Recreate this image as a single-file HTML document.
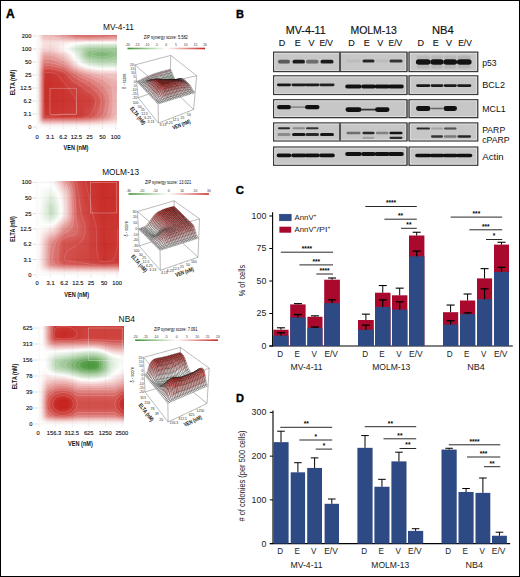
<!DOCTYPE html>
<html><head><meta charset="utf-8"><style>
html,body{margin:0;padding:0;background:#fff;}
#w{position:relative;width:520px;height:577px;overflow:hidden;background:#fff;}
.hm{position:absolute;}
.hm i{display:block;height:1px;}
svg{position:absolute;left:0;top:0;display:block;font-family:'Liberation Sans', sans-serif;}
</style></head><body><div id="w">
<div class="hm" style="left:36px;top:35px;width:81px;height:93px"><i style="background:linear-gradient(90deg,#ffffff 0px,#fffefe 1px,#fbf0ef 3px,#f0c3c1 7px,#eebcba 8px,#edb7b6 17px,#e28f8c 30px,#db716e 38px,#d76460 50px,#d86764 65px,#db7470 81px)"></i><i style="background:linear-gradient(90deg,#ffffff 0px,#fffefe 1px,#fbf0f0 3px,#f0c6c4 7px,#eebdbc 9px,#eebbba 17px,#e59896 30px,#dd7a77 39px,#d96c68 52px,#dc7572 69px,#de7f7d 81px)"></i><i style="background:linear-gradient(90deg,#ffffff 0px,#fef9f9 2px,#f1c9c8 7px,#efc1c0 9px,#efc0be 17px,#e7a2a0 30px,#e08583 40px,#dd7976 52px,#df817e 65px,#e28e8b 81px)"></i><i style="background:linear-gradient(90deg,#ffffff 0px,#fefafa 2px,#f2cdcc 7px,#f0c5c4 9px,#f0c4c2 18px,#eaaba9 31px,#e49592 40px,#e18986 53px,#e69f9c 81px)"></i><i style="background:linear-gradient(90deg,#ffffff 0px,#fefafa 2px,#f3d1d0 7px,#f2cac9 9px,#f1c8c6 20px,#ecb6b4 32px,#e8a4a2 42px,#e69c9a 54px,#ebb2b0 81px)"></i><i style="background:linear-gradient(90deg,#ffffff 0px,#fefbfb 2px,#f5d7d7 7px,#f3d2d0 9px,#f2cdcc 27px,#eebdbc 44px,#eebdbc 59px,#f2cbc9 81px)"></i><i style="background:linear-gradient(90deg,#ffffff 0px,#fefcfc 2px,#f6dad9 8px,#f6dcdb 46px,#f9e6e6 81px)"></i><i style="background:linear-gradient(90deg,#ffffff 0px,#fdf8f8 3px,#f7dfde 8px,#f7e0df 19px,#fdf8f8 46px,#fffefe 55px,#fffffe 81px)"></i><i style="background:linear-gradient(90deg,#ffffff 0px,#fdf8f8 3px,#f7dfdf 8px,#f7e0e0 19px,#fefffe 41px,#edf5ec 52px,#edf5ec 81px)"></i><i style="background:linear-gradient(90deg,#ffffff 0px,#fdf8f8 3px,#f7dfde 8px,#f7e0df 19px,#fdf8f7 32px,#ffffff 35px,#ddecdb 52px,#dcebd9 77px,#ddebda 81px)"></i><i style="background:linear-gradient(90deg,#ffffff 0px,#fdf8f8 3px,#f6dddc 8px,#f7dedd 18px,#faebea 25px,#fefffe 33px,#d4e6d0 49px,#cce2c8 57px,#cce2c9 78px,#cde2c9 81px)"></i><i style="background:linear-gradient(90deg,#ffffff 0px,#fefcfc 2px,#f6dbdb 8px,#f6dbdb 17px,#f9e9e8 24px,#fffefe 31px,#f3f8f3 35px,#cae1c6 48px,#bfdbbb 55px,#bcd9b7 71px,#bfdaba 81px)"></i><i style="background:linear-gradient(90deg,#ffffff 0px,#fefcfc 2px,#f5d9d8 8px,#f5d9d9 17px,#f9e9e9 24px,#fefefe 31px,#c1dbbc 48px,#b5d5af 54px,#aed1a8 68px,#b3d4ae 81px)"></i><i style="background:linear-gradient(90deg,#ffffff 0px,#fefcfb 2px,#f5d6d5 8px,#f5d7d6 17px,#faedec 25px,#fffefe 30px,#edf5ec 35px,#b3d4ae 50px,#a8cea2 57px,#a3cb9d 69px,#abcfa5 81px)"></i><i style="background:linear-gradient(90deg,#ffffff 0px,#fefbfb 2px,#f4d3d2 8px,#f4d2d1 16px,#f8e5e5 23px,#fffdfd 30px,#f9fcf9 32px,#bfdbbb 46px,#a7cda1 52px,#9bc693 64px,#9ec897 74px,#a6cca0 81px)"></i><i style="background:linear-gradient(90deg,#ffffff 0px,#fefbfb 2px,#f3d1d0 7px,#f1cac9 9px,#f2cecc 17px,#fdf8f8 30px,#fdfefd 32px,#c4dec0 45px,#a4cb9d 51px,#98c591 57px,#92c18a 67px,#9ac693 76px,#a2ca9b 81px)"></i><i style="background:linear-gradient(90deg,#ffffff 0px,#fefafa 2px,#f1c9c8 7px,#efc0bf 9px,#f0c5c4 17px,#faecec 29px,#fffefe 33px,#d0e4cc 43px,#9fc898 51px,#93c18b 56px,#8abc81 66px,#91c089 74px,#9fc898 80px,#9fc898 81px)"></i><i style="background:linear-gradient(90deg,#ffffff 0px,#fffefe 1px,#fbf0ef 3px,#efc0bf 7px,#edb9b7 8px,#edb7b6 12px,#eebebc 18px,#f9e7e7 30px,#fefbfb 34px,#fdfefd 35px,#d2e5cf 43px,#a0c999 50px,#93c28b 53px,#84b97b 64px,#87bb7e 71px,#9cc795 80px,#9cc795 81px)"></i><i style="background:linear-gradient(90deg,#ffffff 0px,#fffefe 1px,#fdf8f8 2px,#f7e0df 4px,#edb8b6 7px,#ebb0ae 8px,#eaaeac 11px,#ecb5b3 18px,#f6dad9 29px,#fefefe 36px,#d4e7d1 43px,#9ec897 50px,#90c088 53px,#81b778 63px,#82b879 70px,#92c18a 77px,#9bc694 80px,#9bc694 81px)"></i><i style="background:linear-gradient(90deg,#ffffff 0px,#fffefe 1px,#fdf8f7 2px,#f6dedd 4px,#ebb2b0 7px,#e9a9a7 8px,#e8a6a4 10px,#eaaeac 18px,#f3cfcd 28px,#fcf4f4 35px,#fdfefd 37px,#d6e8d3 43px,#9ec897 50px,#90c088 53px,#81b778 63px,#82b879 70px,#92c18a 77px,#9bc694 80px,#9bc694 81px)"></i><i style="background:linear-gradient(90deg,#ffffff 0px,#fffefe 1px,#fdf7f7 2px,#f6dbda 4px,#eaacab 7px,#e7a3a1 8px,#e7a09e 10px,#e9a8a6 18px,#f1c8c7 28px,#f9e9e8 34px,#fefdfd 37px,#fbfdfb 38px,#d9ead7 43px,#a7cda1 49px,#96c38f 52px,#86ba7d 61px,#84b97b 69px,#91c089 76px,#9cc795 80px,#9cc795 81px)"></i><i style="background:linear-gradient(90deg,#ffffff 0px,#fffefe 1px,#fdf7f6 2px,#f5d9d8 4px,#e9a7a5 7px,#e69d9b 8px,#e59b98 10px,#e7a2a0 18px,#efc2c0 28px,#f8e3e3 34px,#ffffff 38px,#ddecda 43px,#acd0a6 49px,#9bc694 52px,#8abd82 61px,#88bb80 69px,#94c28d 76px,#9fc898 80px,#9fc898 81px)"></i><i style="background:linear-gradient(90deg,#ffffff 0px,#fffefe 1px,#fdf6f6 2px,#f5d7d6 4px,#e7a3a1 7px,#e59896 8px,#e49593 10px,#e69d9b 18px,#eebbba 28px,#f7dede 34px,#fefbfb 38px,#fcfefc 39px,#d9e9d6 44px,#b2d3ad 49px,#9fc898 53px,#8fbf87 63px,#8fbf87 70px,#9fc898 78px,#a3cb9d 81px)"></i><i style="background:linear-gradient(90deg,#ffffff 0px,#fffefe 1px,#fdf6f5 2px,#f4d5d4 4px,#e69e9c 7px,#e39391 8px,#e3908d 9px,#e59895 18px,#ebb2b0 27px,#f2cbca 32px,#fffefe 39px,#edf5ec 42px,#b9d7b4 49px,#a7cda1 53px,#96c38f 63px,#97c490 71px,#a8cda2 81px)"></i><i style="background:linear-gradient(90deg,#ffffff 0px,#fffefe 1px,#fdf5f5 2px,#f4d3d2 4px,#eaaba9 6px,#e59a98 7px,#e28f8c 8px,#e18b88 9px,#e39290 18px,#eaacaa 27px,#f0c6c4 32px,#fefffe 40px,#bcd9b7 50px,#aed1a8 54px,#9ec897 64px,#a1c99a 73px,#add0a7 81px)"></i><i style="background:linear-gradient(90deg,#ffffff 0px,#fffefe 1px,#fcf5f5 2px,#f3d2d1 4px,#e9a7a5 6px,#e49693 7px,#e18a87 8px,#e08583 9px,#e28d8a 18px,#e8a5a3 27px,#edb9b8 31px,#fefbfb 40px,#fdfefd 41px,#c5dec0 50px,#b7d6b1 54px,#a6cda0 64px,#aacea3 74px,#b3d4ae 81px)"></i><i style="background:linear-gradient(90deg,#ffffff 0px,#fffefe 1px,#fcf4f4 2px,#f8e4e4 3px,#e8a4a2 6px,#e3918f 7px,#e08582 8px,#df807d 9px,#e08785 18px,#e69f9d 27px,#ecb3b1 31px,#fefcfb 41px,#fcfdfc 42px,#cde3c9 50px,#bddab9 55px,#afd1a9 64px,#b2d3ac 75px,#b9d7b4 81px)"></i><i style="background:linear-gradient(90deg,#ffffff 0px,#fffefe 1px,#fcf4f4 2px,#f8e3e2 3px,#e7a09d 6px,#e28c8a 7px,#de7f7c 8px,#dd7b77 9px,#df8380 19px,#e69c9a 28px,#edbab9 33px,#fcf5f5 41px,#fefcfc 42px,#fcfdfc 43px,#d5e7d2 50px,#c3ddbf 56px,#b6d6b1 65px,#bbd8b6 77px,#bedaba 81px)"></i><i style="background:linear-gradient(90deg,#ffffff 0px,#fffefe 1px,#fcf3f3 2px,#f8e2e1 3px,#e59b99 6px,#e08784 7px,#dd7976 8px,#dc7471 9px,#de7d7a 19px,#e49592 28px,#ecb3b1 33px,#fbeded 41px,#fefafa 43px,#fdfefd 44px,#daead8 51px,#c3ddbf 61px,#bfdaba 69px,#c6dec2 81px)"></i><i style="background:linear-gradient(90deg,#ffffff 0px,#fffefd 1px,#fcf3f3 2px,#f7e0e0 3px,#e49694 6px,#df817e 7px,#db736f 8px,#da6d6a 9px,#dc7572 19px,#e28d8a 28px,#e8a3a1 32px,#f8e4e4 41px,#fffdfd 45px,#f6faf6 47px,#deecdc 53px,#cbe2c8 63px,#cbe1c7 76px,#cfe3cb 81px)"></i><i style="background:linear-gradient(90deg,#ffffff 0px,#fffdfd 1px,#fcf2f2 2px,#f7dfde 3px,#e3918f 6px,#dd7b78 7px,#d96c68 8px,#d86663 9px,#da6e6a 19px,#e08481 28px,#e7a19f 33px,#f4d5d4 40px,#fffdfd 47px,#e5f0e3 55px,#d6e7d3 64px,#d6e8d3 77px,#d9e9d6 81px)"></i><i style="background:linear-gradient(90deg,#ffffff 0px,#fffdfd 1px,#fcf2f1 2px,#f6dddd 3px,#e28c89 6px,#dc7572 7px,#d86561 8px,#d65f5b 9px,#d86662 19px,#dd7b78 28px,#e59896 33px,#f1cac9 40px,#ffffff 50px,#e9f2e7 59px,#e0edde 67px,#e3efe1 81px)"></i><i style="background:linear-gradient(90deg,#ffffff 0px,#fffdfd 1px,#fbf1f1 2px,#f6dcdb 3px,#e08784 6px,#da6f6b 7px,#d65e5a 8px,#d45754 9px,#d65e5a 19px,#db7370 28px,#e28f8c 33px,#efbfbd 40px,#fcf1f1 50px,#ffffff 54px,#edf5ec 65px,#edf5ec 78px,#eff6ed 81px)"></i><i style="background:linear-gradient(90deg,#ffffff 0px,#fffdfd 1px,#fbf1f0 2px,#f6dada 3px,#df827f 6px,#d96965 7px,#d45753 8px,#d2504c 9px,#d45652 19px,#d96a67 28px,#e08582 33px,#ecb3b2 40px,#f8e4e3 50px,#fefcfc 59px,#fdfefc 62px,#f8fbf7 75px,#fafcfa 81px)"></i><i style="background:linear-gradient(90deg,#ffffff 0px,#fffdfd 1px,#fbf0f0 2px,#f5d9d8 3px,#de7d7a 6px,#d7635f 7px,#d2504c 8px,#d14a45 9px,#d24f4b 19px,#d7625e 28px,#dd7c79 33px,#eaadab 41px,#f5dad9 51px,#fcf4f3 62px,#fefafa 74px,#fdf8f8 81px)"></i><i style="background:linear-gradient(90deg,#ffffff 0px,#fffdfd 1px,#fbefef 2px,#f5d8d7 3px,#dd7976 6px,#d65d5a 7px,#d14a46 8px,#cf433f 9px,#d04844 19px,#d65e5a 29px,#e08683 36px,#eaaba9 43px,#f3d0cf 52px,#f9e7e7 63px,#faeded 77px,#faeceb 81px)"></i><i style="background:linear-gradient(90deg,#ffffff 0px,#fffdfd 1px,#fbefef 2px,#f5d7d6 3px,#dc7572 6px,#d55955 7px,#cf4541 8px,#ce3e39 9px,#cf423e 19px,#d45753 29px,#de7d7a 36px,#e8a4a2 44px,#f0c6c4 53px,#f6dcdb 64px,#f7e2e1 78px,#f7e1e0 81px)"></i><i style="background:linear-gradient(90deg,#ffffff 0px,#fefdfd 1px,#fbefee 2px,#f4d6d5 3px,#db726f 6px,#d45551 7px,#ce413d 8px,#cc3935 9px,#cd3d38 19px,#d2514d 29px,#e3918f 42px,#edb7b5 52px,#f3d0cf 64px,#f5d8d7 78px,#f5d7d6 81px)"></i><i style="background:linear-gradient(90deg,#ffffff 0px,#fefdfd 1px,#fbeeee 2px,#f4d5d4 3px,#da6f6c 6px,#d3524e 7px,#ce3e39 8px,#cc3631 9px,#cc3935 19px,#d14c48 29px,#e28c8a 43px,#ebafad 53px,#f1c7c6 65px,#f3d0cf 79px,#f3d0ce 81px)"></i><i style="background:linear-gradient(90deg,#ffffff 0px,#fefdfd 1px,#fbeeee 2px,#f4d5d4 3px,#da6e6b 6px,#d2504c 7px,#cd3c37 8px,#cb342f 9px,#cc3833 20px,#d04844 29px,#e18886 44px,#eaaba9 55px,#efc0bf 66px,#f1cac9 80px,#f1cac9 81px)"></i><i style="background:linear-gradient(90deg,#ffffff 0px,#fefdfd 1px,#fbeeee 2px,#f4d4d3 3px,#da6d6a 6px,#d2504c 7px,#cd3b36 8px,#cb332e 9px,#cc3732 20px,#d04945 30px,#df827f 44px,#e8a6a4 56px,#eebcbb 68px,#f1c7c6 81px)"></i><i style="background:linear-gradient(90deg,#ffffff 0px,#fefdfd 1px,#fbeeee 2px,#f4d4d3 3px,#da6d6a 6px,#d24f4b 7px,#cd3a36 8px,#cb322e 9px,#cc3631 20px,#d04743 30px,#df827f 46px,#e9a8a6 60px,#efc0be 75px,#f0c4c3 81px)"></i><i style="background:linear-gradient(90deg,#ffffff 0px,#fefdfd 1px,#fbeeee 2px,#f4d4d3 3px,#da6c69 6px,#d24f4b 7px,#cd3a35 8px,#cb322d 9px,#cc3632 21px,#cf4540 30px,#e18885 50px,#eaaeac 66px,#efc1c0 80px,#efc1c0 81px)"></i><i style="background:linear-gradient(90deg,#ffffff 0px,#fefdfd 1px,#fbeeee 2px,#f4d4d3 3px,#d96c69 6px,#d24e4a 7px,#cc3935 8px,#ca312d 9px,#cb3531 21px,#d04541 31px,#e28c8a 54px,#eaaead 69px,#efbfbd 81px)"></i><i style="background:linear-gradient(90deg,#ffffff 0px,#fefdfd 1px,#fbeeee 2px,#f4d4d3 3px,#d96c68 6px,#d24e4a 7px,#cc3934 8px,#ca312c 9px,#cb3530 21px,#cf433f 31px,#e59b99 62px,#eebdbb 80px,#eebdbb 81px)"></i><i style="background:linear-gradient(90deg,#ffffff 0px,#fefdfd 1px,#fbeeee 2px,#f4d4d3 3px,#d96b68 6px,#d24d49 7px,#cc3834 8px,#ca302c 9px,#cb3530 22px,#cf443f 32px,#e8a4a2 68px,#edbbb9 80px,#edbbb9 81px)"></i><i style="background:linear-gradient(90deg,#ffffff 0px,#fefdfd 1px,#fbeeee 2px,#f4d4d3 3px,#d96b68 6px,#d24d49 7px,#cc3833 8px,#ca302b 9px,#cb3430 22px,#cf443f 33px,#e28e8c 61px,#edb7b6 79px,#edb9b7 81px)"></i><i style="background:linear-gradient(90deg,#ffffff 0px,#fefdfd 1px,#fbeeee 2px,#f4d4d3 3px,#d96b68 6px,#d14d49 7px,#cc3833 8px,#ca302b 9px,#cb342f 22px,#cf423d 33px,#da6d6a 51px,#e9a8a6 73px,#edb7b5 81px)"></i><i style="background:linear-gradient(90deg,#ffffff 0px,#fefdfd 1px,#fbeeee 2px,#f4d4d3 3px,#d96b67 6px,#d14d48 7px,#cc3733 8px,#ca302b 9px,#cb342f 23px,#cf433f 35px,#d86562 50px,#e9aaa8 75px,#ecb5b4 81px)"></i><i style="background:linear-gradient(90deg,#ffffff 0px,#fefdfd 1px,#fbeeed 2px,#f4d4d3 3px,#d96b67 6px,#d14c48 7px,#cc3733 8px,#ca2f2b 9px,#cb342f 23px,#cf4440 37px,#d7615d 50px,#eaadab 77px,#ecb4b3 81px)"></i><i style="background:linear-gradient(90deg,#ffffff 0px,#fefdfd 1px,#fbeeed 2px,#f4d4d3 3px,#d96b67 6px,#d14c48 7px,#cc3733 8px,#ca2f2a 9px,#cb342f 24px,#d04743 40px,#d96a67 55px,#ebb1b0 79px,#ecb3b2 81px)"></i><i style="background:linear-gradient(90deg,#ffffff 0px,#fefdfd 1px,#fbeeed 2px,#f4d4d3 3px,#d96a67 6px,#d14c48 7px,#cc3732 8px,#ca2f2a 9px,#cb342f 24px,#d04642 41px,#d96966 56px,#ebb3b1 80px,#ebb3b1 81px)"></i><i style="background:linear-gradient(90deg,#ffffff 0px,#fefdfd 1px,#fbeeed 2px,#f4d4d3 3px,#d96a67 6px,#d14c48 7px,#cc3732 8px,#ca2f2a 9px,#cb342f 25px,#d04642 42px,#d86662 56px,#ebb2b1 80px,#ebb2b1 81px)"></i><i style="background:linear-gradient(90deg,#ffffff 0px,#fefdfd 1px,#fbeeed 2px,#f4d4d3 3px,#d96a67 6px,#d14c48 7px,#cc3732 8px,#ca2f2a 9px,#cb342f 25px,#d04642 43px,#d86562 57px,#ebb2b1 80px,#ebb2b1 81px)"></i><i style="background:linear-gradient(90deg,#ffffff 0px,#fefdfd 1px,#fbeeed 2px,#f4d4d3 3px,#d96a67 6px,#d14c48 7px,#cc3732 8px,#ca2f2a 9px,#cb3430 26px,#d04642 44px,#d7625e 57px,#ebb3b1 80px,#ebb3b1 81px)"></i><i style="background:linear-gradient(90deg,#ffffff 0px,#fefdfd 1px,#fbeeed 2px,#f4d4d3 3px,#d96a67 6px,#d14c48 7px,#cc3732 8px,#ca2f2a 9px,#cb3530 27px,#d04743 46px,#d65e5b 57px,#e7a09e 75px,#ecb3b1 80px,#ecb3b1 81px)"></i><i style="background:linear-gradient(90deg,#ffffff 0px,#fefdfd 1px,#fbeeed 2px,#f4d4d3 3px,#d96a67 6px,#d14c48 7px,#cc3732 8px,#ca2f2a 9px,#cb3530 28px,#d04743 47px,#d55b57 57px,#e49693 73px,#ecb3b2 80px,#ecb3b2 81px)"></i><i style="background:linear-gradient(90deg,#ffffff 0px,#fefdfd 1px,#fbeeed 2px,#f4d4d3 3px,#d96a67 6px,#d14c48 7px,#cc3732 8px,#ca2f2a 9px,#cb3530 28px,#d04844 49px,#d55b57 58px,#e49492 73px,#ebb1af 79px,#ecb4b2 81px)"></i><i style="background:linear-gradient(90deg,#ffffff 0px,#fefdfd 1px,#fbeeed 2px,#f4d4d3 3px,#d96a67 6px,#d14c48 7px,#cc3732 8px,#ca2f2a 9px,#cb3530 29px,#d04944 51px,#d45754 58px,#e28e8b 72px,#ebb1b0 79px,#ecb4b3 81px)"></i><i style="background:linear-gradient(90deg,#ffffff 0px,#fefdfd 1px,#fbeeed 2px,#f4d4d3 3px,#d96a67 6px,#d14c48 7px,#cc3732 8px,#ca2f2a 9px,#cb3531 30px,#d04945 53px,#d55b57 60px,#e28c89 72px,#ebb2b0 79px,#ecb5b3 81px)"></i><i style="background:linear-gradient(90deg,#ffffff 0px,#fefdfd 1px,#fbeeed 2px,#f4d4d3 3px,#d96a67 6px,#d14c48 7px,#cc3732 8px,#ca2f2a 9px,#cc3631 31px,#d04844 54px,#d55c58 61px,#e18a88 72px,#ebb2b0 79px,#ecb6b4 81px)"></i><i style="background:linear-gradient(90deg,#ffffff 0px,#fefdfd 1px,#fbeeed 2px,#f4d4d3 3px,#d96a67 6px,#d14c48 7px,#cc3732 8px,#ca2f2a 9px,#cc3631 32px,#d04642 54px,#d55955 61px,#df8481 71px,#ecb6b5 80px,#ecb6b5 81px)"></i><i style="background:linear-gradient(90deg,#ffffff 0px,#fefdfd 1px,#fbeeed 2px,#f4d4d3 3px,#d96a67 6px,#d14c48 7px,#cc3732 8px,#ca2f2a 9px,#cc3631 32px,#d04642 55px,#d55b57 62px,#df8280 71px,#edb7b5 80px,#edb7b5 81px)"></i><i style="background:linear-gradient(90deg,#ffffff 0px,#fefdfd 1px,#fbeeed 2px,#f4d4d3 3px,#d96a67 6px,#d14c48 7px,#cc3732 8px,#ca2f2a 9px,#cc3632 33px,#cf4440 55px,#d55956 62px,#df817e 71px,#edb8b6 80px,#edb8b6 81px)"></i><i style="background:linear-gradient(90deg,#ffffff 0px,#fefdfd 1px,#fbeeed 2px,#f4d4d3 3px,#d96a67 6px,#d14c48 7px,#cc3732 8px,#ca2f2a 9px,#cc3632 33px,#cf433f 55px,#d45854 62px,#df817e 71px,#edb8b7 80px,#edb8b7 81px)"></i><i style="background:linear-gradient(90deg,#ffffff 0px,#fefdfd 1px,#fbeeed 2px,#f4d4d3 3px,#d96a67 6px,#d14c48 7px,#cc3732 8px,#ca2f2a 9px,#cc3732 34px,#cf433e 55px,#d45854 62px,#df807d 71px,#edb9b7 80px,#edb9b7 81px)"></i><i style="background:linear-gradient(90deg,#ffffff 0px,#fefdfd 1px,#fbeeed 2px,#f4d4d3 3px,#d96a67 6px,#d14c48 7px,#cc3732 8px,#ca2f2a 9px,#cc3732 34px,#cf433e 55px,#d45854 62px,#df807d 71px,#edb9b8 80px,#edb9b8 81px)"></i><i style="background:linear-gradient(90deg,#ffffff 0px,#fefdfd 1px,#fbeeed 2px,#f4d4d3 3px,#d96a67 6px,#d14c48 7px,#cc3732 8px,#ca2f2a 9px,#cc3732 34px,#cf433e 55px,#d45854 62px,#df807d 71px,#edb9b8 80px,#edb9b8 81px)"></i><i style="background:linear-gradient(90deg,#ffffff 0px,#fefdfd 1px,#fbeeed 2px,#f4d4d3 3px,#d96b67 6px,#d14c48 7px,#cc3733 8px,#ca2f2a 9px,#cc3733 35px,#cf433f 55px,#d45854 62px,#df817e 71px,#edbab8 80px,#edbab8 81px)"></i><i style="background:linear-gradient(90deg,#ffffff 0px,#fefdfd 1px,#fbeeee 2px,#f4d4d3 3px,#d96b67 6px,#d14d48 7px,#cc3733 8px,#ca2f2b 9px,#cc3833 36px,#cf443f 55px,#d55955 62px,#df817e 71px,#edbab8 80px,#edbab8 81px)"></i><i style="background:linear-gradient(90deg,#ffffff 0px,#fefdfd 1px,#fbeeee 2px,#f4d4d3 3px,#d96b68 6px,#d14d49 7px,#cc3833 8px,#ca302b 9px,#cc3934 38px,#cf4440 55px,#d55a56 62px,#df827f 71px,#edbab9 80px,#edbab9 81px)"></i><i style="background:linear-gradient(90deg,#ffffff 0px,#fefdfd 1px,#fbeeee 2px,#f4d4d3 3px,#d96b68 6px,#d24d49 7px,#cc3834 8px,#ca302c 9px,#cd3a36 42px,#cf4541 55px,#d55b57 62px,#df8380 71px,#eebbb9 80px,#eebbb9 81px)"></i><i style="background:linear-gradient(90deg,#ffffff 0px,#fefdfd 1px,#fbeeee 2px,#f4d4d3 3px,#d96c68 6px,#d24e4a 7px,#cc3934 8px,#ca312c 9px,#cd3c38 45px,#d04844 56px,#d86864 65px,#e28f8c 73px,#eebbb9 80px,#eebbb9 81px)"></i><i style="background:linear-gradient(90deg,#ffffff 0px,#fefdfd 1px,#fbeeee 2px,#f4d4d3 3px,#d96c69 6px,#d24e4a 7px,#cc3935 8px,#ca312d 9px,#cd3d39 46px,#d14945 56px,#d96966 65px,#e3908d 73px,#eebbba 80px,#eebbba 81px)"></i><i style="background:linear-gradient(90deg,#ffffff 0px,#fefdfd 1px,#fbeeee 2px,#f4d4d3 3px,#da6d69 6px,#d24f4b 7px,#cd3a35 8px,#cb322d 9px,#ce3e3a 47px,#d24d49 57px,#dc7774 68px,#e8a3a1 76px,#eebbba 80px,#eebbba 81px)"></i><i style="background:linear-gradient(90deg,#ffffff 0px,#fefdfd 1px,#fbeeee 2px,#f4d4d3 3px,#da6d6a 6px,#d24f4b 7px,#cd3a36 8px,#cb332e 9px,#cd3d39 46px,#d14c48 56px,#da706d 66px,#e59896 74px,#eebcba 80px,#eebcba 81px)"></i><i style="background:linear-gradient(90deg,#ffffff 0px,#fefdfd 1px,#fbeeee 2px,#f4d5d4 3px,#da6e6a 6px,#d2504c 7px,#cd3b37 8px,#cb332f 9px,#cd3d38 45px,#d24e49 56px,#db716e 66px,#e59997 74px,#eebcbb 80px,#eebcbb 81px)"></i><i style="background:linear-gradient(90deg,#ffffff 0px,#fefdfd 1px,#fbeeee 2px,#f4d5d4 3px,#da6e6b 6px,#d2514d 7px,#cd3c38 8px,#cb3430 9px,#cd3d38 45px,#d3524e 57px,#dd7b78 68px,#eaacaa 77px,#eebdbb 80px,#eebdbb 81px)"></i><i style="background:linear-gradient(90deg,#ffffff 0px,#fefdfd 1px,#fbeeee 2px,#f4d5d4 3px,#da6f6b 6px,#d3514d 7px,#cd3d38 8px,#cb3530 9px,#cd3d38 45px,#d3534f 57px,#de7d7a 68px,#eaadab 77px,#eebdbc 80px,#eebdbc 81px)"></i><i style="background:linear-gradient(90deg,#ffffff 0px,#fefdfd 1px,#fbeeee 2px,#f4d5d4 3px,#da706c 6px,#d3524e 7px,#ce3e39 8px,#cc3632 9px,#cd3a36 40px,#cf423d 48px,#d45854 58px,#e08885 70px,#eebebc 80px,#eebebc 81px)"></i><i style="background:linear-gradient(90deg,#ffffff 0px,#fefdfd 1px,#fbefee 2px,#f4d5d5 3px,#db716e 6px,#d35450 7px,#ce403b 8px,#cc3833 9px,#cd3b37 37px,#ce3e3a 45px,#d45753 57px,#e08582 69px,#eebebd 80px,#eebebd 81px)"></i><i style="background:linear-gradient(90deg,#ffffff 0px,#fefdfd 1px,#fbefee 2px,#f5d6d5 3px,#db7370 6px,#d45652 7px,#cf423e 8px,#cd3b36 9px,#ce3e3a 35px,#ce3f3b 44px,#d55a56 57px,#e08784 69px,#efbfbe 80px,#efbfbe 81px)"></i><i style="background:linear-gradient(90deg,#ffffff 0px,#fffdfd 1px,#fbefef 2px,#f5d8d7 3px,#dd7875 6px,#d65d59 7px,#d14a46 8px,#cf423e 9px,#d04541 35px,#d04642 44px,#d7615d 57px,#e28c8a 69px,#efc2c1 80px,#efc2c1 81px)"></i><i style="background:linear-gradient(90deg,#ffffff 0px,#fffdfd 1px,#fbf1f0 2px,#f6dbda 3px,#df8380 6px,#d96a67 7px,#d45855 8px,#d3524e 9px,#d35450 36px,#d45652 45px,#db706d 58px,#e69e9c 71px,#f1c7c6 80px,#f1c7c6 81px)"></i><i style="background:linear-gradient(90deg,#ffffff 0px,#fffdfd 1px,#fcf2f2 2px,#f7dfde 3px,#e39290 6px,#dd7c79 7px,#da6c69 8px,#d86763 9px,#d86864 39px,#da6d6a 47px,#e08481 59px,#ebb2b0 73px,#f2cecc 80px,#f2cecc 81px)"></i><i style="background:linear-gradient(90deg,#ffffff 0px,#fffefe 1px,#fcf4f4 2px,#f8e4e4 3px,#e8a3a1 6px,#e3918e 7px,#df8481 8px,#de7f7c 9px,#df827f 45px,#e59795 59px,#efc1c0 74px,#f4d5d4 80px,#f4d5d4 81px)"></i><i style="background:linear-gradient(90deg,#ffffff 0px,#fffefe 1px,#fdf7f6 2px,#f5d9d8 4px,#e8a7a5 7px,#e69c9a 8px,#e59996 10px,#e69c99 46px,#eaaeac 60px,#f4d3d2 76px,#f6dedd 80px,#f6dedd 81px)"></i><i style="background:linear-gradient(90deg,#ffffff 0px,#fffefe 1px,#fbefef 3px,#eebdbb 7px,#ecb5b3 8px,#ebb2b0 11px,#ecb5b3 47px,#f1c6c5 63px,#f9e6e5 81px)"></i><i style="background:linear-gradient(90deg,#ffffff 0px,#fefbfa 2px,#f3d1d0 7px,#f1c9c8 9px,#f2cccb 49px,#f6dddc 68px,#fbeded 81px)"></i><i style="background:linear-gradient(90deg,#ffffff 0px,#fdf8f8 3px,#f7dfde 8px,#f7e0df 51px,#fcf4f4 81px)"></i><i style="background:linear-gradient(90deg,#ffffff 0px,#fdf9f8 4px,#fbeeed 9px,#fbf1f1 60px,#fef9f9 81px)"></i><i style="background:linear-gradient(90deg,#ffffff 0px,#fdf9f9 12px,#fefdfd 81px)"></i><i style="background:linear-gradient(90deg,#ffffff 0px,#ffffff 81px)"></i></div>
<div class="hm" style="left:36px;top:181px;width:83px;height:95px"><i style="background:linear-gradient(90deg,#ffffff 0px,#fdf9f9 16px,#faecec 19px,#d65e5a 38px,#d14b47 42px,#cc3632 52px,#c92d28 68px,#cb332f 83px)"></i><i style="background:linear-gradient(90deg,#ffffff 0px,#fefafa 16px,#faeded 19px,#db7471 35px,#d3534f 40px,#ce3f3a 47px,#ca312c 58px,#c92d29 72px,#cb332f 83px)"></i><i style="background:linear-gradient(90deg,#ffffff 0px,#fefcfc 16px,#faeaea 20px,#e3918e 32px,#d6605c 38px,#d14c47 42px,#cc3732 52px,#c92d28 68px,#cb332f 83px)"></i><i style="background:linear-gradient(90deg,#ffffff 0px,#ffffff 16px,#faeded 20px,#e69e9c 31px,#d7615e 38px,#d2504c 41px,#cd3a36 50px,#c92d28 66px,#cb322e 80px,#cb332f 83px)"></i><i style="background:linear-gradient(90deg,#ffffff 0px,#fdfefd 16px,#fffefe 17px,#faeaea 21px,#e7a3a1 31px,#d7635f 38px,#d2504c 41px,#cd3a36 50px,#c92d28 66px,#cb322e 80px,#cb332f 83px)"></i><i style="background:linear-gradient(90deg,#ffffff 0px,#fbfdfb 16px,#fffdfd 18px,#f7e0e0 23px,#e9a7a5 31px,#d76461 38px,#d3514d 41px,#cd3b36 50px,#c92d28 66px,#cb322d 80px,#cb332f 83px)"></i><i style="background:linear-gradient(90deg,#ffffff 0px,#f9fcf9 16px,#fefefe 18px,#fbf1f1 21px,#ecb5b3 30px,#d65e5a 39px,#d24e4a 42px,#cd3a35 51px,#c92d28 67px,#cb332f 83px)"></i><i style="background:linear-gradient(90deg,#ffffff 0px,#f7faf6 16px,#ffffff 19px,#f1c8c6 28px,#ebb0ae 31px,#d86764 38px,#d3524e 41px,#cd3d39 49px,#c92e29 64px,#ca302c 78px,#cb332f 83px)"></i><i style="background:linear-gradient(90deg,#ffffff 0px,#f7faf7 11px,#f5f9f4 16px,#fdfefd 19px,#fefdfd 20px,#eebdbc 30px,#d96965 38px,#d3534f 41px,#ce3e39 49px,#c92e29 64px,#ca302c 78px,#cb332f 83px)"></i><i style="background:linear-gradient(90deg,#ffffff 0px,#f8fbf8 9px,#f3f8f2 16px,#fffffe 20px,#f3d0cf 28px,#edb8b6 31px,#d96a67 38px,#d35450 41px,#ce3e3a 49px,#ca2e29 64px,#ca302c 78px,#cb332f 83px)"></i><i style="background:linear-gradient(90deg,#ffffff 0px,#f9fbf8 8px,#f0f7ef 16px,#fffdfd 21px,#f2cdcc 29px,#ebb1af 32px,#d96b68 38px,#d35450 41px,#ce3e3a 49px,#ca2e29 64px,#ca302c 78px,#cb332f 83px)"></i><i style="background:linear-gradient(90deg,#ffffff 0px,#f9fcf9 7px,#eef5ec 15px,#f6faf5 19px,#fefefe 21px,#fbefef 24px,#f1c8c7 30px,#e28f8d 35px,#d7635f 39px,#d2514d 42px,#cd3b37 51px,#c92d28 66px,#cb322d 80px,#cb332f 83px)"></i><i style="background:linear-gradient(90deg,#ffffff 0px,#f9fbf8 7px,#ebf4ea 15px,#f3f8f2 19px,#fffefe 22px,#f4d4d3 29px,#ecb6b5 32px,#da6e6a 38px,#d45552 41px,#ce3f3b 49px,#c92d29 65px,#ca312c 79px,#cb332f 83px)"></i><i style="background:linear-gradient(90deg,#ffffff 0px,#f8fbf8 7px,#e9f3e8 15px,#f1f7f0 19px,#fefefe 22px,#fbefef 25px,#f2cecd 30px,#e7a09d 34px,#da6f6b 38px,#d45652 41px,#ce403b 49px,#c92d29 65px,#ca312c 79px,#cb332f 83px)"></i><i style="background:linear-gradient(90deg,#ffffff 0px,#f9fcf9 6px,#e7f1e5 15px,#eff6ed 19px,#fffdfd 23px,#f5d8d8 29px,#edbab9 32px,#da706c 38px,#d45753 41px,#cf423e 48px,#ca2f2a 63px,#ca2f2a 76px,#cb332f 83px)"></i><i style="background:linear-gradient(90deg,#ffffff 0px,#f9fcf8 6px,#e4f0e2 15px,#e9f2e7 18px,#fffffe 23px,#f6dad9 29px,#eebcba 32px,#db706d 38px,#d45753 41px,#cf423e 48px,#ca2f2a 63px,#ca2f2a 76px,#cb332f 83px)"></i><i style="background:linear-gradient(90deg,#ffffff 0px,#f8fbf8 6px,#e3efe1 14px,#e4f0e2 17px,#f8fbf7 22px,#fdfefd 23px,#fefbfb 24px,#f4d3d1 30px,#e8a3a1 34px,#db716e 38px,#d45854 41px,#cf433e 48px,#ca2f2a 63px,#ca2e2a 75px,#cb332f 83px)"></i><i style="background:linear-gradient(90deg,#ffffff 0px,#fafcfa 5px,#e1eede 14px,#e1eedf 17px,#f6faf5 22px,#fefdfd 24px,#f4d3d2 30px,#e8a4a2 34px,#db726e 38px,#d45854 41px,#cf433f 48px,#ca2f2a 63px,#ca2e2a 75px,#cb332f 83px)"></i><i style="background:linear-gradient(90deg,#ffffff 0px,#fafcfa 5px,#deecdc 14px,#dfeddd 17px,#f4f9f3 22px,#fffefe 24px,#f4d4d3 30px,#e8a4a2 34px,#db726f 38px,#d45955 41px,#cf433f 48px,#ca2e2a 64px,#ca302b 77px,#cb332f 83px)"></i><i style="background:linear-gradient(90deg,#ffffff 0px,#fafcf9 5px,#dcebd9 14px,#dcebda 17px,#f3f8f2 22px,#fefffe 24px,#f4d4d3 30px,#e59795 35px,#d96965 39px,#d55955 41px,#cf4440 48px,#ca2e2a 64px,#ca302b 77px,#cb332f 83px)"></i><i style="background:linear-gradient(90deg,#ffffff 0px,#f9fcf9 5px,#d9e9d6 14px,#daead7 17px,#f1f7f0 22px,#fdfefd 24px,#fcf3f3 26px,#f4d4d3 30px,#e59896 35px,#d96966 39px,#d55956 41px,#cf4440 48px,#ca2f2a 64px,#ca302b 77px,#cb332f 83px)"></i><i style="background:linear-gradient(90deg,#ffffff 0px,#f9fbf8 5px,#d7e8d4 14px,#d7e8d5 17px,#eff6ee 22px,#fcfdfc 24px,#fefbfb 25px,#f4d5d4 30px,#e59896 35px,#d96a66 39px,#d55a56 41px,#cf4440 48px,#ca2f2a 64px,#ca302b 77px,#cb342f 83px)"></i><i style="background:linear-gradient(90deg,#ffffff 0px,#f8fbf8 5px,#d4e7d1 14px,#d5e7d2 17px,#eef5ed 22px,#fbfdfb 24px,#fefcfc 25px,#f4d5d4 30px,#dc7471 38px,#d55a57 41px,#cf4540 48px,#ca2f2a 64px,#ca302b 77px,#cb342f 83px)"></i><i style="background:linear-gradient(90deg,#ffffff 0px,#fbfdfb 4px,#e2eee0 10px,#d2e5cf 14px,#d3e6d0 17px,#edf5eb 22px,#fafcfa 24px,#fefdfd 25px,#f4d5d5 30px,#dc7572 38px,#d55b57 41px,#cf4541 48px,#ca2f2a 64px,#ca302b 77px,#cb342f 83px)"></i><i style="background:linear-gradient(90deg,#ffffff 0px,#fbfdfa 4px,#e6f1e4 9px,#d0e4cd 14px,#cfe3cb 16px,#dfeddd 20px,#fffefe 25px,#f4d6d5 30px,#dc7572 38px,#d55b57 41px,#d04541 48px,#ca2f2a 64px,#ca302b 77px,#cb342f 83px)"></i><i style="background:linear-gradient(90deg,#ffffff 0px,#fbfcfa 4px,#e5f0e3 9px,#cfe3cb 14px,#cde3c9 16px,#deecdc 20px,#fffefe 25px,#f5d6d5 30px,#dc7673 38px,#d55b58 41px,#d04641 48px,#ca2f2b 64px,#ca302c 77px,#cb3430 83px)"></i><i style="background:linear-gradient(90deg,#ffffff 0px,#fafcfa 4px,#e4f0e2 9px,#cde3ca 14px,#cce2c8 16px,#d7e8d4 19px,#ffffff 25px,#f5d6d5 30px,#dc7673 38px,#d55c58 41px,#d04642 48px,#ca302b 64px,#ca302c 77px,#cb3430 83px)"></i><i style="background:linear-gradient(90deg,#ffffff 0px,#fafcfa 4px,#e4f0e2 9px,#cde2c9 14px,#cbe1c7 16px,#d6e8d4 19px,#ffffff 25px,#f5d6d5 30px,#dc7673 38px,#d55c59 41px,#d04642 48px,#ca302b 64px,#ca312c 77px,#cb3530 83px)"></i><i style="background:linear-gradient(90deg,#ffffff 0px,#fafcfa 4px,#e4efe2 9px,#cce2c8 14px,#cae1c6 16px,#d6e8d3 19px,#fefffe 25px,#f5d7d6 30px,#dc7774 38px,#d55d59 41px,#d04743 48px,#ca302b 64px,#ca312c 77px,#cb3530 83px)"></i><i style="background:linear-gradient(90deg,#ffffff 0px,#fafcfa 4px,#e4efe2 9px,#cce2c8 14px,#cae1c6 16px,#d6e8d3 19px,#fefffe 25px,#f5d7d6 30px,#dc7774 38px,#d65d59 41px,#d04743 48px,#ca302b 64px,#ca312c 77px,#cb3530 83px)"></i><i style="background:linear-gradient(90deg,#ffffff 0px,#fafcfa 4px,#e4efe2 9px,#cce2c9 14px,#cae1c7 16px,#d6e8d3 19px,#fefffe 25px,#f5d7d6 30px,#dc7774 38px,#d65e5a 41px,#d04743 48px,#ca302c 64px,#ca312c 77px,#cb3531 83px)"></i><i style="background:linear-gradient(90deg,#ffffff 0px,#fafcfa 4px,#e4f0e2 9px,#cde2c9 14px,#cbe1c7 16px,#d7e8d4 19px,#fefffe 25px,#f5d7d6 30px,#dc7774 38px,#d65e5a 41px,#d04844 48px,#ca312c 64px,#ca312d 77px,#cb3531 83px)"></i><i style="background:linear-gradient(90deg,#ffffff 0px,#fafcfa 4px,#dfeddd 10px,#cee3ca 14px,#cce2c8 16px,#d7e8d4 19px,#ffffff 25px,#f5d7d6 30px,#dc7774 38px,#d65e5b 41px,#d04844 48px,#ca312c 64px,#ca322d 77px,#cb3631 83px)"></i><i style="background:linear-gradient(90deg,#ffffff 0px,#fafcfa 4px,#e0edde 10px,#d0e4cc 14px,#cee3ca 16px,#deecdc 20px,#fffefe 25px,#f4d6d5 30px,#dc7774 38px,#d65f5b 41px,#d04945 48px,#ca312c 64px,#cb322d 77px,#cc3631 83px)"></i><i style="background:linear-gradient(90deg,#ffffff 0px,#fbfcfa 4px,#ddecda 11px,#d0e4cd 15px,#d6e8d3 18px,#fbfdfa 24px,#fefcfc 25px,#f4d4d3 30px,#dc7774 38px,#d6605c 41px,#d04743 49px,#ca312c 65px,#cb332e 78px,#cc3631 83px)"></i><i style="background:linear-gradient(90deg,#ffffff 0px,#f8fbf8 5px,#d5e7d2 14px,#d6e8d3 17px,#eaf3e8 21px,#fefefe 24px,#f3d1d0 30px,#da6e6a 39px,#d55c58 42px,#cf4440 51px,#ca302c 66px,#cb342f 79px,#cc3632 83px)"></i><i style="background:linear-gradient(90deg,#ffffff 0px,#f9fbf8 5px,#d9e9d6 14px,#daead7 17px,#eef5ed 21px,#fbfdfb 23px,#fefcfc 24px,#f2cdcc 30px,#da6e6a 39px,#d65d59 42px,#cf4540 51px,#ca312c 66px,#cb3430 79px,#cc3732 83px)"></i><i style="background:linear-gradient(90deg,#ffffff 0px,#f9fcf9 5px,#ddecdb 14px,#dfeddc 17px,#f3f8f2 21px,#fffefe 23px,#efbfbe 31px,#da6e6a 39px,#d55a57 43px,#cf423d 53px,#ca312c 66px,#cb3530 79px,#cc3732 83px)"></i><i style="background:linear-gradient(90deg,#ffffff 0px,#fafcfa 5px,#e2efe0 14px,#e4f0e2 17px,#f8fbf7 21px,#fefffe 22px,#edbab9 31px,#da6e6a 39px,#d55b58 43px,#cf423e 53px,#ca312d 66px,#cb3530 79px,#cc3733 83px)"></i><i style="background:linear-gradient(90deg,#ffffff 0px,#f9fcf9 6px,#e6f1e5 15px,#edf5ec 18px,#fefefe 21px,#f9e9e9 24px,#eaacaa 32px,#da6e6a 39px,#d55956 44px,#ce413d 54px,#ca312d 67px,#cc3632 80px,#cc3833 83px)"></i><i style="background:linear-gradient(90deg,#ffffff 0px,#f9fbf8 7px,#ecf4ea 15px,#f3f8f2 18px,#fefefe 20px,#fcf2f2 22px,#eebebc 29px,#da6e6a 39px,#d35450 46px,#cd3d38 57px,#ca322d 68px,#cc3834 83px)"></i><i style="background:linear-gradient(90deg,#ffffff 0px,#f8fbf7 9px,#f2f7f1 15px,#f9fcf9 18px,#fefffe 19px,#faeaea 22px,#eebdbc 28px,#da6e6a 39px,#d2504c 48px,#cc3934 60px,#cb322d 69px,#cc3934 83px)"></i><i style="background:linear-gradient(90deg,#ffffff 0px,#f9fbf8 16px,#ffffff 18px,#f6dbda 23px,#ecb6b4 28px,#da6e6a 39px,#d04945 51px,#cb342f 65px,#cb3631 78px,#cc3934 83px)"></i><i style="background:linear-gradient(90deg,#ffffff 0px,#fefffe 16px,#fcf2f1 19px,#eaaead 28px,#d96a67 40px,#d04541 53px,#cb332f 66px,#cc3732 79px,#cc3935 83px)"></i><i style="background:linear-gradient(90deg,#ffffff 0px,#fdf9f9 16px,#faebea 19px,#eaadab 27px,#d96a67 40px,#d04641 53px,#cb332f 66px,#cc3732 79px,#cc3935 83px)"></i><i style="background:linear-gradient(90deg,#ffffff 0px,#fcf3f2 16px,#f8e4e3 19px,#e8a6a4 27px,#d96b67 40px,#cf4440 54px,#cb342f 66px,#cc3733 79px,#cd3a35 83px)"></i><i style="background:linear-gradient(90deg,#ffffff 0px,#fcf5f4 10px,#faecec 16px,#f6dedd 19px,#e7a09e 27px,#da6e6a 39px,#cf4440 54px,#cb342f 66px,#cc3733 79px,#cd3a35 83px)"></i><i style="background:linear-gradient(90deg,#ffffff 0px,#fdf7f7 7px,#f8e3e2 17px,#f1c9c7 21px,#e59a98 27px,#dc7774 36px,#d04642 53px,#cb342f 66px,#cc3733 79px,#cd3a35 83px)"></i><i style="background:linear-gradient(90deg,#ffffff 0px,#fdf8f7 6px,#f6dddc 17px,#f0c3c2 21px,#e49593 27px,#dd7875 35px,#cf4440 54px,#cb342f 66px,#cc3733 79px,#cd3a35 83px)"></i><i style="background:linear-gradient(90deg,#ffffff 0px,#fdf9f8 5px,#f5d7d6 17px,#eebdbb 21px,#e3908d 27px,#dc7875 34px,#d45652 47px,#ce3f3b 57px,#cb332f 67px,#cc3934 80px,#cd3a35 83px)"></i><i style="background:linear-gradient(90deg,#ffffff 0px,#fdf7f7 5px,#f5d7d6 15px,#f0c5c4 19px,#e18b88 27px,#dc7572 34px,#d7615d 43px,#cf433e 55px,#cb332f 67px,#cc3934 80px,#cd3a35 83px)"></i><i style="background:linear-gradient(90deg,#ffffff 0px,#fef9f9 4px,#f4d3d2 14px,#f0c4c3 18px,#e08582 27px,#db716e 34px,#d7635f 42px,#cf433e 55px,#cb332f 67px,#cc3834 80px,#cd3a35 83px)"></i><i style="background:linear-gradient(90deg,#ffffff 0px,#fdf8f8 4px,#f2ccca 14px,#eebdbb 18px,#de807d 27px,#da6e6b 34px,#d76360 41px,#cf433e 55px,#cb332e 67px,#cc3834 80px,#cd3a35 83px)"></i><i style="background:linear-gradient(90deg,#ffffff 0px,#fefbfb 3px,#f6dddd 9px,#f0c4c3 14px,#ebafad 19px,#de7f7c 26px,#db716e 30px,#d65f5c 42px,#ce413d 56px,#cb332e 67px,#cc3733 79px,#cd3a35 83px)"></i><i style="background:linear-gradient(90deg,#ffffff 0px,#fefafa 3px,#f7e0df 8px,#eebdbc 14px,#e9a8a6 19px,#dd7976 26px,#da6d6a 30px,#d65e5a 42px,#ce3e3a 58px,#cb322e 68px,#cc3834 80px,#cd3a35 83px)"></i><i style="background:linear-gradient(90deg,#ffffff 0px,#fefafa 3px,#f6dcdc 8px,#ecb6b5 14px,#e7a09e 19px,#db7470 26px,#d96965 30px,#d55c58 42px,#cc3632 63px,#cb332e 72px,#cd3a35 83px)"></i><i style="background:linear-gradient(90deg,#ffffff 0px,#fef9f9 3px,#f7e1e0 7px,#ecb5b3 13px,#e39391 20px,#da6e6b 26px,#d76461 30px,#d45854 43px,#cb332e 66px,#cc3631 78px,#cd3a35 83px)"></i><i style="background:linear-gradient(90deg,#ffffff 0px,#fdf9f9 3px,#f7dedd 7px,#eaafad 13px,#e28d8a 20px,#d96966 26px,#d6615d 30px,#d45652 43px,#cb332e 66px,#cc3631 78px,#cd3a35 83px)"></i><i style="background:linear-gradient(90deg,#ffffff 0px,#fdf8f8 3px,#f6dcdb 7px,#e9a9a7 13px,#df817e 21px,#d86561 26px,#d65d59 30px,#d3534f 44px,#cb322d 67px,#cc3732 79px,#cd3a35 83px)"></i><i style="background:linear-gradient(90deg,#ffffff 0px,#fdf8f8 3px,#f5dad9 7px,#e8a4a2 13px,#dc7673 22px,#d65e5a 27px,#d24e4a 47px,#cb322d 67px,#cc3732 79px,#cd3a35 83px)"></i><i style="background:linear-gradient(90deg,#ffffff 0px,#fdf8f8 3px,#f5d8d7 7px,#e7a09d 13px,#e18b88 17px,#d65e5a 26px,#d45753 31px,#d24f4a 46px,#ca322d 67px,#cc3732 79px,#cd3a35 83px)"></i><i style="background:linear-gradient(90deg,#ffffff 0px,#fefcfc 2px,#f9e9e9 5px,#e69c9a 13px,#e08784 17px,#d55b57 26px,#d35551 31px,#d14d49 47px,#ca312d 67px,#cc3732 79px,#cd3a35 83px)"></i><i style="background:linear-gradient(90deg,#ffffff 0px,#fefcfc 2px,#f9e9e8 5px,#e59a97 13px,#e08481 17px,#d55956 26px,#d35450 31px,#d14c48 47px,#ca312c 68px,#cc3732 79px,#cd3a35 83px)"></i><i style="background:linear-gradient(90deg,#ffffff 0px,#fefcfc 2px,#f9e8e8 5px,#e59896 13px,#e08683 16px,#d96b68 22px,#d45652 27px,#d14a45 49px,#ca312c 68px,#cc3732 79px,#cd3a35 83px)"></i><i style="background:linear-gradient(90deg,#ffffff 0px,#fefcfc 2px,#f9e8e8 5px,#e49795 13px,#e08582 16px,#d96a67 22px,#d45551 27px,#d14945 49px,#ca312c 68px,#cc3732 79px,#cd3a35 83px)"></i><i style="background:linear-gradient(90deg,#ffffff 0px,#fefcfc 2px,#f9e8e7 5px,#e49694 13px,#df8481 16px,#d96966 22px,#d35551 27px,#d04945 49px,#ca312d 68px,#cc3732 79px,#cd3a36 83px)"></i><i style="background:linear-gradient(90deg,#ffffff 0px,#fefcfc 2px,#f9e8e7 5px,#e49593 13px,#df8380 16px,#d76360 23px,#d35450 27px,#d04844 50px,#ca312d 68px,#cc3732 79px,#cd3a36 83px)"></i><i style="background:linear-gradient(90deg,#ffffff 0px,#fefcfc 2px,#f9e7e7 5px,#e49492 13px,#df827f 16px,#d7635f 23px,#d35450 27px,#d04844 50px,#ca312d 68px,#cc3733 79px,#cd3a36 83px)"></i><i style="background:linear-gradient(90deg,#ffffff 0px,#fefcfc 2px,#f9e7e7 5px,#e39391 13px,#df817e 16px,#d45652 26px,#d2504c 32px,#d04843 50px,#ca322d 68px,#cc3733 79px,#cd3a36 83px)"></i><i style="background:linear-gradient(90deg,#ffffff 0px,#fefcfc 2px,#f9e7e7 5px,#e39390 13px,#de807d 16px,#d45652 26px,#d2504c 32px,#d04743 50px,#cb322d 68px,#cc3833 79px,#cd3b36 83px)"></i><i style="background:linear-gradient(90deg,#ffffff 0px,#fefcfc 2px,#f9e7e6 5px,#e3928f 13px,#de7f7c 16px,#d3534f 27px,#d04541 52px,#cb322d 68px,#cc3833 79px,#cd3b36 83px)"></i><i style="background:linear-gradient(90deg,#ffffff 0px,#fefcfc 2px,#f9e7e6 5px,#e3918f 13px,#de7e7b 16px,#d3524e 27px,#cf4440 53px,#cb322e 68px,#cd3a35 80px,#cd3b37 83px)"></i><i style="background:linear-gradient(90deg,#ffffff 0px,#fefcfc 2px,#f9e7e6 5px,#e3918e 13px,#de7e7b 16px,#d3524e 27px,#cf4440 53px,#cb332e 68px,#cd3a35 80px,#cd3c37 83px)"></i><i style="background:linear-gradient(90deg,#ffffff 0px,#fefcfc 2px,#f9e7e6 5px,#e3908e 13px,#de7d7a 16px,#d3524e 27px,#cf443f 54px,#cb332f 68px,#cd3a36 80px,#cd3c37 83px)"></i><i style="background:linear-gradient(90deg,#ffffff 0px,#fefcfc 2px,#f9e6e6 5px,#e3908d 13px,#de7d7a 16px,#d3524e 27px,#cf433f 54px,#cb342f 68px,#cd3b36 80px,#cd3c38 83px)"></i><i style="background:linear-gradient(90deg,#ffffff 0px,#fefcfc 2px,#f9e6e6 5px,#e28f8d 13px,#de7c79 16px,#d3524e 27px,#cf433e 55px,#cb342f 68px,#cd3b37 80px,#cd3d38 83px)"></i><i style="background:linear-gradient(90deg,#ffffff 0px,#fefcfc 2px,#f9e6e6 5px,#e28f8d 13px,#de7c79 16px,#d3514d 27px,#cf433e 55px,#cb3430 68px,#cd3c37 80px,#cd3d39 83px)"></i><i style="background:linear-gradient(90deg,#ffffff 0px,#fefcfc 2px,#f9e6e6 5px,#e28f8d 13px,#dd7c79 16px,#d3514d 27px,#cf433e 55px,#cb3530 68px,#cd3c38 80px,#ce3e39 83px)"></i><i style="background:linear-gradient(90deg,#ffffff 0px,#fefcfc 2px,#f9e6e6 5px,#e28f8c 13px,#dd7c79 16px,#d3514d 27px,#cf423d 56px,#cb3631 68px,#cd3d38 80px,#ce3e3a 83px)"></i><i style="background:linear-gradient(90deg,#ffffff 0px,#fefcfc 2px,#f9e6e6 5px,#e28f8d 13px,#de7c79 16px,#d3524e 27px,#cf423e 56px,#cc3732 68px,#ce3e39 80px,#ce3f3b 83px)"></i><i style="background:linear-gradient(90deg,#ffffff 0px,#fefcfc 2px,#f9e7e6 5px,#e3908e 13px,#de7d7a 16px,#d35450 27px,#cf4541 55px,#cc3935 69px,#cf423d 83px)"></i><i style="background:linear-gradient(90deg,#ffffff 0px,#fefcfc 2px,#f9e7e6 5px,#e3928f 13px,#de7f7c 16px,#d45753 27px,#d04844 55px,#cd3d38 69px,#cf4541 83px)"></i><i style="background:linear-gradient(90deg,#ffffff 0px,#fefcfc 2px,#f9e7e7 5px,#e49492 13px,#df827f 16px,#d55a57 27px,#d14d49 54px,#cf423d 69px,#d14945 83px)"></i><i style="background:linear-gradient(90deg,#ffffff 0px,#fefcfc 2px,#f9e8e8 5px,#e49795 13px,#e08583 16px,#d6605c 27px,#d3534f 53px,#d04844 69px,#d2504c 83px)"></i><i style="background:linear-gradient(90deg,#ffffff 0px,#fdf8f7 3px,#f5d7d7 7px,#e69e9c 13px,#e28e8b 16px,#d96b68 27px,#d6605c 52px,#d45652 70px,#d55c58 83px)"></i><i style="background:linear-gradient(90deg,#ffffff 0px,#fdf8f8 3px,#f6dcdb 7px,#e9a8a6 13px,#e59a97 16px,#dd7c79 27px,#db726f 51px,#d86865 70px,#da6e6b 83px)"></i><i style="background:linear-gradient(90deg,#ffffff 0px,#fef9f9 3px,#f7e1e0 7px,#ecb5b3 13px,#e8a6a4 17px,#e28f8c 27px,#e08784 51px,#de7f7c 71px,#df8380 83px)"></i><i style="background:linear-gradient(90deg,#ffffff 0px,#fefafa 3px,#f7e0df 8px,#eebebc 14px,#e8a4a2 27px,#e69c9a 52px,#e49795 73px,#e59a98 83px)"></i><i style="background:linear-gradient(90deg,#ffffff 0px,#fdf8f8 4px,#f2cccb 14px,#edb8b6 28px,#ebb2b0 53px,#ebafad 76px,#ebb1af 83px)"></i><i style="background:linear-gradient(90deg,#ffffff 0px,#fdf7f7 5px,#f5dad9 14px,#f2ccca 29px,#f0c5c4 77px,#f0c6c5 83px)"></i><i style="background:linear-gradient(90deg,#ffffff 0px,#fdf8f8 6px,#f8e4e4 15px,#f6dddc 32px,#f5d9d8 83px)"></i><i style="background:linear-gradient(90deg,#ffffff 0px,#fcf5f5 10px,#faedec 21px,#f9e8e8 83px)"></i><i style="background:linear-gradient(90deg,#ffffff 0px,#fdf5f5 24px,#fcf4f3 83px)"></i><i style="background:linear-gradient(90deg,#ffffff 0px,#fefbfb 81px,#fefbfb 83px)"></i><i style="background:linear-gradient(90deg,#ffffff 0px,#ffffff 83px)"></i></div>
<div class="hm" style="left:37px;top:326px;width:87px;height:100px"><i style="background:linear-gradient(90deg,#ffffff 0px,#fffefe 4px,#fcf3f2 6px,#f9e7e6 7px,#efc2c0 9px,#e59895 11px,#d86864 14px,#d24e4a 16px,#ce3f3b 18px,#cd3a36 28px,#cf433e 55px,#cf433e 87px)"></i><i style="background:linear-gradient(90deg,#ffffff 0px,#fffefe 4px,#fcf3f2 6px,#f9e7e6 7px,#efc2c0 9px,#e59795 11px,#d55955 15px,#cf4440 17px,#cd3b37 19px,#cc3834 31px,#cf423e 51px,#cf433e 87px)"></i><i style="background:linear-gradient(90deg,#ffffff 0px,#fffefe 4px,#fcf3f2 6px,#f9e7e6 7px,#efc1c0 9px,#e49795 11px,#d45854 15px,#cf423e 17px,#cc3934 19px,#cb3530 29px,#cf423e 50px,#cf433e 87px)"></i><i style="background:linear-gradient(90deg,#ffffff 0px,#fffefe 4px,#fcf3f2 6px,#f9e6e6 7px,#efc1c0 9px,#e49794 11px,#d45753 15px,#ce413c 17px,#cc3732 19px,#ca322d 29px,#cf423d 48px,#cf433e 87px)"></i><i style="background:linear-gradient(90deg,#ffffff 0px,#fffefe 4px,#fcf3f2 6px,#f9e6e6 7px,#efc1c0 9px,#e49694 11px,#d45652 15px,#ce3f3b 17px,#cb3530 19px,#ca2e29 28px,#ce413d 48px,#cf433e 87px)"></i><i style="background:linear-gradient(90deg,#ffffff 0px,#fffefe 4px,#fcf3f2 6px,#f9e6e6 7px,#efc1c0 9px,#e49694 11px,#d35551 15px,#ce3e39 17px,#cb332e 19px,#c92b27 27px,#cc3632 37px,#cf423d 49px,#cf433e 87px)"></i><i style="background:linear-gradient(90deg,#ffffff 0px,#fffefe 4px,#fcf2f2 6px,#f9e6e6 7px,#efc1c0 9px,#e49693 11px,#d35450 15px,#cd3d38 17px,#cb322d 19px,#c82a25 27px,#cb332f 36px,#ce413c 47px,#cf433e 87px)"></i><i style="background:linear-gradient(90deg,#ffffff 0px,#fffefe 4px,#fcf2f2 6px,#f9e6e6 7px,#efc1c0 9px,#e49693 11px,#d35450 15px,#cd3c38 17px,#ca312c 19px,#c82924 27px,#cb332e 36px,#ce413c 47px,#cf433e 87px)"></i><i style="background:linear-gradient(90deg,#ffffff 0px,#fffefe 4px,#fcf2f2 6px,#f9e6e6 7px,#efc1c0 9px,#e49693 11px,#d35450 15px,#cd3c38 17px,#ca312c 19px,#c82924 27px,#cb332e 36px,#ce413c 47px,#cf433e 87px)"></i><i style="background:linear-gradient(90deg,#ffffff 0px,#fffefe 4px,#fcf2f2 6px,#f9e6e6 7px,#efc1c0 9px,#e49693 11px,#d35450 15px,#cd3d38 17px,#cb322d 19px,#c82a25 27px,#cb332f 36px,#ce413c 47px,#cf433e 87px)"></i><i style="background:linear-gradient(90deg,#ffffff 0px,#fffefe 4px,#fcf3f2 6px,#f9e6e6 7px,#efc1c0 9px,#e49694 11px,#d35551 15px,#ce3e39 17px,#cb332e 19px,#c92b27 27px,#cc3632 37px,#cf423d 49px,#cf433e 87px)"></i><i style="background:linear-gradient(90deg,#ffffff 0px,#fffefe 4px,#fcf3f2 6px,#f9e7e6 7px,#efc1c0 9px,#e49794 11px,#d45652 15px,#ce403b 17px,#cb3531 19px,#ca2f2a 28px,#cf423e 48px,#cf433f 87px)"></i><i style="background:linear-gradient(90deg,#ffffff 0px,#fffefe 4px,#fcf3f3 6px,#f9e7e6 7px,#f0c3c1 9px,#e59997 11px,#d55a57 15px,#cf4541 17px,#cd3b37 19px,#cc3631 29px,#d04642 48px,#cf4541 87px)"></i><i style="background:linear-gradient(90deg,#ffffff 0px,#fffefe 4px,#fcf3f3 6px,#f9e8e7 7px,#f0c5c4 9px,#e69d9b 11px,#d7615e 15px,#d14d49 17px,#cf4440 19px,#ce403b 29px,#d24e4a 50px,#d14b46 70px,#d04945 87px)"></i><i style="background:linear-gradient(90deg,#ffffff 0px,#fffefe 4px,#fcf4f4 6px,#f6dada 8px,#e7a3a1 11px,#d96b67 15px,#d45854 17px,#d2504c 19px,#d14d49 30px,#d55955 51px,#d45652 64px,#d24f4b 80px,#d24e4a 87px)"></i><i style="background:linear-gradient(90deg,#ffffff 0px,#fffefe 4px,#fcf5f4 6px,#f6dddc 8px,#e9a9a7 11px,#dc7673 15px,#d86561 17px,#d65e5a 19px,#d55c59 32px,#d86662 53px,#d7625f 63px,#d45652 77px,#d45652 87px)"></i><i style="background:linear-gradient(90deg,#ffffff 0px,#fffefe 4px,#fdf6f5 6px,#f7e0df 8px,#ebb1af 11px,#df8380 15px,#da6f6b 18px,#d96c68 30px,#dc7572 55px,#da706d 63px,#d65f5c 75px,#d65e5a 87px)"></i><i style="background:linear-gradient(90deg,#ffffff 0px,#fefcfc 5px,#fbefee 7px,#eaaeac 12px,#e18986 16px,#de7f7c 18px,#de7e7b 32px,#e08683 56px,#df817e 62px,#d96b67 74px,#d86764 87px)"></i><i style="background:linear-gradient(90deg,#ffffff 0px,#fefcfc 5px,#fbf1f0 7px,#edb9b7 12px,#e59896 16px,#e28f8c 19px,#e39290 38px,#e59795 58px,#e28d8b 64px,#dc7673 74px,#db726f 87px)"></i><i style="background:linear-gradient(90deg,#ffffff 0px,#fefcfc 5px,#fcf3f3 7px,#f0c3c2 12px,#e9a8a6 16px,#e7a09e 19px,#e8a5a3 39px,#e9aba9 57px,#e8a4a2 62px,#e08481 73px,#de7e7b 81px,#de7d7a 87px)"></i><i style="background:linear-gradient(90deg,#ffffff 0px,#fefdfd 5px,#fbeeee 8px,#f2cecd 12px,#edb8b6 16px,#ebb1b0 19px,#edb8b6 39px,#efbfbd 56px,#edbab8 61px,#e3928f 73px,#e18a88 79px,#e18986 87px)"></i><i style="background:linear-gradient(90deg,#ffffff 0px,#fffdfd 5px,#fcf2f1 8px,#f4d3d2 13px,#f0c4c3 17px,#f0c4c3 29px,#f4d4d3 54px,#f3d0cf 60px,#ecb6b4 67px,#e69d9b 74px,#e49694 81px,#e49593 87px)"></i><i style="background:linear-gradient(90deg,#ffffff 0px,#fefcfc 6px,#f5d8d7 15px,#f4d3d2 20px,#f6dbdb 37px,#f9e8e8 53px,#f8e4e4 60px,#f2cccb 66px,#eaaeac 73px,#e8a4a2 78px,#e7a19f 87px)"></i><i style="background:linear-gradient(90deg,#ffffff 0px,#fefdfd 6px,#f8e5e5 15px,#f8e3e2 21px,#faecec 36px,#fefdfc 52px,#fdf9f8 60px,#f7dfde 66px,#eebdbb 73px,#ebb2b0 78px,#eaaeac 87px)"></i><i style="background:linear-gradient(90deg,#ffffff 0px,#fefbfb 8px,#fbf0f0 17px,#fef9f9 33px,#fefefe 38px,#eff6ee 52px,#f3f8f2 60px,#fdfefd 63px,#fefcfc 64px,#f2cccb 73px,#efbfbd 78px,#edbab8 87px)"></i><i style="background:linear-gradient(90deg,#ffffff 0px,#fefcfc 17px,#fefefe 25px,#eff6ee 38px,#deecdc 51px,#e0edde 59px,#f1f7f0 64px,#fffdfd 67px,#f6dada 73px,#f2cdcc 77px,#f0c6c5 87px)"></i><i style="background:linear-gradient(90deg,#ffffff 0px,#fcfefc 13px,#e9f2e7 34px,#cee3cb 50px,#cee3cb 58px,#d8e9d5 62px,#f7faf7 68px,#fdfefd 69px,#fcf4f4 71px,#f6dddc 76px,#f4d2d1 85px,#f3d1d0 87px)"></i><i style="background:linear-gradient(90deg,#ffffff 0px,#fdfefc 10px,#ebf4ea 22px,#dfeddd 33px,#c0dbbc 49px,#bedaba 57px,#c8e0c4 62px,#e2efe0 67px,#fbfdfb 71px,#fefdfc 72px,#f9e9e9 76px,#f6dddc 85px,#f6dcdb 87px)"></i><i style="background:linear-gradient(90deg,#ffffff 0px,#fdfefd 9px,#e4f0e2 21px,#d8e9d5 32px,#b3d3ad 49px,#b0d2aa 56px,#b7d6b2 61px,#c8e0c4 65px,#fbfdfb 73px,#fffefe 74px,#fbf0f0 78px,#f9e6e5 87px)"></i><i style="background:linear-gradient(90deg,#ffffff 0px,#fdfefc 9px,#dcebda 21px,#d0e4cd 31px,#a6cc9f 48px,#a1c99a 55px,#a7cda0 60px,#bcd9b7 65px,#f6faf5 74px,#fefffe 76px,#fbf0ef 85px,#fbeeee 87px)"></i><i style="background:linear-gradient(90deg,#ffffff 0px,#fefefe 8px,#e6f1e5 15px,#d4e6d1 21px,#c6dec2 31px,#97c490 48px,#92c18a 55px,#98c591 60px,#b1d2ab 65px,#edf5ec 74px,#fbfdfb 78px,#ffffff 80px,#fdf6f5 87px)"></i><i style="background:linear-gradient(90deg,#ffffff 0px,#fefefe 8px,#ebf4ea 13px,#cee3ca 20px,#bbd8b6 31px,#8bbd82 47px,#83b87a 54px,#87bb7e 59px,#99c591 63px,#e6f1e4 74px,#f5f9f4 78px,#ffffff 84px,#fefbfb 87px)"></i><i style="background:linear-gradient(90deg,#ffffff 0px,#fefefe 8px,#e8f2e6 13px,#c9e0c5 19px,#c1dcbc 23px,#b1d3ac 31px,#7db574 47px,#75b06b 54px,#79b370 59px,#8dbe84 63px,#daead8 73px,#eaf3e8 76px,#fbfdfb 84px,#ffffff 87px)"></i><i style="background:linear-gradient(90deg,#ffffff 0px,#fefefd 8px,#ebf4ea 12px,#c3ddbe 19px,#b9d7b4 23px,#a9cea2 31px,#73af69 46px,#68a95d 53px,#6dac62 59px,#7bb472 62px,#a4cb9d 67px,#d7e8d4 73px,#e6f1e4 76px,#f9fcf9 84px,#fdfefd 87px)"></i><i style="background:linear-gradient(90deg,#ffffff 0px,#fefefd 8px,#eaf3e8 12px,#bddab9 19px,#b4d4af 22px,#a4cb9e 30px,#69aa5e 46px,#5ea352 53px,#63a657 59px,#72ae67 62px,#9dc796 67px,#d4e6d1 73px,#e4f0e2 76px,#f9fbf8 84px,#fdfefc 87px)"></i><i style="background:linear-gradient(90deg,#ffffff 0px,#fefefd 8px,#e8f2e7 12px,#bad7b5 19px,#b0d2aa 22px,#9fc898 30px,#61a556 46px,#579f4a 52px,#58a04c 58px,#63a658 61px,#83b97a 65px,#c9e0c5 72px,#deecdc 75px,#f5f9f4 82px,#fdfefd 87px)"></i><i style="background:linear-gradient(90deg,#ffffff 0px,#fefefe 8px,#eff6ed 11px,#b7d6b2 19px,#add0a7 22px,#9ec897 29px,#76b16c 39px,#5ba24f 46px,#519c44 52px,#539d46 58px,#5ea352 61px,#7fb675 65px,#c7dfc3 72px,#ddecdb 75px,#f5f9f4 82px,#fdfefd 87px)"></i><i style="background:linear-gradient(90deg,#ffffff 0px,#fefefe 8px,#eff6ee 11px,#b6d6b1 19px,#acd0a6 22px,#9dc796 29px,#73af69 39px,#58a04c 46px,#4e9a41 52px,#4f9b43 58px,#5aa14f 61px,#7cb472 65px,#c5dec1 72px,#dcebda 75px,#f5f9f4 82px,#fefefe 87px)"></i><i style="background:linear-gradient(90deg,#ffffff 0px,#fefffe 8px,#eff6ee 11px,#b7d6b1 19px,#acd0a6 22px,#9dc795 29px,#72ae67 39px,#569f4a 46px,#4c993f 52px,#4e9a41 58px,#59a04d 61px,#7ab370 65px,#c5dec0 72px,#dcebd9 75px,#f5f9f5 82px,#fefffe 87px)"></i><i style="background:linear-gradient(90deg,#ffffff 0px,#ffffff 8px,#f0f6ef 11px,#b8d6b2 19px,#add0a7 22px,#9dc796 29px,#72af68 39px,#569f4a 46px,#4c993f 52px,#509b43 59px,#5fa454 62px,#84b97b 66px,#cee3ca 73px,#e1eedf 76px,#f8fbf8 83px,#ffffff 87px)"></i><i style="background:linear-gradient(90deg,#ffffff 0px,#fffefe 8px,#f7fbf7 10px,#b9d7b4 19px,#afd1a9 22px,#9fc898 29px,#73af69 39px,#579f4b 46px,#4d9a41 52px,#519c44 59px,#60a555 62px,#85ba7c 66px,#cee3cb 73px,#e2efe0 76px,#fafcf9 83px,#ffffff 86px,#fffdfd 87px)"></i><i style="background:linear-gradient(90deg,#ffffff 0px,#fdfefd 9px,#deecdb 14px,#bcd9b7 19px,#b2d3ad 22px,#a3ca9c 29px,#7cb472 38px,#5aa14f 46px,#519c44 51px,#529c45 58px,#5da351 61px,#7db574 65px,#d0e4cd 73px,#e4efe2 76px,#fbfdfb 83px,#ffffff 85px,#fefbfb 87px)"></i><i style="background:linear-gradient(90deg,#ffffff 0px,#fefcfc 8px,#ffffff 9px,#e1eedf 14px,#c1dcbc 19px,#b7d6b2 22px,#a8cda2 29px,#81b778 38px,#60a454 46px,#569f4a 51px,#579f4b 58px,#62a657 61px,#82b879 65px,#d2e5cf 73px,#e6f1e4 76px,#fdfefd 83px,#fefdfd 85px,#fef9f9 87px)"></i><i style="background:linear-gradient(90deg,#ffffff 0px,#fefbfb 8px,#fcfdfc 10px,#c7dfc3 19px,#bdd9b8 23px,#acd0a6 30px,#68a95d 46px,#5ea352 51px,#5fa453 58px,#6aaa5f 61px,#88bb80 65px,#d5e7d2 73px,#e8f2e6 76px,#fdfefd 82px,#fefcfc 84px,#fdf7f7 87px)"></i><i style="background:linear-gradient(90deg,#ffffff 0px,#fefafa 8px,#ffffff 10px,#cfe4cb 19px,#c6dec2 23px,#b6d5b1 30px,#72af68 46px,#67a95c 52px,#69aa5e 58px,#74b069 61px,#91c089 65px,#d9e9d6 73px,#ebf4ea 76px,#fdfefd 81px,#fefbfb 83px,#fcf4f3 87px)"></i><i style="background:linear-gradient(90deg,#ffffff 0px,#fef9f9 9px,#fefefe 11px,#d5e7d2 20px,#c4dec0 29px,#a5cc9e 37px,#7fb675 46px,#74b06a 52px,#76b16c 58px,#80b676 61px,#9bc693 65px,#e4f0e2 74px,#fafcfa 79px,#fffdfd 81px,#fbf0f0 87px)"></i><i style="background:linear-gradient(90deg,#ffffff 0px,#fef9f9 6px,#fdf7f6 9px,#fefffe 12px,#e0edde 20px,#d1e5ce 29px,#b3d4ad 37px,#8dbe85 46px,#82b879 52px,#84b97c 58px,#8ebe85 61px,#aed1a8 66px,#e9f2e7 74px,#fefefe 79px,#faedec 87px)"></i><i style="background:linear-gradient(90deg,#ffffff 0px,#fefbfb 5px,#fcf4f3 9px,#fdfefd 14px,#eaf3e9 21px,#deecdc 29px,#c2dcbd 37px,#9cc795 46px,#92c18a 53px,#96c38f 59px,#a7cda0 63px,#f3f8f2 75px,#ffffff 78px,#faebeb 85px,#f9e8e8 87px)"></i><i style="background:linear-gradient(90deg,#ffffff 0px,#fefafa 5px,#fbf0f0 9px,#fdf6f6 13px,#fffefe 16px,#ecf4eb 29px,#d1e5ce 37px,#add0a7 46px,#a3ca9c 53px,#a7cda1 59px,#bad8b5 64px,#f8fbf8 75px,#fffefe 77px,#f9e8e8 84px,#f8e4e3 87px)"></i><i style="background:linear-gradient(90deg,#ffffff 0px,#fefcfc 4px,#faeceb 10px,#ffffff 26px,#eff6ee 33px,#bddab8 46px,#b4d4ae 53px,#b8d6b3 59px,#c9e0c5 64px,#fefefd 75px,#f8e3e2 84px,#f7dede 87px)"></i><i style="background:linear-gradient(90deg,#ffffff 0px,#fefbfb 4px,#f9e7e6 10px,#fcf2f2 27px,#fffefe 32px,#e3efe1 40px,#cde3ca 46px,#c5dec1 53px,#cae1c7 60px,#e3efe1 67px,#ffffff 74px,#f8e4e4 81px,#f5d9d8 87px)"></i><i style="background:linear-gradient(90deg,#ffffff 0px,#fefbfb 4px,#f8e2e1 10px,#f7e2e1 24px,#faeded 31px,#fffefe 36px,#dfeddd 45px,#d5e7d2 53px,#daead7 60px,#f9fcf9 70px,#fffefe 72px,#f6dbdb 82px,#f4d3d2 87px)"></i><i style="background:linear-gradient(90deg,#ffffff 0px,#fefafa 4px,#f6dddc 10px,#f4d6d5 20px,#f5d9d9 28px,#faecec 35px,#fefefe 40px,#edf5ec 45px,#e4f0e2 53px,#e9f2e7 60px,#fffefe 69px,#f4d2d1 83px,#f2cccb 87px)"></i><i style="background:linear-gradient(90deg,#ffffff 0px,#fefdfd 3px,#f9e9e9 7px,#f4d5d4 11px,#f2cac9 23px,#f3d1d0 30px,#faeaea 38px,#ffffff 43px,#f3f8f2 52px,#f7faf6 60px,#fffefe 65px,#f7e2e1 76px,#f1c9c8 84px,#f0c5c4 87px)"></i><i style="background:linear-gradient(90deg,#ffffff 0px,#fefcfc 3px,#fbeeed 6px,#f4d3d2 10px,#f0c4c2 18px,#efc1bf 26px,#f2cdcc 33px,#fcf4f4 44px,#fffdfd 53px,#fdf7f7 62px,#f6dbda 76px,#efc2c1 84px,#eebebd 87px)"></i><i style="background:linear-gradient(90deg,#ffffff 0px,#fefcfc 3px,#faeceb 6px,#f2cdcc 10px,#eebdbb 17px,#ecb6b5 25px,#efc0be 32px,#f7dfde 41px,#f9e8e8 45px,#fbefef 55px,#f8e5e4 65px,#f4d3d2 76px,#edbbb9 84px,#ecb6b5 87px)"></i><i style="background:linear-gradient(90deg,#ffffff 0px,#fefcfc 3px,#f9e9e9 6px,#f1c8c7 10px,#ecb6b5 16px,#eaadab 24px,#ecb3b1 31px,#f2cccb 39px,#f5dad9 43px,#f7e1e1 55px,#f4d5d4 68px,#f2cccb 76px,#ebb3b1 84px,#eaaeac 87px)"></i><i style="background:linear-gradient(90deg,#ffffff 0px,#fefbfb 3px,#f9e7e7 6px,#efc2c1 10px,#ebb1af 15px,#e8a4a1 23px,#e9a7a5 30px,#eebebc 38px,#f2cdcc 42px,#f4d5d4 55px,#f0c3c2 76px,#e9aaa8 84px,#e8a6a4 87px)"></i><i style="background:linear-gradient(90deg,#ffffff 0px,#fefbfb 3px,#f8e5e4 6px,#eebcba 10px,#eaacaa 14px,#e59b99 22px,#e69c9a 29px,#eaadab 36px,#efc2c1 42px,#f1c8c7 56px,#edb9b8 77px,#e7a2a0 84px,#e69d9b 87px)"></i><i style="background:linear-gradient(90deg,#ffffff 0px,#fefbfb 3px,#faecec 5px,#ecb6b4 10px,#e9a8a6 13px,#e39391 21px,#e3918f 28px,#e7a09e 35px,#edb7b5 41px,#eebcbb 57px,#ebb2b0 77px,#e59997 84px,#e49492 87px)"></i><i style="background:linear-gradient(90deg,#ffffff 0px,#fffefe 2px,#fcf4f4 4px,#f4d3d2 7px,#ebafae 10px,#e8a4a2 12px,#e28c89 20px,#e08684 26px,#e28e8b 32px,#e9aaa8 40px,#eaaeac 42px,#ebb0af 60px,#e9a9a7 77px,#e3918e 84px,#e18c89 87px)"></i><i style="background:linear-gradient(90deg,#ffffff 0px,#fffefe 2px,#fcf3f3 4px,#f3d0cf 7px,#e9a9a7 10px,#e69d9b 12px,#df8380 20px,#de7d7a 26px,#e08482 32px,#e8a4a2 41px,#e8a6a3 62px,#e69e9c 78px,#e18885 84px,#df8380 87px)"></i><i style="background:linear-gradient(90deg,#ffffff 0px,#fffefe 2px,#fcf2f2 4px,#f2cccb 7px,#e7a3a0 10px,#e49693 12px,#dd7a77 20px,#db7370 26px,#dd7b78 32px,#e49492 39px,#e59b98 41px,#e59b98 66px,#e49794 78px,#de7f7c 84px,#dd7a77 87px)"></i><i style="background:linear-gradient(90deg,#ffffff 0px,#fffefe 2px,#fbf1f1 4px,#f5d8d7 6px,#e69c9a 10px,#e28e8c 12px,#db7471 19px,#d96a67 25px,#da6f6c 31px,#e08784 38px,#e3908e 40px,#e3928f 66px,#e28f8d 78px,#dc7774 84px,#db716e 87px)"></i><i style="background:linear-gradient(90deg,#ffffff 0px,#fffefe 2px,#fbf0f0 4px,#f4d5d4 6px,#e49693 10px,#e08785 12px,#d96b68 19px,#d7615d 25px,#d86763 31px,#de7f7c 38px,#e18986 40px,#e18885 78px,#da6e6b 84px,#d86865 87px)"></i><i style="background:linear-gradient(90deg,#ffffff 0px,#fffefe 2px,#fbefef 4px,#f4d3d2 6px,#e69e9c 9px,#e28f8d 10px,#e08683 11px,#d86663 18px,#d55955 24px,#d55c58 30px,#da6e6b 36px,#df817e 40px,#df807d 78px,#d86663 84px,#d6605c 87px)"></i><i style="background:linear-gradient(90deg,#ffffff 0px,#fffefe 2px,#fbeeee 4px,#f3d0cf 6px,#e59996 9px,#e18987 10px,#de7f7c 11px,#d65e5b 18px,#d2514d 24px,#d35450 30px,#d86663 36px,#dd7976 40px,#dd7976 78px,#d65e5b 84px,#d45854 87px)"></i><i style="background:linear-gradient(90deg,#ffffff 0px,#fffefe 2px,#fdf8f8 3px,#f7dfdf 5px,#e49491 9px,#df8481 10px,#dd7976 11px,#d45753 18px,#d04945 24px,#d14a46 29px,#d55b57 35px,#db726f 40px,#db726f 78px,#d45753 84px,#d2504c 87px)"></i><i style="background:linear-gradient(90deg,#ffffff 0px,#fffdfd 2px,#fdf7f7 3px,#f7dedd 5px,#e28f8c 9px,#de7e7b 10px,#db7370 11px,#d2504c 18px,#cf413d 24px,#cf433e 29px,#d35450 35px,#d96c68 40px,#d96b68 78px,#d2504c 84px,#d14945 87px)"></i><i style="background:linear-gradient(90deg,#ffffff 0px,#fffdfd 2px,#fdf7f7 3px,#f6dddc 5px,#e18b88 9px,#dd7976 10px,#da6e6a 11px,#d14945 18px,#cd3b36 24px,#cd3c38 29px,#d24e49 35px,#d86662 40px,#d86562 78px,#d14a46 84px,#cf433f 87px)"></i><i style="background:linear-gradient(90deg,#ffffff 0px,#fffdfd 2px,#fdf7f7 3px,#faebeb 4px,#f1c8c7 6px,#e08684 9px,#dc7571 10px,#d96965 11px,#d04844 17px,#cc3631 23px,#cb3530 28px,#ce403c 33px,#d6605d 40px,#d6605d 78px,#cf4440 84px,#cd3d39 87px)"></i><i style="background:linear-gradient(90deg,#ffffff 0px,#fffdfd 2px,#fdf6f6 3px,#faebea 4px,#f0c6c5 6px,#df8380 9px,#db706d 10px,#d76461 11px,#cf433e 17px,#cb322e 22px,#ca2f2a 27px,#cc3833 32px,#d3524e 38px,#d55c58 40px,#d55c58 78px,#ce3f3b 84px,#cc3833 87px)"></i><i style="background:linear-gradient(90deg,#ffffff 0px,#fffdfd 2px,#fdf6f6 3px,#faeaea 4px,#f0c5c3 6px,#de807d 9px,#da6d69 10px,#d6605c 11px,#ce3e3a 17px,#ca2e29 22px,#c92a25 27px,#cb332e 32px,#d24d49 38px,#d45854 40px,#d45854 78px,#cd3b36 84px,#cb342f 87px)"></i><i style="background:linear-gradient(90deg,#ffffff 0px,#fffdfd 2px,#fdf6f6 3px,#faeae9 4px,#f0c3c2 6px,#de7d7a 9px,#d96a66 10px,#d65d59 11px,#cd3a36 17px,#c92a25 22px,#c82722 27px,#ca2f2b 32px,#d14a46 38px,#d45551 40px,#d45551 78px,#cc3733 84px,#ca302b 87px)"></i><i style="background:linear-gradient(90deg,#ffffff 0px,#fffdfd 2px,#fdf6f6 3px,#f9e9e9 4px,#efc2c1 6px,#dd7b78 9px,#d86764 10px,#d55a56 11px,#cc3733 17px,#c82722 22px,#c7241f 28px,#ca2f2b 33px,#d14d49 39px,#d3534f 40px,#d3534f 78px,#cb3430 84px,#c92d29 87px)"></i><i style="background:linear-gradient(90deg,#ffffff 0px,#fffdfd 2px,#fdf6f6 3px,#f9e9e8 4px,#efc2c0 6px,#dd7976 9px,#d86562 10px,#d45854 11px,#cb3531 17px,#c72520 22px,#c72520 30px,#cb3531 35px,#d3514d 40px,#d3514d 78px,#cc3631 83px,#c92b27 87px)"></i><i style="background:linear-gradient(90deg,#ffffff 0px,#fffdfd 2px,#fdf6f5 3px,#f9e9e8 4px,#efc1c0 6px,#dc7875 9px,#d76460 10px,#d45753 11px,#cb342f 17px,#c7241f 22px,#c72621 31px,#cc3834 36px,#d2504c 40px,#d2504c 78px,#cb3430 83px,#c92a25 87px)"></i><i style="background:linear-gradient(90deg,#ffffff 0px,#fffdfd 2px,#fdf6f5 3px,#f9e9e8 4px,#efc1bf 6px,#dc7774 9px,#d76360 10px,#d45652 11px,#cb332e 17px,#c72520 21px,#c72520 31px,#cc3833 36px,#d24f4b 40px,#d2504c 78px,#cb342f 83px,#c82925 87px)"></i><i style="background:linear-gradient(90deg,#ffffff 0px,#fffdfd 2px,#fdf6f5 3px,#f9e9e8 4px,#efc1bf 6px,#dc7774 9px,#d76360 10px,#d45652 11px,#cb332e 17px,#c72520 21px,#c72520 31px,#cc3833 36px,#d24f4b 40px,#d2504c 78px,#cb342f 83px,#c82925 87px)"></i><i style="background:linear-gradient(90deg,#ffffff 0px,#fffdfd 2px,#fdf6f5 3px,#f9e9e8 4px,#efc1c0 6px,#dc7875 9px,#d76460 10px,#d45753 11px,#cb342f 17px,#c7241f 22px,#c72621 31px,#cc3834 36px,#d2504c 40px,#d2504c 78px,#cb3430 83px,#c92a25 87px)"></i><i style="background:linear-gradient(90deg,#ffffff 0px,#fffdfd 2px,#fdf6f6 3px,#f9e9e8 4px,#efc2c0 6px,#dd7976 9px,#d86562 10px,#d45854 11px,#cb3531 17px,#c72520 22px,#c72520 30px,#cb3531 35px,#d3514d 40px,#d3514d 78px,#cc3631 83px,#c92b27 87px)"></i><i style="background:linear-gradient(90deg,#ffffff 0px,#fffdfd 2px,#fdf6f6 3px,#f9e9e9 4px,#efc2c1 6px,#dd7b78 9px,#d86764 10px,#d55a56 11px,#cc3733 17px,#c82722 22px,#c7241f 28px,#ca2f2b 33px,#d14d49 39px,#d3534f 40px,#d3534f 78px,#cb3430 84px,#c92d29 87px)"></i><i style="background:linear-gradient(90deg,#ffffff 0px,#fffdfd 2px,#fdf6f6 3px,#faeae9 4px,#f0c3c2 6px,#de7d7a 9px,#d96a66 10px,#d65d59 11px,#cd3a36 17px,#c92a25 22px,#c82722 27px,#ca2f2a 32px,#d14a46 38px,#d45551 40px,#d45551 78px,#cc3733 84px,#ca302b 87px)"></i><i style="background:linear-gradient(90deg,#ffffff 0px,#fffdfd 2px,#fdf6f6 3px,#faeaea 4px,#f0c5c3 6px,#de807d 9px,#da6d69 10px,#d6605c 11px,#ce3e3a 17px,#ca2e29 22px,#c92a25 27px,#cb332e 32px,#d24d49 38px,#d45854 40px,#d45854 78px,#cd3b36 84px,#cb342f 87px)"></i><i style="background:linear-gradient(90deg,#ffffff 0px,#fffdfd 2px,#fdf6f6 3px,#faebea 4px,#f0c6c5 6px,#df8380 9px,#db706d 10px,#d76461 11px,#cf433e 17px,#cb322e 22px,#ca2f2a 27px,#cc3733 32px,#d3524e 38px,#d55c58 40px,#d55c58 78px,#ce3f3b 84px,#cc3833 87px)"></i><i style="background:linear-gradient(90deg,#ffffff 0px,#fffdfd 2px,#fdf7f7 3px,#faebeb 4px,#f1c8c7 6px,#e08684 9px,#dc7571 10px,#d96965 11px,#d04844 17px,#cc3631 23px,#cb3530 28px,#ce403c 33px,#d6605d 40px,#d6605d 78px,#cf4440 84px,#cd3d39 87px)"></i><i style="background:linear-gradient(90deg,#ffffff 0px,#fffdfd 2px,#fdf7f7 3px,#f6dddc 5px,#e18b88 9px,#dd7976 10px,#da6e6a 11px,#d14945 18px,#cd3b36 24px,#cd3c38 29px,#d24d49 35px,#d86562 40px,#d86562 78px,#d14a46 84px,#cf433f 87px)"></i><i style="background:linear-gradient(90deg,#ffffff 0px,#fffdfd 2px,#fdf7f7 3px,#f7dedd 5px,#e28f8c 9px,#de7e7b 10px,#db7370 11px,#d2504c 18px,#cf413d 24px,#cf433e 29px,#d35450 35px,#d96b68 40px,#d96b68 78px,#d2504c 84px,#d14945 87px)"></i><i style="background:linear-gradient(90deg,#ffffff 0px,#fffefe 2px,#fdf8f8 3px,#f7dfdf 5px,#e49491 9px,#df8481 10px,#dd7976 11px,#d45753 18px,#d04945 24px,#d14a46 29px,#d55b57 35px,#db726e 40px,#db726e 78px,#d45753 84px,#d2504c 87px)"></i><i style="background:linear-gradient(90deg,#ffffff 0px,#fffefe 2px,#fbeeee 4px,#f3d0cf 6px,#e59996 9px,#e18987 10px,#de7f7c 11px,#d65e5b 18px,#d2514d 24px,#d3534f 30px,#d86663 36px,#dd7975 40px,#dd7975 78px,#d65e5b 84px,#d45854 87px)"></i><i style="background:linear-gradient(90deg,#ffffff 0px,#fffefe 2px,#fbf0ef 4px,#f4d4d3 6px,#e7a19f 9px,#e39390 10px,#e18986 11px,#d96a67 18px,#d65e5a 24px,#d6605d 30px,#db726e 36px,#df8381 40px,#df8381 78px,#d96a67 84px,#d76461 87px)"></i><i style="background:linear-gradient(90deg,#ffffff 0px,#fffefe 2px,#fcf2f1 4px,#f2cbca 7px,#e7a19e 10px,#e49491 12px,#dc7875 20px,#db716e 26px,#dc7875 32px,#e49491 40px,#e49491 78px,#de7d7a 84px,#dc7875 87px)"></i><i style="background:linear-gradient(90deg,#ffffff 0px,#fefafa 3px,#faebeb 5px,#ebb1b0 10px,#e8a7a5 12px,#e3908d 20px,#e18a87 27px,#e49492 34px,#e9a7a5 41px,#e8a7a5 78px,#e39290 85px,#e28f8d 87px)"></i><i style="background:linear-gradient(90deg,#ffffff 0px,#fefbfb 3px,#f9e7e7 6px,#f0c3c2 10px,#ecb3b1 15px,#e8a5a3 23px,#e9a7a5 31px,#eebcba 41px,#eebbb9 78px,#e9a9a7 86px,#e9a8a6 87px)"></i><i style="background:linear-gradient(90deg,#ffffff 0px,#fefcfc 3px,#fbeeee 6px,#f4d4d3 10px,#efc2c1 19px,#eebebc 28px,#f1cac9 38px,#f3cfce 43px,#f2cecd 78px,#efc1bf 87px)"></i><i style="background:linear-gradient(90deg,#ffffff 0px,#fefbfb 4px,#f7e0e0 11px,#f4d4d4 24px,#f6dad9 36px,#f7e0e0 43px,#f7dfde 78px,#f5d6d5 87px)"></i><i style="background:linear-gradient(90deg,#ffffff 0px,#fefbfb 5px,#faeded 12px,#f9e7e6 28px,#fbeeed 47px,#faecec 79px,#f9e8e7 87px)"></i><i style="background:linear-gradient(90deg,#ffffff 0px,#fcf5f5 20px,#fdf6f6 80px,#fcf5f5 87px)"></i><i style="background:linear-gradient(90deg,#ffffff 0px,#fefcfc 87px)"></i><i style="background:linear-gradient(90deg,#ffffff 0px,#ffffff 87px)"></i></div>
<svg width="520" height="577" viewBox="0 0 520 577">
<text x="5.9" y="17.7" font-size="12.0" font-weight="bold" stroke="#000" stroke-width="0.35">A</text>
<text x="236.1" y="17.9" font-size="11.0" font-weight="bold" stroke="#000" stroke-width="0.35">B</text>
<text x="235.7" y="193.5" font-size="11.4" font-weight="bold" stroke="#000" stroke-width="0.35">C</text>
<text x="236.1" y="401.5" font-size="11.0" font-weight="bold" stroke="#000" stroke-width="0.35">D</text>
<defs><filter id="bb" x="-20%" y="-100%" width="140%" height="300%"><feGaussianBlur stdDeviation="0.65"/></filter></defs>
<rect x="407.00" y="52.00" width="1.6" height="19.70" fill="#9a9a9a"/>
<rect x="273.65" y="52.15" width="133.20" height="19.40" fill="#c7c7c7" stroke="#3a3a3a" stroke-width="1.3"/>
<rect x="274.75" y="53.25" width="131.00" height="17.20" fill="none" stroke="#e4e4e4" stroke-width="0.8"/>
<rect x="409.15" y="52.15" width="68.60" height="19.40" fill="#c7c7c7" stroke="#3a3a3a" stroke-width="1.3"/>
<rect x="410.25" y="53.25" width="66.40" height="17.20" fill="none" stroke="#e4e4e4" stroke-width="0.8"/>
<line x1="340.00" y1="52.50" x2="340.00" y2="71.20" stroke="#111" stroke-width="1.3"/>
<g filter="url(#bb)">
<rect x="278.0" y="59.85" width="12.0" height="3.70" rx="1.85" fill="#111" fill-opacity="0.60"/>
<rect x="292.5" y="59.85" width="12.5" height="3.70" rx="1.85" fill="#111" fill-opacity="0.92"/>
<rect x="306.0" y="59.85" width="12.5" height="3.70" rx="1.85" fill="#111" fill-opacity="0.50"/>
<rect x="320.5" y="59.85" width="13.0" height="3.70" rx="1.85" fill="#111" fill-opacity="0.92"/>
<rect x="346.5" y="59.40" width="14.0" height="3.00" rx="1.50" fill="#111" fill-opacity="0.06"/>
<rect x="362.5" y="59.40" width="12.0" height="3.00" rx="1.50" fill="#111" fill-opacity="0.88"/>
<rect x="376.0" y="59.40" width="12.5" height="3.00" rx="1.50" fill="#111" fill-opacity="0.06"/>
<rect x="389.5" y="59.40" width="13.0" height="3.00" rx="1.50" fill="#111" fill-opacity="0.80"/>
<rect x="415.9" y="59.20" width="14.7" height="5.60" rx="2.80" fill="#111" fill-opacity="0.97"/>
<rect x="430.4" y="59.20" width="13.2" height="5.60" rx="2.80" fill="#111" fill-opacity="0.97"/>
<rect x="443.4" y="59.20" width="13.7" height="5.60" rx="2.80" fill="#111" fill-opacity="0.97"/>
<rect x="456.9" y="59.20" width="14.7" height="5.60" rx="2.80" fill="#111" fill-opacity="0.97"/>
<rect x="416.5" y="55.50" width="13.5" height="4.00" rx="2.00" fill="#111" fill-opacity="0.07"/>
<rect x="431.0" y="55.50" width="12.0" height="4.00" rx="2.00" fill="#111" fill-opacity="0.07"/>
<rect x="444.0" y="55.50" width="12.5" height="4.00" rx="2.00" fill="#111" fill-opacity="0.07"/>
<rect x="457.5" y="55.50" width="13.5" height="4.00" rx="2.00" fill="#111" fill-opacity="0.10"/>
<rect x="416.5" y="65.05" width="13.5" height="3.50" rx="1.75" fill="#111" fill-opacity="0.08"/>
<rect x="431.0" y="65.05" width="12.0" height="3.50" rx="1.75" fill="#111" fill-opacity="0.08"/>
<rect x="444.0" y="65.05" width="12.5" height="3.50" rx="1.75" fill="#111" fill-opacity="0.08"/>
<rect x="457.5" y="65.05" width="13.5" height="3.50" rx="1.75" fill="#111" fill-opacity="0.08"/>
</g>
<rect x="407.00" y="75.70" width="1.6" height="18.90" fill="#9a9a9a"/>
<rect x="273.65" y="75.85" width="133.20" height="18.60" fill="#c7c7c7" stroke="#3a3a3a" stroke-width="1.3"/>
<rect x="274.75" y="76.95" width="131.00" height="16.40" fill="none" stroke="#e4e4e4" stroke-width="0.8"/>
<rect x="409.15" y="75.85" width="68.60" height="18.60" fill="#c7c7c7" stroke="#3a3a3a" stroke-width="1.3"/>
<rect x="410.25" y="76.95" width="66.40" height="16.40" fill="none" stroke="#e4e4e4" stroke-width="0.8"/>
<g filter="url(#bb)">
<rect x="277.0" y="83.45" width="14.0" height="2.70" rx="1.35" fill="#111" fill-opacity="0.95"/>
<rect x="291.5" y="83.45" width="14.5" height="2.70" rx="1.35" fill="#111" fill-opacity="0.93"/>
<rect x="305.0" y="83.45" width="14.5" height="2.70" rx="1.35" fill="#111" fill-opacity="0.93"/>
<rect x="319.5" y="83.45" width="15.0" height="2.70" rx="1.35" fill="#111" fill-opacity="0.90"/>
<rect x="345.3" y="84.60" width="16.4" height="3.80" rx="1.90" fill="#111" fill-opacity="0.97"/>
<rect x="361.3" y="84.60" width="14.4" height="3.80" rx="1.90" fill="#111" fill-opacity="0.98"/>
<rect x="374.8" y="84.60" width="14.9" height="3.80" rx="1.90" fill="#111" fill-opacity="0.98"/>
<rect x="388.3" y="84.60" width="15.4" height="3.80" rx="1.90" fill="#111" fill-opacity="0.98"/>
<rect x="416.2" y="84.30" width="14.1" height="2.60" rx="1.30" fill="#111" fill-opacity="0.95"/>
<rect x="430.7" y="84.30" width="12.6" height="2.60" rx="1.30" fill="#111" fill-opacity="0.93"/>
<rect x="443.7" y="84.30" width="13.1" height="2.60" rx="1.30" fill="#111" fill-opacity="0.93"/>
<rect x="457.2" y="84.30" width="14.1" height="2.60" rx="1.30" fill="#111" fill-opacity="0.93"/>
</g>
<rect x="407.00" y="99.60" width="1.6" height="18.20" fill="#9a9a9a"/>
<rect x="273.65" y="99.75" width="133.20" height="17.90" fill="#c7c7c7" stroke="#3a3a3a" stroke-width="1.3"/>
<rect x="274.75" y="100.85" width="131.00" height="15.70" fill="none" stroke="#e4e4e4" stroke-width="0.8"/>
<rect x="409.15" y="99.75" width="68.60" height="17.90" fill="#c7c7c7" stroke="#3a3a3a" stroke-width="1.3"/>
<rect x="410.25" y="100.85" width="66.40" height="15.70" fill="none" stroke="#e4e4e4" stroke-width="0.8"/>
<g filter="url(#bb)">
<rect x="277.0" y="104.90" width="14.0" height="4.40" rx="2.20" fill="#111" fill-opacity="0.98"/>
<rect x="305.0" y="104.90" width="14.5" height="4.40" rx="2.20" fill="#111" fill-opacity="0.98"/>
<rect x="291.0" y="106.50" width="15.5" height="1.20" rx="0.60" fill="#111" fill-opacity="0.45"/>
<rect x="345.5" y="107.20" width="16.0" height="4.80" rx="2.40" fill="#111" fill-opacity="0.98"/>
<rect x="375.0" y="107.20" width="14.5" height="4.80" rx="2.40" fill="#111" fill-opacity="0.98"/>
<rect x="361.0" y="108.70" width="15.0" height="1.80" rx="0.90" fill="#111" fill-opacity="0.80"/>
<rect x="416.0" y="106.10" width="14.5" height="4.80" rx="2.40" fill="#111" fill-opacity="0.98"/>
<rect x="443.5" y="106.10" width="13.5" height="4.80" rx="2.40" fill="#111" fill-opacity="0.98"/>
<rect x="431.0" y="107.70" width="12.0" height="1.60" rx="0.80" fill="#111" fill-opacity="0.55"/>
</g>
<rect x="407.00" y="122.80" width="1.6" height="18.30" fill="#9a9a9a"/>
<rect x="273.65" y="122.95" width="133.20" height="18.00" fill="#c7c7c7" stroke="#3a3a3a" stroke-width="1.3"/>
<rect x="274.75" y="124.05" width="131.00" height="15.80" fill="none" stroke="#e4e4e4" stroke-width="0.8"/>
<rect x="409.15" y="122.95" width="68.60" height="18.00" fill="#c7c7c7" stroke="#3a3a3a" stroke-width="1.3"/>
<rect x="410.25" y="124.05" width="66.40" height="15.80" fill="none" stroke="#e4e4e4" stroke-width="0.8"/>
<line x1="340.00" y1="123.30" x2="340.00" y2="140.60" stroke="#111" stroke-width="1.3"/>
<g filter="url(#bb)">
<rect x="278.0" y="127.20" width="12.0" height="2.00" rx="1.00" fill="#111" fill-opacity="0.85"/>
<rect x="292.5" y="127.20" width="12.5" height="2.00" rx="1.00" fill="#111" fill-opacity="0.30"/>
<rect x="306.0" y="127.20" width="12.5" height="2.00" rx="1.00" fill="#111" fill-opacity="0.80"/>
<rect x="277.5" y="133.10" width="13.0" height="3.00" rx="1.50" fill="#111" fill-opacity="0.30"/>
<rect x="292.0" y="133.10" width="13.5" height="3.00" rx="1.50" fill="#111" fill-opacity="0.95"/>
<rect x="305.5" y="133.10" width="13.5" height="3.00" rx="1.50" fill="#111" fill-opacity="0.85"/>
<rect x="320.0" y="133.10" width="14.0" height="3.00" rx="1.50" fill="#111" fill-opacity="0.95"/>
<rect x="346.5" y="131.65" width="14.0" height="2.50" rx="1.25" fill="#111" fill-opacity="0.50"/>
<rect x="362.5" y="131.65" width="12.0" height="2.50" rx="1.25" fill="#111" fill-opacity="0.85"/>
<rect x="376.0" y="131.65" width="12.5" height="2.50" rx="1.25" fill="#111" fill-opacity="0.40"/>
<rect x="389.5" y="131.65" width="13.0" height="2.50" rx="1.25" fill="#111" fill-opacity="0.97"/>
<rect x="362.5" y="136.65" width="12.0" height="2.30" rx="1.15" fill="#111" fill-opacity="0.18"/>
<rect x="389.5" y="136.65" width="13.0" height="2.30" rx="1.15" fill="#111" fill-opacity="0.85"/>
<rect x="416.5" y="127.60" width="13.5" height="2.00" rx="1.00" fill="#111" fill-opacity="0.85"/>
<rect x="431.0" y="127.60" width="12.0" height="2.00" rx="1.00" fill="#111" fill-opacity="0.18"/>
<rect x="444.0" y="127.60" width="12.5" height="2.00" rx="1.00" fill="#111" fill-opacity="0.65"/>
<rect x="431.0" y="135.35" width="12.0" height="2.30" rx="1.15" fill="#111" fill-opacity="0.80"/>
<rect x="444.0" y="135.35" width="12.5" height="2.30" rx="1.15" fill="#111" fill-opacity="0.45"/>
<rect x="457.5" y="135.35" width="13.5" height="2.30" rx="1.15" fill="#111" fill-opacity="0.88"/>
</g>
<rect x="407.00" y="146.90" width="1.6" height="18.50" fill="#9a9a9a"/>
<rect x="273.65" y="147.05" width="133.20" height="18.20" fill="#c7c7c7" stroke="#3a3a3a" stroke-width="1.3"/>
<rect x="274.75" y="148.15" width="131.00" height="16.00" fill="none" stroke="#e4e4e4" stroke-width="0.8"/>
<rect x="409.15" y="147.05" width="68.60" height="18.20" fill="#c7c7c7" stroke="#3a3a3a" stroke-width="1.3"/>
<rect x="410.25" y="148.15" width="66.40" height="16.00" fill="none" stroke="#e4e4e4" stroke-width="0.8"/>
<g filter="url(#bb)">
<rect x="276.7" y="153.60" width="14.6" height="3.60" rx="1.80" fill="#111" fill-opacity="0.98"/>
<rect x="291.2" y="153.60" width="15.1" height="3.60" rx="1.80" fill="#111" fill-opacity="0.98"/>
<rect x="304.7" y="153.60" width="15.1" height="3.60" rx="1.80" fill="#111" fill-opacity="0.98"/>
<rect x="319.2" y="153.60" width="15.6" height="3.60" rx="1.80" fill="#111" fill-opacity="0.98"/>
<rect x="345.2" y="152.10" width="16.6" height="3.80" rx="1.90" fill="#111" fill-opacity="0.98"/>
<rect x="361.2" y="152.10" width="14.6" height="3.80" rx="1.90" fill="#111" fill-opacity="0.98"/>
<rect x="374.7" y="152.10" width="15.1" height="3.80" rx="1.90" fill="#111" fill-opacity="0.98"/>
<rect x="388.2" y="152.10" width="15.6" height="3.80" rx="1.90" fill="#111" fill-opacity="0.98"/>
<rect x="415.2" y="153.70" width="16.1" height="3.60" rx="1.80" fill="#111" fill-opacity="0.98"/>
<rect x="429.7" y="153.70" width="14.6" height="3.60" rx="1.80" fill="#111" fill-opacity="0.98"/>
<rect x="442.7" y="153.70" width="15.1" height="3.60" rx="1.80" fill="#111" fill-opacity="0.98"/>
<rect x="456.2" y="153.70" width="16.1" height="3.60" rx="1.80" fill="#111" fill-opacity="0.98"/>
</g>
<text x="305.7" y="34.0" font-size="10.6" text-anchor="middle" fill="#111" textLength="40.0" lengthAdjust="spacingAndGlyphs" stroke="#111" stroke-width="0.15">MV-4-11</text>
<text x="373.7" y="33.8" font-size="10.6" text-anchor="middle" fill="#111" textLength="46.5" lengthAdjust="spacingAndGlyphs" stroke="#111" stroke-width="0.15">MOLM-13</text>
<text x="442.9" y="34.0" font-size="10.6" text-anchor="middle" fill="#111" textLength="21.8" lengthAdjust="spacingAndGlyphs" stroke="#111" stroke-width="0.15">NB4</text>
<text x="282.0" y="46.2" font-size="9.0" text-anchor="middle" fill="#111" stroke="#111" stroke-width="0.12">D</text>
<text x="297.8" y="46.2" font-size="9.0" text-anchor="middle" fill="#111" stroke="#111" stroke-width="0.12">E</text>
<text x="311.6" y="46.2" font-size="9.0" text-anchor="middle" fill="#111" stroke="#111" stroke-width="0.12">V</text>
<text x="326.2" y="46.2" font-size="9.0" text-anchor="middle" fill="#111" textLength="13.6" lengthAdjust="spacingAndGlyphs" stroke="#111" stroke-width="0.12">E/V</text>
<text x="351.6" y="46.2" font-size="9.0" text-anchor="middle" fill="#111" stroke="#111" stroke-width="0.12">D</text>
<text x="366.7" y="46.2" font-size="9.0" text-anchor="middle" fill="#111" stroke="#111" stroke-width="0.12">E</text>
<text x="380.2" y="46.2" font-size="9.0" text-anchor="middle" fill="#111" stroke="#111" stroke-width="0.12">V</text>
<text x="395.4" y="46.2" font-size="9.0" text-anchor="middle" fill="#111" textLength="13.6" lengthAdjust="spacingAndGlyphs" stroke="#111" stroke-width="0.12">E/V</text>
<text x="420.8" y="46.2" font-size="9.0" text-anchor="middle" fill="#111" stroke="#111" stroke-width="0.12">D</text>
<text x="435.8" y="46.2" font-size="9.0" text-anchor="middle" fill="#111" stroke="#111" stroke-width="0.12">E</text>
<text x="449.0" y="46.2" font-size="9.0" text-anchor="middle" fill="#111" stroke="#111" stroke-width="0.12">V</text>
<text x="465.0" y="46.2" font-size="9.0" text-anchor="middle" fill="#111" textLength="13.6" lengthAdjust="spacingAndGlyphs" stroke="#111" stroke-width="0.12">E/V</text>
<text x="482.2" y="66.2" font-size="9.2" fill="#111" textLength="14.5" lengthAdjust="spacingAndGlyphs">p53</text>
<text x="482.2" y="87.6" font-size="9.2" fill="#111" textLength="22.8" lengthAdjust="spacingAndGlyphs">BCL2</text>
<text x="482.2" y="111.9" font-size="9.2" fill="#111" textLength="23.5" lengthAdjust="spacingAndGlyphs">MCL1</text>
<text x="482.2" y="133.0" font-size="9.2" fill="#111" textLength="23.0" lengthAdjust="spacingAndGlyphs">PARP</text>
<text x="482.2" y="143.0" font-size="9.2" fill="#111" textLength="27.5" lengthAdjust="spacingAndGlyphs">cPARP</text>
<text x="482.2" y="159.6" font-size="9.2" fill="#111" textLength="21.5" lengthAdjust="spacingAndGlyphs">Actin</text>
<line x1="272.60" y1="212.30" x2="272.60" y2="346.50" stroke="#000" stroke-width="1.1"/>
<line x1="269.30" y1="346.00" x2="512.80" y2="346.00" stroke="#000" stroke-width="1.1"/>
<line x1="269.30" y1="216.00" x2="272.60" y2="216.00" stroke="#000" stroke-width="1.0"/>
<text x="266.3" y="218.9" font-size="8.2" text-anchor="end" fill="#222" textLength="14.7" lengthAdjust="spacingAndGlyphs">100</text>
<line x1="269.30" y1="248.50" x2="272.60" y2="248.50" stroke="#000" stroke-width="1.0"/>
<text x="266.3" y="251.4" font-size="8.2" text-anchor="end" fill="#222" textLength="9.8" lengthAdjust="spacingAndGlyphs">75</text>
<line x1="269.30" y1="281.00" x2="272.60" y2="281.00" stroke="#000" stroke-width="1.0"/>
<text x="266.3" y="283.9" font-size="8.2" text-anchor="end" fill="#222" textLength="9.8" lengthAdjust="spacingAndGlyphs">50</text>
<line x1="269.30" y1="313.50" x2="272.60" y2="313.50" stroke="#000" stroke-width="1.0"/>
<text x="266.3" y="316.4" font-size="8.2" text-anchor="end" fill="#222" textLength="9.8" lengthAdjust="spacingAndGlyphs">25</text>
<line x1="269.30" y1="346.00" x2="272.60" y2="346.00" stroke="#000" stroke-width="1.0"/>
<text x="266.3" y="348.9" font-size="8.2" text-anchor="end" fill="#222" textLength="4.9" lengthAdjust="spacingAndGlyphs">0</text>
<text x="245.2" y="280.6" font-size="8.2" text-anchor="middle" fill="#222" textLength="31.5" lengthAdjust="spacingAndGlyphs" transform="rotate(-90 245.2 280.6)">% of cells</text>
<rect x="279.40" y="214.20" width="11.80" height="6.60" fill="#2d4a84" stroke="#1d3a78" stroke-width="0.5"/>
<rect x="279.40" y="226.70" width="11.80" height="6.00" fill="#a8092d"/>
<text x="294.6" y="220.2" font-size="8.0" fill="#222" textLength="19.0" lengthAdjust="spacingAndGlyphs">AnnV</text>
<text x="313.4" y="217.2" font-size="5.0" fill="#222">+</text>
<text x="294.6" y="231.8" font-size="8.0" fill="#222" textLength="19.0" lengthAdjust="spacingAndGlyphs">AnnV</text>
<text x="313.4" y="228.8" font-size="5.0" fill="#222">+</text>
<text x="316.4" y="231.8" font-size="8.0" fill="#222" textLength="11.0" lengthAdjust="spacingAndGlyphs">/PI</text>
<text x="327.4" y="228.8" font-size="5.0" fill="#222">+</text>
<rect x="273.30" y="329.75" width="15.30" height="16.25" fill="#a8092d"/>
<rect x="273.30" y="335.60" width="15.30" height="10.40" fill="#2d4a84"/>
<line x1="280.95" y1="327.80" x2="280.95" y2="329.75" stroke="#000" stroke-width="1.0"/>
<line x1="276.95" y1="327.80" x2="284.95" y2="327.80" stroke="#000" stroke-width="1.1"/>
<line x1="280.95" y1="332.74" x2="280.95" y2="335.60" stroke="#000" stroke-width="1.2"/>
<line x1="276.95" y1="332.74" x2="284.95" y2="332.74" stroke="#000" stroke-width="1.3"/>
<text x="280.2" y="357.4" font-size="8.2" text-anchor="middle" fill="#222" textLength="5.9" lengthAdjust="spacingAndGlyphs">D</text>
<rect x="290.20" y="304.40" width="15.40" height="41.60" fill="#a8092d"/>
<rect x="290.20" y="317.40" width="15.40" height="28.60" fill="#2d4a84"/>
<line x1="297.90" y1="303.62" x2="297.90" y2="304.40" stroke="#000" stroke-width="1.0"/>
<line x1="293.90" y1="303.62" x2="301.90" y2="303.62" stroke="#000" stroke-width="1.1"/>
<line x1="297.90" y1="314.54" x2="297.90" y2="317.40" stroke="#000" stroke-width="1.2"/>
<line x1="293.90" y1="314.54" x2="301.90" y2="314.54" stroke="#000" stroke-width="1.3"/>
<text x="297.1" y="357.4" font-size="8.2" text-anchor="middle" fill="#222" textLength="5.4" lengthAdjust="spacingAndGlyphs">E</text>
<rect x="307.40" y="316.75" width="15.10" height="29.25" fill="#a8092d"/>
<rect x="307.40" y="327.80" width="15.10" height="18.20" fill="#2d4a84"/>
<line x1="314.95" y1="315.84" x2="314.95" y2="316.75" stroke="#000" stroke-width="1.0"/>
<line x1="310.95" y1="315.84" x2="318.95" y2="315.84" stroke="#000" stroke-width="1.1"/>
<line x1="314.95" y1="327.02" x2="314.95" y2="327.80" stroke="#000" stroke-width="1.2"/>
<line x1="310.95" y1="327.02" x2="318.95" y2="327.02" stroke="#000" stroke-width="1.3"/>
<text x="314.1" y="357.4" font-size="8.2" text-anchor="middle" fill="#222" textLength="5.4" lengthAdjust="spacingAndGlyphs">V</text>
<rect x="324.20" y="279.70" width="15.70" height="66.30" fill="#a8092d"/>
<rect x="324.20" y="303.10" width="15.70" height="42.90" fill="#2d4a84"/>
<line x1="332.05" y1="278.01" x2="332.05" y2="279.70" stroke="#000" stroke-width="1.0"/>
<line x1="328.05" y1="278.01" x2="336.05" y2="278.01" stroke="#000" stroke-width="1.1"/>
<line x1="332.05" y1="299.85" x2="332.05" y2="303.10" stroke="#000" stroke-width="1.2"/>
<line x1="328.05" y1="299.85" x2="336.05" y2="299.85" stroke="#000" stroke-width="1.3"/>
<text x="331.2" y="357.4" font-size="8.2" text-anchor="middle" fill="#222" textLength="13.6" lengthAdjust="spacingAndGlyphs">E/V</text>
<text x="306.5" y="370.0" font-size="8.4" text-anchor="middle" fill="#222" textLength="32.0" lengthAdjust="spacingAndGlyphs">MV-4-11</text>
<line x1="280.80" y1="252.20" x2="333.00" y2="252.20" stroke="#111" stroke-width="0.9"/>
<text x="306.9" y="251.0" font-size="6.5" text-anchor="middle" font-weight="bold">****</text>
<line x1="299.40" y1="264.90" x2="333.00" y2="264.90" stroke="#111" stroke-width="0.9"/>
<text x="316.2" y="263.7" font-size="6.5" text-anchor="middle" font-weight="bold">***</text>
<line x1="316.30" y1="274.00" x2="333.00" y2="274.00" stroke="#111" stroke-width="0.9"/>
<text x="324.6" y="272.8" font-size="6.5" text-anchor="middle" font-weight="bold">****</text>
<rect x="358.00" y="320.00" width="15.80" height="26.00" fill="#a8092d"/>
<rect x="358.00" y="329.75" width="15.80" height="16.25" fill="#2d4a84"/>
<line x1="365.90" y1="314.15" x2="365.90" y2="320.00" stroke="#000" stroke-width="1.0"/>
<line x1="361.90" y1="314.15" x2="369.90" y2="314.15" stroke="#000" stroke-width="1.1"/>
<line x1="365.90" y1="325.20" x2="365.90" y2="329.75" stroke="#000" stroke-width="1.2"/>
<line x1="361.90" y1="325.20" x2="369.90" y2="325.20" stroke="#000" stroke-width="1.3"/>
<text x="365.1" y="357.4" font-size="8.2" text-anchor="middle" fill="#222" textLength="5.9" lengthAdjust="spacingAndGlyphs">D</text>
<rect x="375.00" y="292.70" width="15.50" height="53.30" fill="#a8092d"/>
<rect x="375.00" y="307.00" width="15.50" height="39.00" fill="#2d4a84"/>
<line x1="382.75" y1="285.55" x2="382.75" y2="292.70" stroke="#000" stroke-width="1.0"/>
<line x1="378.75" y1="285.55" x2="386.75" y2="285.55" stroke="#000" stroke-width="1.1"/>
<line x1="382.75" y1="299.85" x2="382.75" y2="307.00" stroke="#000" stroke-width="1.2"/>
<line x1="378.75" y1="299.85" x2="386.75" y2="299.85" stroke="#000" stroke-width="1.3"/>
<text x="381.9" y="357.4" font-size="8.2" text-anchor="middle" fill="#222" textLength="5.4" lengthAdjust="spacingAndGlyphs">E</text>
<rect x="392.00" y="295.30" width="15.40" height="50.70" fill="#a8092d"/>
<rect x="392.00" y="309.60" width="15.40" height="36.40" fill="#2d4a84"/>
<line x1="399.70" y1="288.15" x2="399.70" y2="295.30" stroke="#000" stroke-width="1.0"/>
<line x1="395.70" y1="288.15" x2="403.70" y2="288.15" stroke="#000" stroke-width="1.1"/>
<line x1="399.70" y1="301.80" x2="399.70" y2="309.60" stroke="#000" stroke-width="1.2"/>
<line x1="395.70" y1="301.80" x2="403.70" y2="301.80" stroke="#000" stroke-width="1.3"/>
<text x="398.9" y="357.4" font-size="8.2" text-anchor="middle" fill="#222" textLength="5.4" lengthAdjust="spacingAndGlyphs">V</text>
<rect x="409.00" y="235.50" width="15.40" height="110.50" fill="#a8092d"/>
<rect x="409.00" y="256.30" width="15.40" height="89.70" fill="#2d4a84"/>
<line x1="416.70" y1="232.25" x2="416.70" y2="235.50" stroke="#000" stroke-width="1.0"/>
<line x1="412.70" y1="232.25" x2="420.70" y2="232.25" stroke="#000" stroke-width="1.1"/>
<line x1="416.70" y1="251.10" x2="416.70" y2="256.30" stroke="#000" stroke-width="1.2"/>
<line x1="412.70" y1="251.10" x2="420.70" y2="251.10" stroke="#000" stroke-width="1.3"/>
<text x="415.9" y="357.4" font-size="8.2" text-anchor="middle" fill="#222" textLength="13.6" lengthAdjust="spacingAndGlyphs">E/V</text>
<text x="391.2" y="370.0" font-size="8.4" text-anchor="middle" fill="#222" textLength="38.0" lengthAdjust="spacingAndGlyphs">MOLM-13</text>
<line x1="365.30" y1="206.50" x2="416.80" y2="206.50" stroke="#111" stroke-width="0.9"/>
<text x="391.1" y="205.3" font-size="6.5" text-anchor="middle" font-weight="bold">****</text>
<line x1="384.40" y1="219.20" x2="416.80" y2="219.20" stroke="#111" stroke-width="0.9"/>
<text x="400.6" y="218.0" font-size="6.5" text-anchor="middle" font-weight="bold">**</text>
<line x1="401.00" y1="228.30" x2="416.80" y2="228.30" stroke="#111" stroke-width="0.9"/>
<text x="408.9" y="227.1" font-size="6.5" text-anchor="middle" font-weight="bold">**</text>
<rect x="443.00" y="312.20" width="15.20" height="33.80" fill="#a8092d"/>
<rect x="443.00" y="324.55" width="15.20" height="21.45" fill="#2d4a84"/>
<line x1="450.60" y1="305.05" x2="450.60" y2="312.20" stroke="#000" stroke-width="1.0"/>
<line x1="446.60" y1="305.05" x2="454.60" y2="305.05" stroke="#000" stroke-width="1.1"/>
<line x1="450.60" y1="320.65" x2="450.60" y2="324.55" stroke="#000" stroke-width="1.2"/>
<line x1="446.60" y1="320.65" x2="454.60" y2="320.65" stroke="#000" stroke-width="1.3"/>
<text x="449.8" y="357.4" font-size="8.2" text-anchor="middle" fill="#222" textLength="5.9" lengthAdjust="spacingAndGlyphs">D</text>
<rect x="460.00" y="300.50" width="15.20" height="45.50" fill="#a8092d"/>
<rect x="460.00" y="314.15" width="15.20" height="31.85" fill="#2d4a84"/>
<line x1="467.60" y1="294.00" x2="467.60" y2="300.50" stroke="#000" stroke-width="1.0"/>
<line x1="463.60" y1="294.00" x2="471.60" y2="294.00" stroke="#000" stroke-width="1.1"/>
<line x1="467.60" y1="312.85" x2="467.60" y2="314.15" stroke="#000" stroke-width="1.2"/>
<line x1="463.60" y1="312.85" x2="471.60" y2="312.85" stroke="#000" stroke-width="1.3"/>
<text x="466.8" y="357.4" font-size="8.2" text-anchor="middle" fill="#222" textLength="5.4" lengthAdjust="spacingAndGlyphs">E</text>
<rect x="477.00" y="278.40" width="15.10" height="67.60" fill="#a8092d"/>
<rect x="477.00" y="299.20" width="15.10" height="46.80" fill="#2d4a84"/>
<line x1="484.55" y1="268.65" x2="484.55" y2="278.40" stroke="#000" stroke-width="1.0"/>
<line x1="480.55" y1="268.65" x2="488.55" y2="268.65" stroke="#000" stroke-width="1.1"/>
<line x1="484.55" y1="288.80" x2="484.55" y2="299.20" stroke="#000" stroke-width="1.2"/>
<line x1="480.55" y1="288.80" x2="488.55" y2="288.80" stroke="#000" stroke-width="1.3"/>
<text x="483.8" y="357.4" font-size="8.2" text-anchor="middle" fill="#222" textLength="5.4" lengthAdjust="spacingAndGlyphs">V</text>
<rect x="494.00" y="244.60" width="15.00" height="101.40" fill="#a8092d"/>
<rect x="494.00" y="271.90" width="15.00" height="74.10" fill="#2d4a84"/>
<line x1="501.50" y1="242.26" x2="501.50" y2="244.60" stroke="#000" stroke-width="1.0"/>
<line x1="497.50" y1="242.26" x2="505.50" y2="242.26" stroke="#000" stroke-width="1.1"/>
<line x1="501.50" y1="267.35" x2="501.50" y2="271.90" stroke="#000" stroke-width="1.2"/>
<line x1="497.50" y1="267.35" x2="505.50" y2="267.35" stroke="#000" stroke-width="1.3"/>
<text x="500.7" y="357.4" font-size="8.2" text-anchor="middle" fill="#222" textLength="13.6" lengthAdjust="spacingAndGlyphs">E/V</text>
<text x="476.0" y="370.0" font-size="8.4" text-anchor="middle" fill="#222" textLength="17.5" lengthAdjust="spacingAndGlyphs">NB4</text>
<line x1="450.60" y1="217.10" x2="502.20" y2="217.10" stroke="#111" stroke-width="0.9"/>
<text x="476.4" y="215.9" font-size="6.5" text-anchor="middle" font-weight="bold">***</text>
<line x1="469.40" y1="229.80" x2="502.20" y2="229.80" stroke="#111" stroke-width="0.9"/>
<text x="485.8" y="228.6" font-size="6.5" text-anchor="middle" font-weight="bold">***</text>
<line x1="486.00" y1="239.50" x2="502.20" y2="239.50" stroke="#111" stroke-width="0.9"/>
<text x="494.1" y="238.3" font-size="6.5" text-anchor="middle" font-weight="bold">*</text>
<line x1="273.00" y1="410.50" x2="273.00" y2="544.10" stroke="#000" stroke-width="1.1"/>
<line x1="269.80" y1="543.60" x2="510.10" y2="543.60" stroke="#000" stroke-width="1.1"/>
<line x1="269.80" y1="412.41" x2="273.00" y2="412.41" stroke="#000" stroke-width="1.0"/>
<text x="266.3" y="415.3" font-size="8.2" text-anchor="end" fill="#222" textLength="14.7" lengthAdjust="spacingAndGlyphs">300</text>
<line x1="269.80" y1="456.14" x2="273.00" y2="456.14" stroke="#000" stroke-width="1.0"/>
<text x="266.3" y="459.0" font-size="8.2" text-anchor="end" fill="#222" textLength="14.7" lengthAdjust="spacingAndGlyphs">200</text>
<line x1="269.80" y1="499.87" x2="273.00" y2="499.87" stroke="#000" stroke-width="1.0"/>
<text x="266.3" y="502.8" font-size="8.2" text-anchor="end" fill="#222" textLength="14.7" lengthAdjust="spacingAndGlyphs">100</text>
<line x1="269.80" y1="543.60" x2="273.00" y2="543.60" stroke="#000" stroke-width="1.0"/>
<text x="266.3" y="546.5" font-size="8.2" text-anchor="end" fill="#222" textLength="4.9" lengthAdjust="spacingAndGlyphs">0</text>
<text x="244.6" y="476.0" font-size="8.2" text-anchor="middle" fill="#222" textLength="91.0" lengthAdjust="spacingAndGlyphs" transform="rotate(-90 244.6 476.0)"># of colonies (per 500 cells)</text>
<rect x="273.40" y="442.15" width="15.20" height="101.45" fill="#2d4a84"/>
<line x1="281.00" y1="431.21" x2="281.00" y2="442.15" stroke="#000" stroke-width="1.0"/>
<line x1="277.20" y1="431.21" x2="284.80" y2="431.21" stroke="#000" stroke-width="1.0"/>
<text x="280.2" y="554.3" font-size="8.2" text-anchor="middle" fill="#222" textLength="5.9" lengthAdjust="spacingAndGlyphs">D</text>
<rect x="290.70" y="472.32" width="14.40" height="71.28" fill="#2d4a84"/>
<line x1="297.90" y1="462.70" x2="297.90" y2="472.32" stroke="#000" stroke-width="1.0"/>
<line x1="294.10" y1="462.70" x2="301.70" y2="462.70" stroke="#000" stroke-width="1.0"/>
<text x="297.1" y="554.3" font-size="8.2" text-anchor="middle" fill="#222" textLength="5.4" lengthAdjust="spacingAndGlyphs">E</text>
<rect x="307.20" y="467.95" width="14.80" height="75.65" fill="#2d4a84"/>
<line x1="314.60" y1="457.89" x2="314.60" y2="467.95" stroke="#000" stroke-width="1.0"/>
<line x1="310.80" y1="457.89" x2="318.40" y2="457.89" stroke="#000" stroke-width="1.0"/>
<text x="313.8" y="554.3" font-size="8.2" text-anchor="middle" fill="#222" textLength="5.4" lengthAdjust="spacingAndGlyphs">V</text>
<rect x="324.60" y="503.81" width="14.40" height="39.79" fill="#2d4a84"/>
<line x1="331.80" y1="499.00" x2="331.80" y2="503.81" stroke="#000" stroke-width="1.0"/>
<line x1="328.00" y1="499.00" x2="335.60" y2="499.00" stroke="#000" stroke-width="1.0"/>
<text x="331.0" y="554.3" font-size="8.2" text-anchor="middle" fill="#222" textLength="13.6" lengthAdjust="spacingAndGlyphs">E/V</text>
<text x="306.5" y="567.5" font-size="8.4" text-anchor="middle" fill="#222" textLength="32.0" lengthAdjust="spacingAndGlyphs">MV-4-11</text>
<line x1="280.30" y1="427.30" x2="332.20" y2="427.30" stroke="#111" stroke-width="0.9"/>
<text x="306.2" y="426.1" font-size="6.5" text-anchor="middle" font-weight="bold">**</text>
<line x1="299.40" y1="440.00" x2="332.20" y2="440.00" stroke="#111" stroke-width="0.9"/>
<text x="315.8" y="438.8" font-size="6.5" text-anchor="middle" font-weight="bold">*</text>
<line x1="315.70" y1="449.10" x2="332.20" y2="449.10" stroke="#111" stroke-width="0.9"/>
<text x="323.9" y="447.9" font-size="6.5" text-anchor="middle" font-weight="bold">*</text>
<rect x="357.40" y="447.83" width="15.20" height="95.77" fill="#2d4a84"/>
<line x1="365.00" y1="435.59" x2="365.00" y2="447.83" stroke="#000" stroke-width="1.0"/>
<line x1="361.20" y1="435.59" x2="368.80" y2="435.59" stroke="#000" stroke-width="1.0"/>
<text x="364.2" y="554.3" font-size="8.2" text-anchor="middle" fill="#222" textLength="5.9" lengthAdjust="spacingAndGlyphs">D</text>
<rect x="374.40" y="486.75" width="15.10" height="56.85" fill="#2d4a84"/>
<line x1="381.95" y1="479.32" x2="381.95" y2="486.75" stroke="#000" stroke-width="1.0"/>
<line x1="378.15" y1="479.32" x2="385.75" y2="479.32" stroke="#000" stroke-width="1.0"/>
<text x="381.1" y="554.3" font-size="8.2" text-anchor="middle" fill="#222" textLength="5.4" lengthAdjust="spacingAndGlyphs">E</text>
<rect x="391.40" y="461.39" width="15.10" height="82.21" fill="#2d4a84"/>
<line x1="398.95" y1="452.20" x2="398.95" y2="461.39" stroke="#000" stroke-width="1.0"/>
<line x1="395.15" y1="452.20" x2="402.75" y2="452.20" stroke="#000" stroke-width="1.0"/>
<text x="398.1" y="554.3" font-size="8.2" text-anchor="middle" fill="#222" textLength="5.4" lengthAdjust="spacingAndGlyphs">V</text>
<rect x="408.00" y="530.92" width="15.20" height="12.68" fill="#2d4a84"/>
<line x1="415.60" y1="528.73" x2="415.60" y2="530.92" stroke="#000" stroke-width="1.0"/>
<line x1="411.80" y1="528.73" x2="419.40" y2="528.73" stroke="#000" stroke-width="1.0"/>
<text x="414.8" y="554.3" font-size="8.2" text-anchor="middle" fill="#222" textLength="13.6" lengthAdjust="spacingAndGlyphs">E/V</text>
<text x="390.3" y="567.5" font-size="8.4" text-anchor="middle" fill="#222" textLength="38.0" lengthAdjust="spacingAndGlyphs">MOLM-13</text>
<line x1="364.70" y1="426.70" x2="416.20" y2="426.70" stroke="#111" stroke-width="0.9"/>
<text x="390.4" y="425.5" font-size="6.5" text-anchor="middle" font-weight="bold">**</text>
<line x1="383.50" y1="438.80" x2="416.20" y2="438.80" stroke="#111" stroke-width="0.9"/>
<text x="399.9" y="437.6" font-size="6.5" text-anchor="middle" font-weight="bold">**</text>
<line x1="399.50" y1="448.50" x2="416.20" y2="448.50" stroke="#111" stroke-width="0.9"/>
<text x="407.9" y="447.3" font-size="6.5" text-anchor="middle" font-weight="bold">**</text>
<rect x="441.50" y="449.58" width="15.20" height="94.02" fill="#2d4a84"/>
<line x1="449.10" y1="448.27" x2="449.10" y2="449.58" stroke="#000" stroke-width="1.0"/>
<line x1="445.30" y1="448.27" x2="452.90" y2="448.27" stroke="#000" stroke-width="1.0"/>
<text x="448.3" y="554.3" font-size="8.2" text-anchor="middle" fill="#222" textLength="5.9" lengthAdjust="spacingAndGlyphs">D</text>
<rect x="458.50" y="492.00" width="15.10" height="51.60" fill="#2d4a84"/>
<line x1="466.05" y1="488.50" x2="466.05" y2="492.00" stroke="#000" stroke-width="1.0"/>
<line x1="462.25" y1="488.50" x2="469.85" y2="488.50" stroke="#000" stroke-width="1.0"/>
<text x="465.2" y="554.3" font-size="8.2" text-anchor="middle" fill="#222" textLength="5.4" lengthAdjust="spacingAndGlyphs">E</text>
<rect x="475.50" y="492.87" width="14.80" height="50.73" fill="#2d4a84"/>
<line x1="482.90" y1="478.00" x2="482.90" y2="492.87" stroke="#000" stroke-width="1.0"/>
<line x1="479.10" y1="478.00" x2="486.70" y2="478.00" stroke="#000" stroke-width="1.0"/>
<text x="482.1" y="554.3" font-size="8.2" text-anchor="middle" fill="#222" textLength="5.4" lengthAdjust="spacingAndGlyphs">V</text>
<rect x="492.00" y="535.73" width="14.90" height="7.87" fill="#2d4a84"/>
<line x1="499.45" y1="532.23" x2="499.45" y2="535.73" stroke="#000" stroke-width="1.0"/>
<line x1="495.65" y1="532.23" x2="503.25" y2="532.23" stroke="#000" stroke-width="1.0"/>
<text x="498.6" y="554.3" font-size="8.2" text-anchor="middle" fill="#222" textLength="13.6" lengthAdjust="spacingAndGlyphs">E/V</text>
<text x="474.2" y="567.5" font-size="8.4" text-anchor="middle" fill="#222" textLength="17.5" lengthAdjust="spacingAndGlyphs">NB4</text>
<line x1="448.80" y1="444.80" x2="500.30" y2="444.80" stroke="#111" stroke-width="0.9"/>
<text x="474.6" y="443.6" font-size="6.5" text-anchor="middle" font-weight="bold">****</text>
<line x1="467.00" y1="457.00" x2="500.30" y2="457.00" stroke="#111" stroke-width="0.9"/>
<text x="483.6" y="455.8" font-size="6.5" text-anchor="middle" font-weight="bold">***</text>
<line x1="484.00" y1="466.70" x2="500.30" y2="466.70" stroke="#111" stroke-width="0.9"/>
<text x="492.1" y="465.5" font-size="6.5" text-anchor="middle" font-weight="bold">**</text>
<path d="M158.4,123.1L193.6,109.5M158.4,123.1L138.2,97.7M193.6,109.5L169.8,87.0M138.2,97.7L169.8,87.0M157.9,84.8L196.7,75.7M157.9,84.8L135.0,64.9M196.7,75.7L170.8,55.4M135.0,64.9L170.8,55.4M158.4,123.1L157.9,84.8M193.6,109.5L196.7,75.7M138.2,97.7L135.0,64.9M169.8,87.0L170.8,55.4" stroke="#666" stroke-width="0.45" fill="none"/>
<g stroke="#111" stroke-width="0.25" stroke-linejoin="round"><path d="M137.4 82.2l1.3-.4-.8-.9-1.3.4zM138.7 81.8l1.3-.5-.8-.9-1.3.5zM140 81.3l1.3-.6-.8-.9-1.3.6z" fill="#ffffff"/><path d="M141.3 80.7l1.3-.7-.9-.9-1.2.7zM142.6 80l1.3-.6-.9-.9-1.3.6zM143.9 79.4l1.3-.6-.9-1-1.3.7z" fill="#fbefef"/><path d="M145.2 78.8l1.3-.5-.9-1.1-1.3.6zM146.5 78.3l1.3-.5-.9-1.1-1.3.5zM147.8 77.8l1.3-.5-.9-1.1-1.3.5zM149.1 77.3l1.3-.5-.9-1.2-1.3.6z" fill="#f7e0df"/><path d="M150.4 76.8l1.3-.5-.9-1.2-1.3.5zM151.7 76.3l1.3-.4-.9-1.4-1.3.6zM153 75.9l1.3-.5-.9-1.3-1.3.4zM154.3 75.4l1.3-.4-.9-1.4-1.3.5zM155.6 75l1.3-.4-.9-1.4-1.3.4zM156.9 74.6l1.3-.4-.9-1.4-1.3.4zM158.2 74.2l1.3-.4-.9-1.4-1.3.4zM159.5 73.8l1.3-.4-.9-1.4-1.3.4zM160.8 73.4l1.3-.3-.9-1.5-1.3.4zM162.1 73.1l1.4-.4-1-1.4-1.3.3zM163.5 72.7l1.3-.3-1-1.5-1.3.4zM164.8 72.4l1.3-.4-1-1.4-1.3.3zM166.1 72l1.3-.3-1-1.5-1.3.4zM167.4 71.7l1.3-.4-.9-1.4-1.4.3zM168.7 71.3l1.3-.4-.9-1.4-1.3.4zM170 70.9l1.3-.3-.9-1.4-1.3.3z" fill="#f3d0cf"/><path d="M138.3 83l1.3-.4-.9-.8-1.3.4zM139.6 82.6l1.3-.5-.9-.8-1.3.5zM140.9 82.1l1.2-.6-.8-.8-1.3.6z" fill="#ffffff"/><path d="M142.1 81.5l1.3-.6-.8-.9-1.3.7zM143.4 80.9l1.3-.6-.8-.9-1.3.6zM144.7 80.3l1.3-.6-.8-.9-1.3.6zM164.4 74.8l1.3-.3-.9-2.1-1.3.3zM165.7 74.5l1.3-.4-.9-2.1-1.3.4zM167 74.1l1.3-.4-.9-2-1.3.3zM168.3 73.7l1.3-.3-.9-2.1-1.3.4zM169.6 73.4l1.3-.4-.9-2.1-1.3.4zM170.9 73l1.3-.4-.9-2-1.3.3z" fill="#fbefef"/><path d="M146 79.7l1.3-.4-.8-1-1.3.5zM147.3 79.3l1.4-.4-.9-1.1-1.3.5zM148.7 78.9l1.3-.3-.9-1.3-1.3.5zM150 78.6l1.3-.4-.9-1.4-1.3.5zM151.3 78.2l1.3-.3-.9-1.6-1.3.5zM152.6 77.9l1.3-.4-.9-1.6-1.3.4zM153.9 77.5l1.3-.3-.9-1.8-1.3.5zM155.2 77.2l1.3-.3-.9-1.9-1.3.4zM156.5 76.9l1.3-.3-.9-2-1.3.4zM157.8 76.6l1.3-.3-.9-2.1-1.3.4zM159.1 76.3l1.4-.4-1-2.1-1.3.4zM160.5 75.9l1.3-.3-1-2.2-1.3.4zM161.8 75.6l1.3-.4-1-2.1-1.3.3zM163.1 75.2l1.3-.4-.9-2.1-1.4.4z" fill="#f7e0df"/><path d="M139.1 83.9l1.3-.4-.8-.9-1.3.4zM140.4 83.5l1.3-.5-.8-.9-1.3.5zM141.7 83l1.3-.7-.9-.8-1.2.6zM154.8 79.3l1.3-.2-.9-1.9-1.3.3zM156.1 79.1l1.4-.1-1-2.1-1.3.3zM157.5 79l1.3-.1-1-2.3-1.3.3zM158.8 78.9l1.3-.2-1-2.4-1.3.3z" fill="#ffffff"/><path d="M143 82.3l1.3-.7-.9-.7-1.3.6zM144.3 81.6l1.3-.6-.9-.7-1.3.6zM145.6 81l1.3-.5-.9-.8-1.3.6zM146.9 80.5l1.3-.4-.9-.8-1.3.4zM148.2 80.1l1.3-.2-.8-1-1.4.4zM149.5 79.9l1.4-.2-.9-1.1-1.3.3zM150.9 79.7l1.3-.1-.9-1.4-1.3.4zM152.2 79.6l1.3-.2-.9-1.5-1.3.3zM153.5 79.4l1.3-.1-.9-1.8-1.3.4z" fill="#fbefef"/><path d="M160.1 78.7l1.3-.2-.9-2.6-1.4.4zM161.4 78.5l1.3-.3-.9-2.6-1.3.3zM162.7 78.2l1.3-.4-.9-2.6-1.3.4zM164 77.8l1.3-.3-.9-2.7-1.3.4zM165.3 77.5l1.3-.4-.9-2.6-1.3.3zM166.6 77.1l1.3-.4-.9-2.6-1.3.4zM167.9 76.7l1.3-.4-.9-2.6-1.3.4zM169.2 76.3l1.3-.5-.9-2.4-1.3.3zM170.5 75.8l1.3-.4-.9-2.4-1.3.4zM171.8 75.4l1.3-.4-.9-2.4-1.3.4z" fill="#f1f7f0"/><path d="M139.9 84.8l1.3-.4-.8-.9-1.3.4zM141.2 84.4l1.3-.7-.8-.7-1.3.5zM153.1 80.5l1.3.1-.9-1.2-1.3.2zM154.4 80.6l1.3 0-.9-1.3-1.3.1z" fill="#ffffff"/><path d="M142.5 83.7l1.3-.8-.8-.6-1.3.7zM143.8 82.9l1.3-.8-.8-.5-1.3.7zM150.4 80.5l1.3 0-.8-.8-1.4.2zM151.7 80.5l1.4 0-.9-.9-1.3.1z" fill="#fbefef"/><path d="M145.1 82.1l1.3-.8-.8-.3-1.3.6zM146.4 81.3l1.3-.5-.8-.3-1.3.5zM147.7 80.8l1.3-.3-.8-.4-1.3.4zM149 80.5l1.4 0-.9-.6-1.3.2z" fill="#f7e0df"/><path d="M155.7 80.6l1.3.1-.9-1.6-1.3.2zM157 80.7l1.4.1-.9-1.8-1.4.1z" fill="#f1f7f0"/><path d="M158.4 80.8l1.3.1-.9-2-1.3.1zM159.7 80.9l1.3.1-.9-2.3-1.3.2z" fill="#e3efe1"/><path d="M161 81l1.3-.1-.9-2.4-1.3.2zM162.3 80.9l1.3-.2-.9-2.5-1.3.3zM163.6 80.7l1.3-.3-.9-2.6-1.3.4zM164.9 80.4l1.3-.3-.9-2.6-1.3.3zM168.8 79.3l1.3-.4-.9-2.6-1.3.4zM170.1 78.9l1.3-.5-.9-2.6-1.3.5zM171.4 78.4l1.3-.6-.9-2.4-1.3.4zM172.7 77.8l1.3-.5-.9-2.3-1.3.4z" fill="#d6e7d3"/><path d="M166.2 80.1l1.3-.4-.9-2.6-1.3.4zM167.5 79.7l1.3-.4-.9-2.6-1.3.4z" fill="#c8e0c4"/><path d="M140.7 85.7l1.4-.5-.9-.8-1.3.4zM142.1 85.2l1.3-.7-.9-.8-1.3.7zM155.3 81l1.3.3-.9-.7-1.3 0z" fill="#ffffff"/><path d="M143.4 84.5l1.2-1.1-.8-.5-1.3.8zM152.6 80.5l1.3.2-.8-.2-1.4 0zM153.9 80.7l1.4.3-.9-.4-1.3-.1z" fill="#fbefef"/><path d="M144.6 83.4l1.3-1.1-.8-.2-1.3.8zM145.9 82.3l1.3-1-.8 0-1.3.8zM151.2 80.4l1.4.1-.9 0-1.3 0z" fill="#f7e0df"/><path d="M147.2 81.3l1.3-.6-.8.1-1.3.5zM148.5 80.7l1.4-.3-.9.1-1.3.3zM149.9 80.4l1.3 0-.8.1-1.4 0z" fill="#f3d0cf"/><path d="M156.6 81.3l1.3.3-.9-.9-1.3-.1z" fill="#f1f7f0"/><path d="M157.9 81.6l1.4.3-.9-1.1-1.4-.1z" fill="#e3efe1"/><path d="M159.3 81.9l1.3.4-.9-1.4-1.3-.1z" fill="#d6e7d3"/><path d="M160.6 82.3l1.3.3-.9-1.6-1.3-.1z" fill="#c8e0c4"/><path d="M161.9 82.6l1.3.2-.9-1.9-1.3.1zM163.2 82.8l1.3-.1-.9-2-1.3.2zM164.5 82.7l1.3-.3-.9-2-1.3.3zM172.3 80.3l1.3-.6-.9-1.9-1.3.6zM173.6 79.7l1.3-.6-.9-1.8-1.3.5z" fill="#bad8b5"/><path d="M165.8 82.4l1.3-.2-.9-2.1-1.3.3zM167.1 82.2l1.3-.4-.9-2.1-1.3.4zM168.4 81.8l1.3-.4-.9-2.1-1.3.4zM169.7 81.4l1.3-.5-.9-2-1.3.4zM171 80.9l1.3-.6-.9-1.9-1.3.5z" fill="#acd0a6"/><path d="M141.6 86.5l1.3-.4-.8-.9-1.4.5zM142.9 86.1l1.3-.9-.8-.7-1.3.7zM156.1 81l1.4.5-.9-.2-1.3-.3z" fill="#ffffff"/><path d="M144.2 85.2l1.3-1.3-.9-.5-1.2 1.1z" fill="#fbefef"/><path d="M145.5 83.9l1.2-1.4-.8-.2-1.3 1.1zM154.8 80.6l1.3.4-.8 0-1.4-.3z" fill="#f7e0df"/><path d="M146.7 82.5l1.3-1.2-.8 0-1.3 1zM148 81.3l1.3-.8-.8.2-1.3.6zM149.3 80.5l1.4-.3-.8.2-1.4.3zM150.7 80.2l1.4 0-.9.2-1.3 0z" fill="#efc0bf"/><path d="M152.1 80.2l1.3.1-.8.2-1.4-.1zM153.4 80.3l1.4.3-.9.1-1.3-.2z" fill="#f3d0cf"/><path d="M157.5 81.5l1.3.5-.9-.4-1.3-.3z" fill="#f1f7f0"/><path d="M158.8 82l1.3.4-.8-.5-1.4-.3z" fill="#e3efe1"/><path d="M160.1 82.4l1.4.5-.9-.6-1.3-.4z" fill="#d6e7d3"/><path d="M161.5 82.9l1.3.4-.9-.7-1.3-.3z" fill="#c8e0c4"/><path d="M162.8 83.3l1.3.2-.9-.7-1.3-.2z" fill="#bad8b5"/><path d="M164.1 83.5l1.3 0-.9-.8-1.3.1zM165.4 83.5l1.3-.2-.9-.9-1.3.3zM171.9 81.7l1.3-.6-.9-.8-1.3.6zM173.2 81.1l1.3-.6-.9-.8-1.3.6zM174.5 80.5l1.4-.6-1-.8-1.3.6z" fill="#acd0a6"/><path d="M166.7 83.3l1.3-.3-.9-.8-1.3.2zM168 83l1.3-.3-.9-.9-1.3.4zM169.3 82.7l1.3-.4-.9-.9-1.3.4zM170.6 82.3l1.3-.6-.9-.8-1.3.5z" fill="#9ec898"/><path d="M142.4 87.4l1.3-.5-.8-.8-1.3.4zM143.7 86.9l1.3-1-.8-.7-1.3.9zM158.3 81.5l1.4.6-.9-.1-1.3-.5z" fill="#ffffff"/><path d="M145 85.9l1.3-1.5-.8-.5-1.3 1.3zM157 80.9l1.3.6-.8 0-1.4-.5z" fill="#f7e0df"/><path d="M146.3 84.4l1.3-1.6-.9-.3-1.2 1.4zM155.6 80.4l1.4.5-.9.1-1.3-.4z" fill="#f3d0cf"/><path d="M147.6 82.8l1.3-1.4-.9-.1-1.3 1.2zM148.9 81.4l1.3-1-.9.1-1.3.8zM152.9 80l1.4.1-.9.2-1.3-.1z" fill="#ebb1af"/><path d="M150.2 80.4l1.3-.4-.8.2-1.4.3zM151.5 80l1.4 0-.8.2-1.4 0z" fill="#e7a19f"/><path d="M154.3 80.1l1.3.3-.8.2-1.4-.3z" fill="#efc0bf"/><path d="M159.7 82.1l1.3.4-.9-.1-1.3-.4z" fill="#f1f7f0"/><path d="M161 82.5l1.4.5-.9-.1-1.4-.5z" fill="#e3efe1"/><path d="M162.4 83l1.3.3-.9 0-1.3-.4z" fill="#d6e7d3"/><path d="M163.7 83.3l1.3.1-.9.1-1.3-.2z" fill="#c8e0c4"/><path d="M165 83.4l1.3 0-.9.1-1.3 0zM175.5 80.7l1.3-.6-.9-.2-1.4.6z" fill="#bad8b5"/><path d="M166.3 83.4l1.3-.2-.9.1-1.3.2zM167.6 83.2l1.3-.2-.9 0-1.3.3zM168.9 83l1.3-.3-.9 0-1.3.3zM170.2 82.7l1.4-.4-1 0-1.3.4zM171.6 82.3l1.3-.5-1-.1-1.3.6zM172.9 81.8l1.3-.6-1-.1-1.3.6zM174.2 81.2l1.3-.5-1-.2-1.3.6z" fill="#acd0a6"/><path d="M143.2 88.3l1.4-.5-.9-.9-1.3.5zM160.6 81.8l1.3.4-.9.3-1.3-.4z" fill="#ffffff"/><path d="M144.6 87.8l1.3-1.1-.9-.8-1.3 1z" fill="#fbefef"/><path d="M145.9 86.7l1.2-1.8-.8-.5-1.3 1.5zM159.2 81.2l1.4.6-.9.3-1.4-.6z" fill="#f7e0df"/><path d="M147.1 84.9l1.3-1.8-.8-.3-1.3 1.6zM156.5 80.2l1.4.5-.9.2-1.4-.5z" fill="#efc0bf"/><path d="M148.4 83.1l1.3-1.6-.8-.1-1.3 1.4z" fill="#ebb1af"/><path d="M149.7 81.5l1.3-1.2-.8.1-1.3 1zM151 80.3l1.4-.5-.9.2-1.3.4zM152.4 79.8l1.3-.1-.8.3-1.4 0z" fill="#e3928f"/><path d="M153.7 79.7l1.4.1-.8.3-1.4-.1zM155.1 79.8l1.4.4-.9.2-1.3-.3z" fill="#e7a19f"/><path d="M157.9 80.7l1.3.5-.9.3-1.3-.6z" fill="#f3d0cf"/><path d="M161.9 82.2l1.4.4-.9.4-1.4-.5z" fill="#f1f7f0"/><path d="M163.3 82.6l1.3.2-.9.5-1.3-.3z" fill="#e3efe1"/><path d="M164.6 82.8l1.3.1-.9.5-1.3-.1zM165.9 82.9l1.3 0-.9.5-1.3 0z" fill="#d6e7d3"/><path d="M167.2 82.9l1.4-.2-1 .5-1.3.2zM168.6 82.7l1.3-.2-1 .5-1.3.2zM169.9 82.5l1.3-.3-1 .5-1.3.3zM173.9 81.4l1.3-.5-1 .3-1.3.6zM175.2 80.9l1.3-.5-1 .3-1.3.5zM176.5 80.4l1.3-.5-1 .2-1.3.6z" fill="#c8e0c4"/><path d="M171.2 82.2l1.3-.4-.9.5-1.4.4zM172.5 81.8l1.4-.4-1 .4-1.3.5z" fill="#bad8b5"/><path d="M144.1 89.1l1.3-.5-.8-.8-1.4.5zM164.2 81.8l1.3.2-.9.8-1.3-.2z" fill="#ffffff"/><path d="M145.4 88.6l1.3-1.2-.8-.7-1.3 1.1zM162.8 81.5l1.4.3-.9.8-1.4-.4z" fill="#fbefef"/><path d="M146.7 87.4l1.3-1.9-.9-.6-1.2 1.8zM161.5 81.1l1.3.4-.9.7-1.3-.4z" fill="#f7e0df"/><path d="M148 85.5l1.2-2.2-.8-.2-1.3 1.8zM160.1 80.7l1.4.4-.9.7-1.4-.6z" fill="#efc0bf"/><path d="M149.2 83.3l1.3-1.8-.8 0-1.3 1.6zM157.3 79.7l1.4.5-.8.5-1.4-.5z" fill="#e7a19f"/><path d="M150.5 81.5l1.3-1.3-.8.1-1.3 1.2zM154.6 79.4l1.4.1-.9.3-1.4-.1z" fill="#df827f"/><path d="M151.8 80.2l1.4-.7-.8.3-1.4.5zM153.2 79.5l1.4-.1-.9.3-1.3.1z" fill="#db726f"/><path d="M156 79.5l1.3.2-.8.5-1.4-.4z" fill="#e3928f"/><path d="M158.7 80.2l1.4.5-.9.5-1.3-.5z" fill="#ebb1af"/><path d="M165.5 82l1.3.1-.9.8-1.3-.1zM166.8 82.1l1.4 0-1 .8-1.3 0z" fill="#f1f7f0"/><path d="M168.2 82.1l1.3-.2-.9.8-1.4.2zM169.5 81.9l1.3-.2-.9.8-1.3.2zM170.8 81.7l1.4-.2-1 .7-1.3.3zM172.2 81.5l1.3-.4-1 .7-1.3.4zM173.5 81.1l1.3-.4-.9.7-1.4.4zM174.8 80.7l1.4-.4-1 .6-1.3.5zM176.2 80.3l1.3-.5-1 .6-1.3.5zM177.5 79.8l1.4-.4-1.1.5-1.3.5z" fill="#e3efe1"/><path d="M144.9 90l1.3-.5-.8-.9-1.3.5zM170.5 80.9l1.3-.1-1 .9-1.3.2zM171.8 80.8l1.4-.3-1 1-1.4.2zM173.2 80.5l1.3-.2-1 .8-1.3.4zM174.5 80.3l1.4-.4-1.1.8-1.3.4zM175.9 79.9l1.3-.3-1 .7-1.4.4zM177.2 79.6l1.3-.4-1 .6-1.3.5zM178.5 79.2l1.4-.5-1 .7-1.4.4z" fill="#ffffff"/><path d="M146.2 89.5l1.3-1.3-.8-.8-1.3 1.2zM167.8 81.1l1.3-.1-.9 1.1-1.4 0zM169.1 81l1.4-.1-1 1-1.3.2z" fill="#fbefef"/><path d="M147.5 88.2l1.3-2.2-.8-.5-1.3 1.9zM165.1 80.9l1.3.1-.9 1-1.3-.2z" fill="#f3d0cf"/><path d="M148.8 86l1.3-2.4-.9-.3-1.2 2.2zM162.4 80.4l1.3.3-.9.8-1.3-.4z" fill="#ebb1af"/><path d="M150.1 83.6l1.3-2-.9-.1-1.3 1.8zM159.6 79.7l1.4.4-.9.6-1.4-.5z" fill="#e3928f"/><path d="M151.4 81.6l1.3-1.5-.9.1-1.3 1.3zM156.8 79.1l1.4.2-.9.4-1.3-.2z" fill="#db726f"/><path d="M152.7 80.1l1.4-.8-.9.2-1.4.7zM154.1 79.3l1.3-.2-.8.3-1.4.1zM155.4 79.1l1.4 0-.8.4-1.4-.1z" fill="#d7635f"/><path d="M158.2 79.3l1.4.4-.9.5-1.4-.5z" fill="#df827f"/><path d="M161 80.1l1.4.3-.9.7-1.4-.4z" fill="#e7a19f"/><path d="M163.7 80.7l1.4.2-.9.9-1.4-.3z" fill="#efc0bf"/><path d="M166.4 81l1.4.1-1 1-1.3-.1z" fill="#f7e0df"/><path d="M145.7 90.9l1.4-.6-.9-.8-1.3.5z" fill="#ffffff"/><path d="M147.1 90.3l1.3-1.3-.9-.8-1.3 1.3z" fill="#fbefef"/><path d="M148.4 89l1.2-2.4-.8-.6-1.3 2.2zM170.1 80.2l1.3-.1-.9.8-1.4.1zM171.4 80.1l1.4-.1-1 .8-1.3.1zM172.8 80l1.3-.2-.9.7-1.4.3z" fill="#f3d0cf"/><path d="M149.6 86.6l1.3-2.5-.8-.5-1.3 2.4zM166 80.2l1.4 0-1 .8-1.3-.1z" fill="#ebb1af"/><path d="M150.9 84.1l1.3-2.2-.8-.3-1.3 2zM161.9 79.7l1.4.2-.9.5-1.4-.3z" fill="#df827f"/><path d="M152.2 81.9l1.3-1.6-.8-.2-1.3 1.5zM157.7 79.1l1.4.1-.9.1-1.4-.2zM159.1 79.2l1.4.2-.9.3-1.4-.4z" fill="#d7635f"/><path d="M153.5 80.3l1.4-.9-.8-.1-1.4.8zM154.9 79.4l1.4-.2-.9-.1-1.3.2zM156.3 79.2l1.4-.1-.9 0-1.4 0z" fill="#d3534f"/><path d="M160.5 79.4l1.4.3-.9.4-1.4-.4z" fill="#db726f"/><path d="M163.3 79.9l1.3.1-.9.7-1.3-.3z" fill="#e3928f"/><path d="M164.6 80l1.4.2-.9.7-1.4-.2z" fill="#e7a19f"/><path d="M167.4 80.2l1.3 0-.9.9-1.4-.1zM168.7 80.2l1.4 0-1 .8-1.3.1z" fill="#efc0bf"/><path d="M174.1 79.8l1.4-.2-1 .7-1.3.2zM175.5 79.6l1.4-.3-1 .6-1.4.4zM176.9 79.3l1.3-.3-1 .6-1.3.3zM178.2 79l1.4-.3-1.1.5-1.3.4zM179.6 78.7l1.3-.4-1 .4-1.4.5z" fill="#f7e0df"/><path d="M146.5 91.8l1.4-.6-.8-.9-1.4.6z" fill="#ffffff"/><path d="M147.9 91.2l1.3-1.4-.8-.8-1.3 1.3z" fill="#fbefef"/><path d="M149.2 89.8l1.3-2.4-.9-.8-1.2 2.4zM180.6 78.7l1.3-.3-1-.1-1.3.4z" fill="#f3d0cf"/><path d="M150.5 87.4l1.3-2.6-.9-.7-1.3 2.5zM169.7 79.8l1.3 0-.9.4-1.4 0z" fill="#e7a19f"/><path d="M151.8 84.8l1.3-2.3-.9-.6-1.3 2.2zM162.8 79.6l1.4.1-.9.2-1.4-.2zM164.2 79.7l1.3 0-.9.3-1.3-.1z" fill="#db726f"/><path d="M153.1 82.5l1.3-1.7-.9-.5-1.3 1.6zM158.6 79.5l1.4-.1-.9-.2-1.4-.1zM160 79.4l1.4.1-.9-.1-1.4-.2z" fill="#d3534f"/><path d="M154.4 80.8l1.4-1-.9-.4-1.4.9zM155.8 79.8l1.4-.2-.9-.4-1.4.2zM157.2 79.6l1.4-.1-.9-.4-1.4.1z" fill="#cf433f"/><path d="M161.4 79.5l1.4.1-.9.1-1.4-.3z" fill="#d7635f"/><path d="M165.5 79.7l1.4.1-.9.4-1.4-.2z" fill="#df827f"/><path d="M166.9 79.8l1.4 0-.9.4-1.4 0zM168.3 79.8l1.4 0-1 .4-1.3 0z" fill="#e3928f"/><path d="M171 79.8l1.4-.1-1 .4-1.3.1zM172.4 79.7l1.4-.1-1 .4-1.4.1zM173.8 79.6l1.3-.1-1 .3-1.3.2z" fill="#ebb1af"/><path d="M175.1 79.5l1.4-.1-1 .2-1.4.2zM176.5 79.4l1.3-.2-.9.1-1.4.3zM177.8 79.2l1.4-.2-1 0-1.3.3zM179.2 79l1.4-.3-1 0-1.4.3z" fill="#efc0bf"/><path d="M147.4 92.6l1.3-.6-.8-.8-1.4.6z" fill="#ffffff"/><path d="M148.7 92l1.3-1.4-.8-.8-1.3 1.4z" fill="#fbefef"/><path d="M150 90.6l1.3-2.4-.8-.8-1.3 2.4z" fill="#f3d0cf"/><path d="M151.3 88.2l1.3-2.6-.8-.8-1.3 2.6zM174.7 79.6l1.4 0-1-.1-1.3.1zM176.1 79.6l1.4-.1-1-.1-1.4.1z" fill="#e7a19f"/><path d="M152.6 85.6l1.3-2.3-.8-.8-1.3 2.3zM166.5 79.7l1.3 0-.9.1-1.4-.1zM167.8 79.7l1.4 0-.9.1-1.4 0z" fill="#db726f"/><path d="M153.9 83.3l1.4-1.8-.9-.7-1.3 1.7zM162.3 79.8l1.4 0-.9-.2-1.4-.1z" fill="#d3534f"/><path d="M155.3 81.5l1.4-1-.9-.7-1.4 1zM158.1 80.2l1.4-.2-.9-.5-1.4.1zM159.5 80l1.4-.1-.9-.5-1.4.1zM160.9 79.9l1.4-.1-.9-.3-1.4-.1z" fill="#cf433f"/><path d="M156.7 80.5l1.4-.3-.9-.6-1.4.2z" fill="#cb342f"/><path d="M163.7 79.8l1.4-.1-.9 0-1.4-.1zM165.1 79.7l1.4 0-1 0-1.3 0z" fill="#d7635f"/><path d="M169.2 79.7l1.4 0-.9.1-1.4 0zM170.6 79.7l1.4-.1-1 .2-1.3 0z" fill="#df827f"/><path d="M172 79.6l1.4 0-1 .1-1.4.1zM173.4 79.6l1.3 0-.9 0-1.4.1z" fill="#e3928f"/><path d="M177.5 79.5l1.3-.1-1-.2-1.3.2zM178.8 79.4l1.4-.1-1-.3-1.4.2zM180.2 79.3l1.4-.2-1-.4-1.4.3z" fill="#ebb1af"/><path d="M181.6 79.1l1.3-.3-1-.4-1.3.3z" fill="#efc0bf"/><path d="M148.2 93.5l1.4-.6-.9-.9-1.3.6z" fill="#ffffff"/><path d="M149.6 92.9l1.3-1.4-.9-.9-1.3 1.4z" fill="#fbefef"/><path d="M150.9 91.5l1.3-2.5-.9-.8-1.3 2.4z" fill="#f3d0cf"/><path d="M152.2 89l1.3-2.6-.9-.8-1.3 2.6zM178.4 79.8l1.4-.1-1-.3-1.3.1zM179.8 79.7l1.4 0-1-.4-1.4.1z" fill="#e7a19f"/><path d="M153.5 86.4l1.3-2.4-.9-.7-1.3 2.3zM170.2 79.7l1.4 0-1 0-1.4 0zM171.6 79.7l1.3 0-.9-.1-1.4.1z" fill="#db726f"/><path d="M154.8 84l1.4-1.8-.9-.7-1.4 1.8zM164.6 80.1l1.4-.1-.9-.3-1.4.1zM166 80l1.4-.1-.9-.2-1.4 0z" fill="#d3534f"/><path d="M156.2 82.2l1.4-1-.9-.7-1.4 1zM160.4 80.6l1.4-.2-.9-.5-1.4.1zM161.8 80.4l1.4-.1-.9-.5-1.4.1zM163.2 80.3l1.4-.2-.9-.3-1.4 0z" fill="#cf433f"/><path d="M157.6 81.2l1.4-.3-.9-.7-1.4.3zM159 80.9l1.4-.3-.9-.6-1.4.2z" fill="#cb342f"/><path d="M167.4 79.9l1.4-.1-1-.1-1.3 0zM168.8 79.8l1.4-.1-1 0-1.4 0z" fill="#d7635f"/><path d="M172.9 79.7l1.4 0-.9-.1-1.4 0zM174.3 79.7l1.4 0-1-.1-1.3 0z" fill="#df827f"/><path d="M175.7 79.7l1.4 0-1-.1-1.4 0zM177.1 79.7l1.3.1-.9-.3-1.4.1z" fill="#e3928f"/><path d="M181.2 79.7l1.3-.1-.9-.5-1.4.2zM182.5 79.6l1.4-.2-1-.6-1.3.3z" fill="#ebb1af"/><path d="M149 94.4l1.4-.6-.8-.9-1.4.6z" fill="#ffffff"/><path d="M150.4 93.8l1.3-1.5-.8-.8-1.3 1.4z" fill="#fbefef"/><path d="M151.7 92.3l1.3-2.4-.8-.9-1.3 2.5z" fill="#f3d0cf"/><path d="M153 89.9l1.3-2.7-.8-.8-1.3 2.6zM180.8 80.2l1.3.1-.9-.6-1.4 0zM182.1 80.3l1.4 0-1-.7-1.3.1z" fill="#e7a19f"/><path d="M154.3 87.2l1.4-2.4-.9-.8-1.3 2.4zM173.9 79.9l1.4 0-1-.2-1.4 0zM175.3 79.9l1.4.1-1-.3-1.4 0z" fill="#db726f"/><path d="M155.7 84.8l1.4-1.8-.9-.8-1.4 1.8zM168.3 80.3l1.4-.2-.9-.3-1.4.1zM169.7 80.1l1.4-.1-.9-.3-1.4.1z" fill="#d3534f"/><path d="M157.1 83l1.4-1-.9-.8-1.4 1zM158.5 82l1.4-.4-.9-.7-1.4.3zM159.9 81.6l1.4-.2-.9-.8-1.4.3zM161.3 81.4l1.4-.3-.9-.7-1.4.2z" fill="#cb342f"/><path d="M162.7 81.1l1.4-.3-.9-.5-1.4.1zM164.1 80.8l1.4-.2-.9-.5-1.4.2zM165.5 80.6l1.4-.2-.9-.4-1.4.1zM166.9 80.4l1.4-.1-.9-.4-1.4.1z" fill="#cf433f"/><path d="M171.1 80l1.4-.1-.9-.2-1.4 0zM172.5 79.9l1.4 0-1-.2-1.3 0z" fill="#d7635f"/><path d="M176.7 80l1.3 0-.9-.3-1.4 0z" fill="#df827f"/><path d="M178 80l1.4.1-1-.3-1.3-.1zM179.4 80.1l1.4.1-1-.5-1.4.1z" fill="#e3928f"/><path d="M183.5 80.3l1.4-.2-1-.7-1.4.2z" fill="#ebb1af"/><path d="M149.9 95.2l1.3-.5-.8-.9-1.4.6z" fill="#ffffff"/><path d="M151.2 94.7l1.4-1.5-.9-.9-1.3 1.5z" fill="#fbefef"/><path d="M152.6 93.2l1.3-2.5-.9-.8-1.3 2.4z" fill="#f3d0cf"/><path d="M153.9 90.7l1.3-2.7-.9-.8-1.3 2.7zM183.1 80.9l1.4.1-1-.7-1.4 0z" fill="#e7a19f"/><path d="M155.2 88l1.4-2.3-.9-.9-1.4 2.4zM176.2 80.2l1.4.1-.9-.3-1.4-.1zM177.6 80.3l1.4.1-1-.4-1.3 0z" fill="#db726f"/><path d="M156.6 85.7l1.3-1.9-.8-.8-1.4 1.8zM170.6 80.6l1.4-.2-.9-.4-1.4.1zM172 80.4l1.4-.1-.9-.4-1.4.1zM173.4 80.3l1.4-.1-.9-.3-1.4 0z" fill="#d3534f"/><path d="M157.9 83.8l1.4-1.1-.8-.7-1.4 1zM159.3 82.7l1.5-.3-.9-.8-1.4.4zM160.8 82.4l1.4-.3-.9-.7-1.4.2zM162.2 82.1l1.4-.3-.9-.7-1.4.3zM163.6 81.8l1.4-.3-.9-.7-1.4.3z" fill="#cb342f"/><path d="M165 81.5l1.4-.2-.9-.7-1.4.2zM166.4 81.3l1.4-.3-.9-.6-1.4.2zM167.8 81l1.4-.2-.9-.5-1.4.1zM169.2 80.8l1.4-.2-.9-.5-1.4.2z" fill="#cf433f"/><path d="M174.8 80.2l1.4 0-.9-.3-1.4 0z" fill="#d7635f"/><path d="M179 80.4l1.4.1-1-.4-1.4-.1z" fill="#df827f"/><path d="M180.4 80.5l1.3.2-.9-.5-1.4-.1zM181.7 80.7l1.4.2-1-.6-1.3-.1z" fill="#e3928f"/><path d="M184.5 81l1.3-.1-.9-.8-1.4.2z" fill="#ebb1af"/><path d="M150.7 96.1l1.4-.6-.9-.8-1.3.5z" fill="#ffffff"/><path d="M152.1 95.5l1.3-1.4-.8-.9-1.4 1.5z" fill="#fbefef"/><path d="M153.4 94.1l1.3-2.5-.8-.9-1.3 2.5z" fill="#f3d0cf"/><path d="M154.7 91.6l1.4-2.7-.9-.9-1.3 2.7zM184.1 81.5l1.3.3-.9-.8-1.4-.1z" fill="#e7a19f"/><path d="M156.1 88.9l1.3-2.4-.8-.8-1.4 2.3zM178.6 80.7l1.4.1-1-.4-1.4-.1zM180 80.8l1.3.2-.9-.5-1.4-.1z" fill="#db726f"/><path d="M157.4 86.5l1.4-1.9-.9-.8-1.3 1.9zM174.4 80.7l1.4-.1-1-.4-1.4.1zM175.8 80.6l1.4 0-1-.4-1.4 0z" fill="#d3534f"/><path d="M158.8 84.6l1.4-1.1-.9-.8-1.4 1.1zM160.2 83.5l1.5-.3-.9-.8-1.5.3zM161.7 83.2l1.4-.3-.9-.8-1.4.3zM163.1 82.9l1.4-.3-.9-.8-1.4.3zM164.5 82.6l1.4-.3-.9-.8-1.4.3zM165.9 82.3l1.4-.3-.9-.7-1.4.2z" fill="#cb342f"/><path d="M167.3 82l1.4-.3-.9-.7-1.4.3zM168.7 81.7l1.5-.3-1-.6-1.4.2zM170.2 81.4l1.4-.2-1-.6-1.4.2zM171.6 81.2l1.4-.3-1-.5-1.4.2zM173 80.9l1.4-.2-1-.4-1.4.1z" fill="#cf433f"/><path d="M177.2 80.6l1.4.1-1-.4-1.4-.1z" fill="#d7635f"/><path d="M181.3 81l1.4.3-1-.6-1.3-.2z" fill="#df827f"/><path d="M182.7 81.3l1.4.2-1-.6-1.4-.2z" fill="#e3928f"/><path d="M185.4 81.8l1.4 0-1-.9-1.3.1z" fill="#ebb1af"/><path d="M151.5 97l1.4-.6-.8-.9-1.4.6z" fill="#ffffff"/><path d="M152.9 96.4l1.4-1.5-.9-.8-1.3 1.4z" fill="#fbefef"/><path d="M154.3 94.9l1.3-2.5-.9-.8-1.3 2.5z" fill="#f3d0cf"/><path d="M155.6 92.4l1.3-2.7-.8-.8-1.4 2.7zM185 82.3l1.4.3-1-.8-1.3-.3z" fill="#e7a19f"/><path d="M156.9 89.7l1.4-2.4-.9-.8-1.3 2.4zM180.9 81.4l1.4.2-1-.6-1.3-.2z" fill="#db726f"/><path d="M158.3 87.3l1.4-1.9-.9-.8-1.4 1.9zM176.7 81.2l1.4-.1-.9-.5-1.4 0zM178.1 81.1l1.4.1-.9-.5-1.4-.1z" fill="#d3534f"/><path d="M159.7 85.4l1.4-1-.9-.9-1.4 1.1zM161.1 84.4l1.4-.4-.8-.8-1.5.3zM162.5 84l1.5-.3-.9-.8-1.4.3zM164 83.7l1.4-.3-.9-.8-1.4.3zM165.4 83.4l1.4-.4-.9-.7-1.4.3zM166.8 83l1.4-.3-.9-.7-1.4.3zM168.2 82.7l1.5-.3-1-.7-1.4.3z" fill="#cb342f"/><path d="M169.7 82.4l1.4-.3-.9-.7-1.5.3zM171.1 82.1l1.4-.3-.9-.6-1.4.2zM172.5 81.8l1.4-.3-.9-.6-1.4.3zM173.9 81.5l1.4-.2-.9-.6-1.4.2zM175.3 81.3l1.4-.1-.9-.6-1.4.1z" fill="#cf433f"/><path d="M179.5 81.2l1.4.2-.9-.6-1.4-.1z" fill="#d7635f"/><path d="M182.3 81.6l1.4.3-1-.6-1.4-.3z" fill="#df827f"/><path d="M183.7 81.9l1.3.4-.9-.8-1.4-.2z" fill="#e3928f"/><path d="M186.4 82.6l1.4.1-1-.9-1.4 0z" fill="#ebb1af"/><path d="M152.3 97.9l1.4-.6-.8-.9-1.4.6z" fill="#ffffff"/><path d="M153.7 97.3l1.4-1.5-.8-.9-1.4 1.5z" fill="#fbefef"/><path d="M155.1 95.8l1.3-2.5-.8-.9-1.3 2.5z" fill="#f3d0cf"/><path d="M156.4 93.3l1.4-2.7-.9-.9-1.3 2.7zM186 83.1l1.3.4-.9-.9-1.4-.3z" fill="#e7a19f"/><path d="M157.8 90.6l1.4-2.4-.9-.9-1.4 2.4zM181.9 82.2l1.4.2-1-.8-1.4-.2z" fill="#db726f"/><path d="M159.2 88.2l1.4-1.9-.9-.9-1.4 1.9zM177.7 81.9l1.4 0-1-.8-1.4.1zM179.1 81.9l1.4.1-1-.8-1.4-.1z" fill="#d3534f"/><path d="M160.6 86.3l1.4-1.1-.9-.8-1.4 1zM162 85.2l1.4-.3-.9-.9-1.4.4zM163.4 84.9l1.5-.4-.9-.8-1.5.3zM164.9 84.5l1.4-.3-.9-.8-1.4.3zM166.3 84.2l1.4-.3-.9-.9-1.4.4zM167.7 83.9l1.4-.3-.9-.9-1.4.3zM169.1 83.6l1.5-.3-.9-.9-1.5.3z" fill="#cb342f"/><path d="M170.6 83.3l1.4-.4-.9-.8-1.4.3zM172 82.9l1.4-.3-.9-.8-1.4.3zM173.4 82.6l1.4-.3-.9-.8-1.4.3zM174.8 82.3l1.5-.2-1-.8-1.4.2zM176.3 82.1l1.4-.2-1-.7-1.4.1z" fill="#cf433f"/><path d="M180.5 82l1.4.2-1-.8-1.4-.2z" fill="#d7635f"/><path d="M183.3 82.4l1.3.3-.9-.8-1.4-.3z" fill="#df827f"/><path d="M184.6 82.7l1.4.4-1-.8-1.3-.4z" fill="#e3928f"/><path d="M187.3 83.5l1.4.1-.9-.9-1.4-.1z" fill="#ebb1af"/><path d="M153.2 98.7l1.4-.6-.9-.8-1.4.6z" fill="#ffffff"/><path d="M154.6 98.1l1.3-1.3-.8-1-1.4 1.5z" fill="#fbefef"/><path d="M155.9 96.8l1.4-2.4-.9-1.1-1.3 2.5z" fill="#f3d0cf"/><path d="M157.3 94.4l1.4-2.5-.9-1.3-1.4 2.7zM186.9 84.3l1.4.3-1-1.1-1.3-.4z" fill="#e7a19f"/><path d="M158.7 91.9l1.4-2.3-.9-1.4-1.4 2.4zM184.2 83.8l1.4.2-1-1.3-1.3-.3z" fill="#df827f"/><path d="M160.1 89.6l1.4-1.7-.9-1.6-1.4 1.9zM177.2 83.6l1.4-.1-.9-1.6-1.4.2zM178.6 83.5l1.4-.1-.9-1.5-1.4 0z" fill="#d3534f"/><path d="M161.5 87.9l1.4-1.1-.9-1.6-1.4 1.1zM162.9 86.8l1.4-.3-.9-1.6-1.4.3zM164.3 86.5l1.5-.4-.9-1.6-1.5.4zM165.8 86.1l1.4-.3-.9-1.6-1.4.3zM167.2 85.8l1.4-.4-.9-1.5-1.4.3zM168.6 85.4l1.4-.3-.9-1.5-1.4.3zM170 85.1l1.5-.3-.9-1.5-1.5.3zM171.5 84.8l1.4-.4-.9-1.5-1.4.4zM172.9 84.4l1.4-.3-.9-1.5-1.4.3zM174.3 84.1l1.5-.2-1-1.6-1.4.3zM175.8 83.9l1.4-.3-.9-1.5-1.5.2z" fill="#cf433f"/><path d="M180 83.4l1.4.1-.9-1.5-1.4-.1zM181.4 83.5l1.4.1-.9-1.4-1.4-.2z" fill="#d7635f"/><path d="M182.8 83.6l1.4.2-.9-1.4-1.4-.2z" fill="#db726f"/><path d="M185.6 84l1.3.3-.9-1.2-1.4-.4z" fill="#e3928f"/><path d="M188.3 84.6l1.4.1-1-1.1-1.4-.1z" fill="#ebb1af"/><path d="M154 99.6l1.4-.6-.8-.9-1.4.6z" fill="#ffffff"/><path d="M155.4 99l1.4-1.2-.9-1-1.3 1.3z" fill="#fbefef"/><path d="M156.8 97.8l1.4-2-.9-1.4-1.4 2.4z" fill="#f7e0df"/><path d="M158.2 95.8l1.3-2.2-.8-1.7-1.4 2.5zM187.8 85.9l1.4.2-.9-1.5-1.4-.3z" fill="#ebb1af"/><path d="M159.5 93.6l1.5-1.9-.9-2.1-1.4 2.3zM185.1 85.6l1.3.2-.8-1.8-1.4-.2z" fill="#e3928f"/><path d="M161 91.7l1.4-1.5-.9-2.3-1.4 1.7zM179.5 85.7l1.4-.1-.9-2.2-1.4.1zM180.9 85.6l1.4 0-.9-2.1-1.4-.1z" fill="#db726f"/><path d="M162.4 90.2l1.4-1-.9-2.4-1.4 1.1zM173.8 86.7l1.4-.3-.9-2.3-1.4.3zM175.2 86.4l1.4-.3-.8-2.2-1.5.2zM176.6 86.1l1.4-.2-.8-2.3-1.4.3zM178 85.9l1.5-.2-.9-2.2-1.4.1z" fill="#d7635f"/><path d="M163.8 89.2l1.4-.4-.9-2.3-1.4.3zM165.2 88.8l1.4-.3-.8-2.4-1.5.4zM166.6 88.5l1.5-.4-.9-2.3-1.4.3zM168.1 88.1l1.4-.4-.9-2.3-1.4.4zM169.5 87.7l1.4-.3-.9-2.3-1.4.3zM170.9 87.4l1.5-.4-.9-2.2-1.5.3zM172.4 87l1.4-.3-.9-2.3-1.4.4z" fill="#d3534f"/><path d="M182.3 85.6l1.4 0-.9-2-1.4-.1zM183.7 85.6l1.4 0-.9-1.8-1.4-.2z" fill="#df827f"/><path d="M186.4 85.8l1.4.1-.9-1.6-1.3-.3z" fill="#e7a19f"/><path d="M189.2 86.1l1.4-.1-.9-1.3-1.4-.1z" fill="#efc0bf"/><path d="M154.8 100.5l1.4-.6-.8-.9-1.4.6z" fill="#ffffff"/><path d="M156.2 99.9l1.4-1-.8-1.1-1.4 1.2z" fill="#fbefef"/><path d="M157.6 98.9l1.4-1.5-.8-1.6-1.4 2z" fill="#f7e0df"/><path d="M159 97.4l1.4-1.7-.9-2.1-1.3 2.2zM188.7 87.8l1.4-.1-.9-1.6-1.4-.2z" fill="#efc0bf"/><path d="M160.4 95.7l1.4-1.5-.8-2.5-1.5 1.9zM183.1 88l1.4-.1-.8-2.3-1.4 0zM184.5 87.9l1.4-.1-.8-2.2-1.4 0z" fill="#e7a19f"/><path d="M161.8 94.2l1.4-1.3-.8-2.7-1.4 1.5zM180.3 88.3l1.4-.2-.8-2.5-1.4.1zM181.7 88.1l1.4-.1-.8-2.4-1.4 0z" fill="#e3928f"/><path d="M163.2 92.9l1.5-.8-.9-2.9-1.4 1zM164.7 92.1l1.4-.4-.9-2.9-1.4.4zM166.1 91.7l1.4-.3-.9-2.9-1.4.3zM167.5 91.4l1.4-.4-.8-2.9-1.5.4zM168.9 91l1.5-.4-.9-2.9-1.4.4zM170.4 90.6l1.4-.4-.9-2.8-1.4.3zM171.8 90.2l1.4-.4-.8-2.8-1.5.4zM173.2 89.8l1.4-.4-.8-2.7-1.4.3zM174.6 89.4l1.5-.3-.9-2.7-1.4.3zM176.1 89.1l1.4-.3-.9-2.7-1.4.3zM177.5 88.8l1.4-.3-.9-2.6-1.4.2zM178.9 88.5l1.4-.2-.8-2.6-1.5.2z" fill="#df827f"/><path d="M185.9 87.8l1.4 0-.9-2-1.3-.2zM187.3 87.8l1.4 0-.9-1.9-1.4-.1z" fill="#ebb1af"/><path d="M190.1 87.7l1.4-.1-.9-1.6-1.4.1z" fill="#f3d0cf"/><path d="M155.7 101.3l1.4-.4-.9-1-1.4.6zM157.1 100.9l1.4-.8-.9-1.2-1.4 1z" fill="#ffffff"/><path d="M158.5 100.1l1.4-1.1-.9-1.6-1.4 1.5z" fill="#fbefef"/><path d="M159.9 99l1.4-1.1-.9-2.2-1.4 1.7zM189.6 89.7l1.4-.3-.9-1.7-1.4.1zM191 89.4l1.4-.2-.9-1.6-1.4.1z" fill="#f7e0df"/><path d="M161.3 97.9l1.4-1.1-.9-2.6-1.4 1.5zM182.5 90.8l1.5-.2-.9-2.6-1.4.1zM184 90.6l1.4-.3-.9-2.4-1.4.1zM185.4 90.3l1.4-.2-.9-2.3-1.4.1z" fill="#efc0bf"/><path d="M162.7 96.8l1.4-.8-.9-3.1-1.4 1.3zM164.1 96l1.4-.7-.8-3.2-1.5.8zM165.5 95.3l1.5-.4-.9-3.2-1.4.4zM167 94.9l1.4-.4-.9-3.1-1.4.3zM168.4 94.5l1.4-.4-.9-3.1-1.4.4zM169.8 94.1l1.4-.4-.8-3.1-1.5.4zM171.2 93.7l1.4-.5-.8-3-1.4.4zM172.6 93.2l1.5-.4-.9-3-1.4.4zM174.1 92.8l1.4-.4-.9-3-1.4.4zM175.5 92.4l1.4-.3-.8-3-1.5.3zM176.9 92.1l1.4-.4-.8-2.9-1.4.3zM178.3 91.7l1.4-.3-.8-2.9-1.4.3zM179.7 91.4l1.4-.3-.8-2.8-1.4.2zM181.1 91.1l1.4-.3-.8-2.7-1.4.2z" fill="#ebb1af"/><path d="M186.8 90.1l1.4-.2-.9-2.1-1.4 0zM188.2 89.9l1.4-.2-.9-1.9-1.4 0z" fill="#f3d0cf"/><path d="M156.5 102.2l1.4-.4-.8-.9-1.4.4zM157.9 101.8l1.4-.6-.8-1.1-1.4.8z" fill="#ffffff"/><path d="M159.3 101.2l1.4-.6-.8-1.6-1.4 1.1zM160.7 100.6l1.4-.7-.8-2-1.4 1.1zM189 91.7l1.4-.3-.8-1.7-1.4.2zM190.4 91.4l1.5-.4-.9-1.6-1.4.3zM191.9 91l1.4-.4-.9-1.4-1.4.2z" fill="#fbefef"/><path d="M162.1 99.9l1.5-.7-.9-2.4-1.4 1.1zM163.6 99.2l1.4-.6-.9-2.6-1.4.8zM179.1 94.3l1.5-.3-.9-2.6-1.4.3zM180.6 94l1.4-.4-.9-2.5-1.4.3zM182 93.6l1.4-.4-.9-2.4-1.4.3zM183.4 93.2l1.4-.4-.8-2.2-1.5.2zM184.8 92.8l1.4-.4-.8-2.1-1.4.3zM186.2 92.4l1.4-.3-.8-2-1.4.2zM187.6 92.1l1.4-.4-.8-1.8-1.4.2z" fill="#f7e0df"/><path d="M165 98.6l1.4-.5-.9-2.8-1.4.7zM166.4 98.1l1.4-.4-.8-2.8-1.5.4zM167.8 97.7l1.4-.4-.8-2.8-1.4.4zM169.2 97.3l1.4-.4-.8-2.8-1.4.4zM170.6 96.9l1.5-.5-.9-2.7-1.4.4zM172.1 96.4l1.4-.4-.9-2.8-1.4.5zM173.5 96l1.4-.4-.8-2.8-1.5.4zM174.9 95.6l1.4-.4-.8-2.8-1.4.4zM176.3 95.2l1.4-.5-.8-2.6-1.4.3zM177.7 94.7l1.4-.4-.8-2.6-1.4.4z" fill="#f3d0cf"/><path d="M157.3 103.1l1.4-.5-.8-.8-1.4.4zM158.7 102.6l1.5-.4-.9-1-1.4.6zM160.2 102.2l1.4-.5-.9-1.1-1.4.6zM161.6 101.7l1.4-.4-.9-1.4-1.4.7zM188.5 93.4l1.4-.4-.9-1.3-1.4.4zM189.9 93l1.5-.4-1-1.2-1.4.3zM191.4 92.6l1.4-.4-.9-1.2-1.5.4zM192.8 92.2l1.4-.5-.9-1.1-1.4.4z" fill="#ffffff"/><path d="M163 101.3l1.4-.5-.8-1.6-1.5.7zM164.4 100.8l1.4-.5-.8-1.7-1.4.6zM165.8 100.3l1.4-.4-.8-1.8-1.4.5zM167.2 99.9l1.5-.4-.9-1.8-1.4.4zM168.7 99.5l1.4-.5-.9-1.7-1.4.4zM170.1 99l1.4-.4-.9-1.7-1.4.4zM171.5 98.6l1.4-.4-.8-1.8-1.5.5zM172.9 98.2l1.4-.5-.8-1.7-1.4.4zM174.3 97.7l1.5-.4-.9-1.7-1.4.4zM175.8 97.3l1.4-.4-.9-1.7-1.4.4zM177.2 96.9l1.4-.5-.9-1.7-1.4.5zM178.6 96.4l1.4-.4-.9-1.7-1.4.4zM180 96l1.4-.4-.8-1.6-1.5.3zM181.4 95.6l1.5-.5-.9-1.5-1.4.4zM182.9 95.1l1.4-.4-.9-1.5-1.4.4zM184.3 94.7l1.4-.4-.9-1.5-1.4.4zM185.7 94.3l1.4-.4-.9-1.5-1.4.4zM187.1 93.9l1.4-.5-.9-1.3-1.4.3z" fill="#fbefef"/><path d="M158.2 104l1.4-.5-.9-.9-1.4.5zM159.6 103.5l1.4-.4-.8-.9-1.5.4zM161 103.1l1.4-.5-.8-.9-1.4.5zM162.4 102.6l1.4-.4-.8-.9-1.4.4zM163.8 102.2l1.5-.4-.9-1-1.4.5zM165.3 101.8l1.4-.5-.9-1-1.4.5zM166.7 101.3l1.4-.4-.9-1-1.4.4zM168.1 100.9l1.4-.4-.8-1-1.5.4zM169.5 100.5l1.5-.5-.9-1-1.4.5zM171 100l1.4-.4-.9-1-1.4.4zM172.4 99.6l1.4-.5-.9-.9-1.4.4zM173.8 99.1l1.4-.4-.9-1-1.4.5zM175.2 98.7l1.4-.4-.8-1-1.5.4zM176.6 98.3l1.5-.5-.9-.9-1.4.4zM178.1 97.8l1.4-.4-.9-1-1.4.5zM179.5 97.4l1.4-.4-.9-1-1.4.4zM180.9 97l1.4-.5-.9-.9-1.4.4zM182.3 96.5l1.5-.4-.9-1-1.5.5zM183.8 96.1l1.4-.4-.9-1-1.4.4zM185.2 95.7l1.4-.5-.9-.9-1.4.4zM186.6 95.2l1.4-.4-.9-.9-1.4.4zM188 94.8l1.5-.5-1-.9-1.4.5zM189.5 94.3l1.4-.4-1-.9-1.4.4zM190.9 93.9l1.4-.4-.9-.9-1.5.4zM192.3 93.5l1.4-.5-.9-.8-1.4.4zM193.7 93l1.4-.4-.9-.9-1.4.5z" fill="#ffffff"/></g>
<text x="165.8" y="39.2" font-size="6.2" text-anchor="middle" textLength="44.0" lengthAdjust="spacingAndGlyphs">ZIP synergy score: 5.582</text>
<defs><linearGradient id="cbg0" x1="0" x2="1" y1="0" y2="0"><stop offset="0" stop-color="#3e9130"/><stop offset="0.5" stop-color="#fff"/><stop offset="1" stop-color="#c7241f"/></linearGradient></defs>
<rect x="127.5" y="47.7" width="77.6" height="1.6" fill="url(#cbg0)"/>
<text x="127.5" y="46.3" font-size="3.4" text-anchor="middle" fill="#333">-20</text>
<text x="137.2" y="46.3" font-size="3.4" text-anchor="middle" fill="#333">-15</text>
<text x="146.9" y="46.3" font-size="3.4" text-anchor="middle" fill="#333">-10</text>
<text x="156.6" y="46.3" font-size="3.4" text-anchor="middle" fill="#333">-5</text>
<text x="166.3" y="46.3" font-size="3.4" text-anchor="middle" fill="#333">0</text>
<text x="176.0" y="46.3" font-size="3.4" text-anchor="middle" fill="#333">5</text>
<text x="185.7" y="46.3" font-size="3.4" text-anchor="middle" fill="#333">10</text>
<text x="195.4" y="46.3" font-size="3.4" text-anchor="middle" fill="#333">15</text>
<text x="205.1" y="46.3" font-size="3.4" text-anchor="middle" fill="#333">20</text>
<text x="134.0" y="66.1" font-size="3.5" text-anchor="end" fill="#333">20</text>
<line x1="134.10" y1="64.90" x2="135.00" y2="64.90" stroke="#555" stroke-width="0.3"/>
<text x="134.4" y="70.2" font-size="3.5" text-anchor="end" fill="#333">15</text>
<line x1="134.50" y1="69.00" x2="135.40" y2="69.00" stroke="#555" stroke-width="0.3"/>
<text x="134.8" y="74.3" font-size="3.5" text-anchor="end" fill="#333">10</text>
<line x1="134.90" y1="73.10" x2="135.80" y2="73.10" stroke="#555" stroke-width="0.3"/>
<text x="135.2" y="78.4" font-size="3.5" text-anchor="end" fill="#333">5</text>
<line x1="135.30" y1="77.20" x2="136.20" y2="77.20" stroke="#555" stroke-width="0.3"/>
<text x="135.6" y="82.5" font-size="3.5" text-anchor="end" fill="#333">0</text>
<line x1="135.70" y1="81.30" x2="136.60" y2="81.30" stroke="#555" stroke-width="0.3"/>
<text x="136.0" y="86.6" font-size="3.5" text-anchor="end" fill="#333">-5</text>
<line x1="136.10" y1="85.40" x2="137.00" y2="85.40" stroke="#555" stroke-width="0.3"/>
<text x="136.4" y="90.7" font-size="3.5" text-anchor="end" fill="#333">-10</text>
<line x1="136.50" y1="89.50" x2="137.40" y2="89.50" stroke="#555" stroke-width="0.3"/>
<text x="136.8" y="94.8" font-size="3.5" text-anchor="end" fill="#333">-15</text>
<line x1="136.90" y1="93.60" x2="137.80" y2="93.60" stroke="#555" stroke-width="0.3"/>
<text x="137.2" y="98.9" font-size="3.5" text-anchor="end" fill="#333">-20</text>
<line x1="137.30" y1="97.70" x2="138.20" y2="97.70" stroke="#555" stroke-width="0.3"/>
<text x="126.0" y="81.3" font-size="4.6" text-anchor="middle" fill="#222" textLength="15.5" lengthAdjust="spacingAndGlyphs" transform="rotate(-90 126.0 81.3)">δ - score</text>
<text x="138.5" y="103.5" font-size="3.5" text-anchor="end" fill="#333">100</text>
<text x="141.7" y="107.5" font-size="3.5" text-anchor="end" fill="#333">50</text>
<text x="144.8" y="111.4" font-size="3.5" text-anchor="end" fill="#333">25</text>
<text x="148.0" y="115.4" font-size="3.5" text-anchor="end" fill="#333">12.5</text>
<text x="151.1" y="119.4" font-size="3.5" text-anchor="end" fill="#333">6.25</text>
<text x="154.3" y="123.3" font-size="3.5" text-anchor="end" fill="#333">3.13</text>
<text x="136.3" y="116.9" font-size="5.8" text-anchor="middle" font-weight="bold" fill="#111" textLength="21.0" lengthAdjust="spacingAndGlyphs" transform="rotate(51.5 136.3 116.9)">ELTA (nM)</text>
<text x="162.8" y="126.2" font-size="3.5" text-anchor="middle" fill="#333">3.13</text>
<line x1="162.31" y1="121.59" x2="162.51" y2="122.49" stroke="#555" stroke-width="0.3"/>
<text x="169.3" y="123.7" font-size="3.5" text-anchor="middle" fill="#333">6.25</text>
<line x1="168.83" y1="119.07" x2="169.03" y2="119.97" stroke="#555" stroke-width="0.3"/>
<text x="175.8" y="121.2" font-size="3.5" text-anchor="middle" fill="#333">12.5</text>
<line x1="175.35" y1="116.55" x2="175.55" y2="117.45" stroke="#555" stroke-width="0.3"/>
<text x="182.4" y="118.6" font-size="3.5" text-anchor="middle" fill="#333">25</text>
<line x1="181.87" y1="114.03" x2="182.07" y2="114.93" stroke="#555" stroke-width="0.3"/>
<text x="188.9" y="116.1" font-size="3.5" text-anchor="middle" fill="#333">50</text>
<line x1="188.39" y1="111.51" x2="188.59" y2="112.41" stroke="#555" stroke-width="0.3"/>
<text x="182.0" y="126.3" font-size="5.8" text-anchor="middle" font-weight="bold" fill="#111" textLength="19.0" lengthAdjust="spacingAndGlyphs" transform="rotate(-21.1 182.0 126.3)">VEN (nM)</text>
<path d="M160.3,270.3L198.0,257.2M160.3,270.3L139.1,246.0M198.0,257.2L173.5,234.5M139.1,246.0L173.5,234.5M159.8,230.5L199.5,218.8M159.8,230.5L137.5,211.5M199.5,218.8L174.2,200.8M137.5,211.5L174.2,200.8M160.3,270.3L159.8,230.5M198.0,257.2L199.5,218.8M139.1,246.0L137.5,211.5M173.5,234.5L174.2,200.8" stroke="#666" stroke-width="0.45" fill="none"/>
<g stroke="#111" stroke-width="0.25" stroke-linejoin="round"><path d="M139.1 229.6l1.4-.4-.8-.9-1.4.5zM140.5 229.2l1.4-.5-.9-.8-1.3.4zM141.9 228.7l1.4-.4-.9-.9-1.4.5zM143.3 228.3l1.3-.4-.8-1-1.4.5zM144.6 227.9l1.4-.6-.9-1.1-1.3.7z" fill="#ffffff"/><path d="M146 227.3l1.3-1.1-.8-1.1-1.4 1.1z" fill="#fbefef"/><path d="M147.3 226.2l1.4-1.4-.9-1.2-1.3 1.5z" fill="#f7e0df"/><path d="M148.7 224.8l1.3-1.6-.9-1.3-1.3 1.7z" fill="#f3d0cf"/><path d="M150 223.2l1.4-1.7-.9-1.4-1.4 1.8z" fill="#efc0bf"/><path d="M151.4 221.5l1.3-1.9-.9-1.3-1.3 1.8z" fill="#e7a19f"/><path d="M152.7 219.6l1.4-1.9-.9-1.2-1.4 1.8z" fill="#df827f"/><path d="M154.1 217.7l1.4-1.8-.9-1.1-1.4 1.7z" fill="#db726f"/><path d="M155.5 215.9l1.4-1.4-1-1-1.3 1.3z" fill="#d7635f"/><path d="M156.9 214.5l1.3-1.1-.9-1-1.4 1.1z" fill="#d3534f"/><path d="M158.2 213.4l1.4-.8-.9-1-1.4.8zM159.6 212.6l1.4-.8-.9-.9-1.4.7z" fill="#cf433f"/><path d="M161 211.8l1.4-.6-.9-1-1.4.7zM162.4 211.2l1.4-.6-.9-1-1.4.6zM163.8 210.6l1.4-.6-.9-.9-1.4.5zM165.2 210l1.4-.5-.9-.9-1.4.5zM166.6 209.5l1.4-.5-.9-.9-1.4.5zM168 209l1.4-.4-.9-.9-1.4.4zM169.4 208.6l1.4-.4-.9-.9-1.4.4zM170.8 208.2l1.5-.3-1-.9-1.4.3zM172.3 207.9l1.3-.3-.9-.9-1.4.3zM173.6 207.6l1.4-.4-.9-.9-1.4.4z" fill="#cb342f"/><path d="M140 230.4l1.3-.4-.8-.8-1.4.4zM141.3 230l1.4-.4-.8-.9-1.4.5zM142.7 229.6l1.4-.4-.8-.9-1.4.4zM144.1 229.2l1.4-.4-.9-.9-1.3.4zM145.5 228.8l1.4-.4-.9-1.1-1.4.6zM146.9 228.4l1.3-.8-.9-1.4-1.3 1.1z" fill="#ffffff"/><path d="M148.2 227.6l1.4-1.3-.9-1.5-1.4 1.4z" fill="#fbefef"/><path d="M149.6 226.3l1.3-1.6-.9-1.5-1.3 1.6z" fill="#f7e0df"/><path d="M150.9 224.7l1.4-1.6-.9-1.6-1.4 1.7z" fill="#efc0bf"/><path d="M152.3 223.1l1.3-2-.9-1.5-1.3 1.9z" fill="#ebb1af"/><path d="M153.6 221.1l1.4-2-.9-1.4-1.4 1.9z" fill="#e3928f"/><path d="M155 219.1l1.4-2-.9-1.2-1.4 1.8z" fill="#db726f"/><path d="M156.4 217.1l1.4-1.6-.9-1-1.4 1.4z" fill="#d7635f"/><path d="M157.8 215.5l1.4-1.1-1-1-1.3 1.1z" fill="#d3534f"/><path d="M159.2 214.4l1.4-.9-1-.9-1.4.8zM160.6 213.5l1.4-.7-1-1-1.4.8zM162 212.8l1.4-.7-1-.9-1.4.6z" fill="#cf433f"/><path d="M163.4 212.1l1.4-.6-1-.9-1.4.6zM164.8 211.5l1.4-.5-1-1-1.4.6zM166.2 211l1.4-.6-1-.9-1.4.5zM167.6 210.4l1.4-.5-1-.9-1.4.5zM169 209.9l1.4-.4-1-.9-1.4.4zM170.4 209.5l1.4-.4-1-.9-1.4.4zM171.8 209.1l1.4-.3-.9-.9-1.5.3zM173.2 208.8l1.4-.3-1-.9-1.3.3zM174.6 208.5l1.4-.4-1-.9-1.4.4z" fill="#cb342f"/><path d="M140.8 231.2l1.4-.4-.9-.8-1.3.4zM142.2 230.8l1.4-.4-.9-.8-1.4.4zM143.6 230.4l1.4-.3-.9-.9-1.4.4zM145 230.1l1.3-.3-.8-1-1.4.4zM146.3 229.8l1.4-.3-.8-1.1-1.4.4zM147.7 229.5l1.4-.7-.9-1.2-1.3.8zM149.1 228.8l1.4-1.1-.9-1.4-1.4 1.3z" fill="#ffffff"/><path d="M150.5 227.7l1.3-1.5-.9-1.5-1.3 1.6z" fill="#f7e0df"/><path d="M151.8 226.2l1.4-1.6-.9-1.5-1.4 1.6z" fill="#f3d0cf"/><path d="M153.2 224.6l1.3-2-.9-1.5-1.3 2z" fill="#efc0bf"/><path d="M154.5 222.6l1.4-2.2-.9-1.3-1.4 2z" fill="#e7a19f"/><path d="M155.9 220.4l1.4-2.1-.9-1.2-1.4 2z" fill="#df827f"/><path d="M157.3 218.3l1.4-1.7-.9-1.1-1.4 1.6z" fill="#d7635f"/><path d="M158.7 216.6l1.4-1.2-.9-1-1.4 1.1zM160.1 215.4l1.4-.9-.9-1-1.4.9z" fill="#d3534f"/><path d="M161.5 214.5l1.4-.7-.9-1-1.4.7zM162.9 213.8l1.4-.7-.9-1-1.4.7zM164.3 213.1l1.4-.6-.9-1-1.4.6z" fill="#cf433f"/><path d="M165.7 212.5l1.4-.6-.9-.9-1.4.5zM167.1 211.9l1.4-.5-.9-1-1.4.6zM168.5 211.4l1.4-.5-.9-1-1.4.5zM169.9 210.9l1.4-.5-.9-.9-1.4.4zM171.3 210.4l1.5-.4-1-.9-1.4.4zM172.8 210l1.4-.3-1-.9-1.4.3zM174.2 209.7l1.4-.3-1-.9-1.4.3zM175.6 209.4l1.4-.4-1-.9-1.4.4z" fill="#cb342f"/><path d="M141.6 232.1l1.4-.4-.8-.9-1.4.4zM143 231.7l1.4-.4-.8-.9-1.4.4zM144.4 231.3l1.4-.3-.8-.9-1.4.3zM145.8 231l1.4-.2-.9-1-1.3.3zM147.2 230.8l1.4-.3-.9-1-1.4.3zM148.6 230.5l1.4-.6-.9-1.1-1.4.7zM150 229.9l1.3-.9-.8-1.3-1.4 1.1z" fill="#ffffff"/><path d="M151.3 229l1.4-1.4-.9-1.4-1.3 1.5z" fill="#fbefef"/><path d="M152.7 227.6l1.4-1.7-.9-1.3-1.4 1.6z" fill="#f7e0df"/><path d="M154.1 225.9l1.3-2-.9-1.3-1.3 2z" fill="#efc0bf"/><path d="M155.4 223.9l1.4-2.3-.9-1.2-1.4 2.2z" fill="#e7a19f"/><path d="M156.8 221.6l1.4-2.2-.9-1.1-1.4 2.1z" fill="#df827f"/><path d="M158.2 219.4l1.4-1.7-.9-1.1-1.4 1.7z" fill="#db726f"/><path d="M159.6 217.7l1.4-1.3-.9-1-1.4 1.2z" fill="#d7635f"/><path d="M161 216.4l1.4-.9-.9-1-1.4.9z" fill="#d3534f"/><path d="M162.4 215.5l1.4-.7-.9-1-1.4.7zM163.8 214.8l1.4-.7-.9-1-1.4.7zM165.2 214.1l1.4-.7-.9-.9-1.4.6zM166.6 213.4l1.4-.6-.9-.9-1.4.6zM176.5 210.3l1.4-.4-.9-.9-1.4.4z" fill="#cf433f"/><path d="M168 212.8l1.5-.5-1-.9-1.4.5zM169.5 212.3l1.4-.5-1-.9-1.4.5zM170.9 211.8l1.4-.5-1-.9-1.4.5zM172.3 211.3l1.4-.4-.9-.9-1.5.4zM173.7 210.9l1.4-.3-.9-.9-1.4.3zM175.1 210.6l1.4-.3-.9-.9-1.4.3z" fill="#cb342f"/><path d="M142.5 232.9l1.4-.4-.9-.8-1.4.4zM143.9 232.5l1.4-.4-.9-.8-1.4.4zM145.3 232.1l1.4-.2-.9-.9-1.4.3zM146.7 231.9l1.4-.1-.9-1-1.4.2zM150.8 231l1.4-.9-.9-1.1-1.3.9zM152.2 230.1l1.4-1.3-.9-1.2-1.4 1.4z" fill="#ffffff"/><path d="M148.1 231.8l1.4-.2-.9-1.1-1.4.3zM149.5 231.6l1.3-.6-.8-1.1-1.4.6z" fill="#f1f7f0"/><path d="M153.6 228.8l1.4-1.8-.9-1.1-1.4 1.7z" fill="#f7e0df"/><path d="M155 227l1.3-2-.9-1.1-1.3 2z" fill="#f3d0cf"/><path d="M156.3 225l1.4-2.3-.9-1.1-1.4 2.3z" fill="#ebb1af"/><path d="M157.7 222.7l1.4-2.3-.9-1-1.4 2.2z" fill="#e3928f"/><path d="M159.1 220.4l1.4-1.7-.9-1-1.4 1.7z" fill="#db726f"/><path d="M160.5 218.7l1.4-1.3-.9-1-1.4 1.3z" fill="#d7635f"/><path d="M161.9 217.4l1.4-.9-.9-1-1.4.9zM163.3 216.5l1.4-.8-.9-.9-1.4.7z" fill="#d3534f"/><path d="M164.7 215.7l1.4-.7-.9-.9-1.4.7zM166.1 215l1.5-.6-1-1-1.4.7zM167.6 214.4l1.4-.6-1-1-1.4.6zM169 213.8l1.4-.6-.9-.9-1.5.5zM170.4 213.2l1.4-.5-.9-.9-1.4.5zM171.8 212.7l1.4-.4-.9-1-1.4.5zM173.2 212.3l1.5-.4-1-1-1.4.4zM174.7 211.9l1.4-.4-1-.9-1.4.3zM176.1 211.5l1.4-.3-1-.9-1.4.3zM177.5 211.2l1.4-.4-1-.9-1.4.4z" fill="#cf433f"/><path d="M143.3 233.7l1.4-.4-.8-.8-1.4.4zM144.7 233.3l1.4-.3-.8-.9-1.4.4zM146.1 233l1.4-.2-.8-.9-1.4.2zM153.1 231.1l1.4-1.3-.9-1-1.4 1.3z" fill="#ffffff"/><path d="M147.5 232.8l1.4 0-.8-1-1.4.1zM148.9 232.8l1.4-.2-.8-1-1.4.2zM150.3 232.6l1.4-.6-.9-1-1.3.6zM151.7 232l1.4-.9-.9-1-1.4.9z" fill="#f1f7f0"/><path d="M154.5 229.8l1.3-1.8-.8-1-1.4 1.8z" fill="#fbefef"/><path d="M155.8 228l1.4-2-.9-1-1.3 2z" fill="#f3d0cf"/><path d="M157.2 226l1.4-2.4-.9-.9-1.4 2.3z" fill="#ebb1af"/><path d="M158.6 223.6l1.4-2.2-.9-1-1.4 2.3z" fill="#e3928f"/><path d="M160 221.4l1.4-1.7-.9-1-1.4 1.7z" fill="#db726f"/><path d="M161.4 219.7l1.4-1.3-.9-1-1.4 1.3z" fill="#d7635f"/><path d="M162.8 218.4l1.4-.9-.9-1-1.4.9zM164.2 217.5l1.5-.8-1-1-1.4.8zM165.7 216.7l1.4-.7-1-1-1.4.7z" fill="#d3534f"/><path d="M167.1 216l1.4-.6-.9-1-1.5.6zM168.5 215.4l1.4-.7-.9-.9-1.4.6zM169.9 214.7l1.4-.5-.9-1-1.4.6zM171.3 214.2l1.5-.6-1-.9-1.4.5zM172.8 213.6l1.4-.4-1-.9-1.4.4zM174.2 213.2l1.4-.4-.9-.9-1.5.4zM175.6 212.8l1.4-.4-.9-.9-1.4.4zM177 212.4l1.4-.3-.9-.9-1.4.3zM178.4 212.1l1.5-.3-1-1-1.4.4z" fill="#cf433f"/><path d="M144.2 234.6l1.4-.4-.9-.9-1.4.4zM145.6 234.2l1.4-.4-.9-.8-1.4.3zM147 233.8l1.4-.1-.9-.9-1.4.2zM154 232l1.4-1.2-.9-1-1.4 1.3z" fill="#ffffff"/><path d="M148.4 233.7l1.4 0-.9-.9-1.4 0zM149.8 233.7l1.4-.1-.9-1-1.4.2zM151.2 233.6l1.4-.6-.9-1-1.4.6zM152.6 233l1.4-1-.9-.9-1.4.9z" fill="#f1f7f0"/><path d="M155.4 230.8l1.3-1.8-.9-1-1.3 1.8z" fill="#fbefef"/><path d="M156.7 229l1.4-2.1-.9-.9-1.4 2z" fill="#f3d0cf"/><path d="M158.1 226.9l1.4-2.3-.9-1-1.4 2.4z" fill="#ebb1af"/><path d="M159.5 224.6l1.4-2.2-.9-1-1.4 2.2z" fill="#e3928f"/><path d="M160.9 222.4l1.4-1.8-.9-.9-1.4 1.7z" fill="#df827f"/><path d="M162.3 220.6l1.4-1.2-.9-1-1.4 1.3zM163.7 219.4l1.4-.9-.9-1-1.4.9z" fill="#d7635f"/><path d="M165.1 218.5l1.5-.8-.9-1-1.5.8zM166.6 217.7l1.4-.7-.9-1-1.4.7zM168 217l1.4-.7-.9-.9-1.4.6z" fill="#d3534f"/><path d="M169.4 216.3l1.4-.6-.9-1-1.4.7zM170.8 215.7l1.5-.6-1-.9-1.4.5zM172.3 215.1l1.4-.5-.9-1-1.5.6zM173.7 214.6l1.4-.5-.9-.9-1.4.4zM175.1 214.1l1.5-.4-1-.9-1.4.4zM176.6 213.7l1.4-.3-1-1-1.4.4zM178 213.4l1.4-.4-1-.9-1.4.3zM179.4 213l1.4-.3-.9-.9-1.5.3z" fill="#cf433f"/><path d="M145 235.4l1.4-.4-.8-.8-1.4.4zM146.4 235l1.4-.4-.8-.8-1.4.4zM147.8 234.6l1.4-.1-.8-.8-1.4.1zM154.8 232.9l1.4-1.2-.8-.9-1.4 1.2z" fill="#ffffff"/><path d="M149.2 234.5l1.4.1-.8-.9-1.4 0zM150.6 234.6l1.4-.1-.8-.9-1.4.1zM152 234.5l1.4-.6-.8-.9-1.4.6zM153.4 233.9l1.4-1-.8-.9-1.4 1z" fill="#f1f7f0"/><path d="M156.2 231.7l1.4-1.9-.9-.8-1.3 1.8z" fill="#fbefef"/><path d="M157.6 229.8l1.4-2.1-.9-.8-1.4 2.1z" fill="#f3d0cf"/><path d="M159 227.7l1.4-2.2-.9-.9-1.4 2.3z" fill="#ebb1af"/><path d="M160.4 225.5l1.4-2.2-.9-.9-1.4 2.2z" fill="#e3928f"/><path d="M161.8 223.3l1.4-1.7-.9-1-1.4 1.8z" fill="#df827f"/><path d="M163.2 221.6l1.4-1.2-.9-1-1.4 1.2z" fill="#db726f"/><path d="M164.6 220.4l1.5-.9-1-1-1.4.9z" fill="#d7635f"/><path d="M166.1 219.5l1.4-.8-.9-1-1.5.8zM167.5 218.7l1.4-.7-.9-1-1.4.7zM168.9 218l1.5-.7-1-1-1.4.7zM170.4 217.3l1.4-.6-1-1-1.4.6z" fill="#d3534f"/><path d="M171.8 216.7l1.4-.6-.9-1-1.5.6zM173.2 216.1l1.4-.6-.9-.9-1.4.5zM174.6 215.5l1.5-.4-1-1-1.4.5zM176.1 215.1l1.4-.4-.9-1-1.5.4zM177.5 214.7l1.4-.4-.9-.9-1.4.3zM178.9 214.3l1.5-.3-1-1-1.4.4zM180.4 214l1.4-.4-1-.9-1.4.3z" fill="#cf433f"/><path d="M145.8 236.2l1.4-.4-.8-.8-1.4.4zM147.2 235.8l1.5-.3-.9-.9-1.4.4zM148.7 235.5l1.4-.2-.9-.8-1.4.1zM155.7 233.6l1.4-1.3-.9-.6-1.4 1.2z" fill="#ffffff"/><path d="M150.1 235.3l1.4 0-.9-.7-1.4-.1zM151.5 235.3l1.4-.1-.9-.7-1.4.1zM152.9 235.2l1.4-.6-.9-.7-1.4.6zM154.3 234.6l1.4-1-.9-.7-1.4 1z" fill="#f1f7f0"/><path d="M157.1 232.3l1.4-1.8-.9-.7-1.4 1.9z" fill="#fbefef"/><path d="M158.5 230.5l1.4-2-.9-.8-1.4 2.1z" fill="#f3d0cf"/><path d="M159.9 228.5l1.4-2.2-.9-.8-1.4 2.2z" fill="#ebb1af"/><path d="M161.3 226.3l1.4-2.1-.9-.9-1.4 2.2z" fill="#e7a19f"/><path d="M162.7 224.2l1.4-1.6-.9-1-1.4 1.7z" fill="#df827f"/><path d="M164.1 222.6l1.4-1.2-.9-1-1.4 1.2z" fill="#db726f"/><path d="M165.5 221.4l1.5-.9-.9-1-1.5.9zM167 220.5l1.4-.8-.9-1-1.4.8z" fill="#d7635f"/><path d="M168.4 219.7l1.4-.7-.9-1-1.4.7zM169.8 219l1.5-.7-.9-1-1.5.7zM171.3 218.3l1.4-.7-.9-.9-1.4.6zM172.7 217.6l1.5-.6-1-.9-1.4.6zM174.2 217l1.4-.5-1-1-1.4.6zM178.5 215.6l1.4-.3-1-1-1.4.4zM179.9 215.3l1.4-.4-.9-.9-1.5.3zM181.3 214.9l1.4-.3-.9-1-1.4.4z" fill="#d3534f"/><path d="M175.6 216.5l1.4-.4-.9-1-1.5.4zM177 216.1l1.5-.5-1-.9-1.4.4z" fill="#cf433f"/><path d="M146.7 237.1l1.4-.5-.9-.8-1.4.4zM148.1 236.6l1.4-.3-.8-.8-1.5.3zM149.5 236.3l1.4-.3-.8-.7-1.4.2zM156.6 234.1l1.4-1.6-.9-.2-1.4 1.3z" fill="#ffffff"/><path d="M150.9 236l1.4-.1-.8-.6-1.4 0zM152.3 235.9l1.5-.2-.9-.5-1.4.1zM153.8 235.7l1.4-.7-.9-.4-1.4.6zM155.2 235l1.4-.9-.9-.5-1.4 1z" fill="#f1f7f0"/><path d="M158 232.5l1.4-1.7-.9-.3-1.4 1.8z" fill="#fbefef"/><path d="M159.4 230.8l1.4-1.9-.9-.4-1.4 2z" fill="#f3d0cf"/><path d="M160.8 228.9l1.4-1.9-.9-.7-1.4 2.2z" fill="#ebb1af"/><path d="M162.2 227l1.4-1.9-.9-.9-1.4 2.1z" fill="#e7a19f"/><path d="M163.6 225.1l1.4-1.5-.9-1-1.4 1.6z" fill="#df827f"/><path d="M165 223.6l1.5-1.2-1-1-1.4 1.2zM166.5 222.4l1.4-.9-.9-1-1.5.9z" fill="#db726f"/><path d="M167.9 221.5l1.4-.8-.9-1-1.4.8zM169.3 220.7l1.5-.7-1-1-1.4.7z" fill="#d7635f"/><path d="M170.8 220l1.4-.7-.9-1-1.5.7zM172.2 219.3l1.4-.7-.9-1-1.4.7zM173.6 218.6l1.5-.6-.9-1-1.5.6zM175.1 218l1.4-.5-.9-1-1.4.5zM176.5 217.5l1.5-.5-1-.9-1.4.4zM178 217l1.4-.4-.9-1-1.5.5zM179.4 216.6l1.4-.3-.9-1-1.4.3zM180.8 216.3l1.5-.4-1-1-1.4.4zM182.3 215.9l1.4-.4-1-.9-1.4.3z" fill="#d3534f"/><path d="M147.5 237.9l1.4-.4-.8-.9-1.4.5zM148.9 237.5l1.4-.4-.8-.8-1.4.3zM150.3 237.1l1.5-.4-.9-.7-1.4.3zM151.8 236.7l1.4-.3-.9-.5-1.4.1zM156 235.3l1.4-1.3-.8.1-1.4.9z" fill="#ffffff"/><path d="M153.2 236.4l1.4-.4-.8-.3-1.5.2zM154.6 236l1.4-.7-.8-.3-1.4.7z" fill="#f1f7f0"/><path d="M157.4 234l1.4-1.6-.8.1-1.4 1.6z" fill="#fbefef"/><path d="M158.8 232.4l1.4-1.6-.8 0-1.4 1.7z" fill="#f7e0df"/><path d="M160.2 230.8l1.5-1.7-.9-.2-1.4 1.9z" fill="#efc0bf"/><path d="M161.7 229.1l1.4-1.6-.9-.5-1.4 1.9z" fill="#ebb1af"/><path d="M163.1 227.5l1.4-1.6-.9-.8-1.4 1.9z" fill="#e7a19f"/><path d="M164.5 225.9l1.4-1.4-.9-.9-1.4 1.5z" fill="#df827f"/><path d="M165.9 224.5l1.5-1-.9-1.1-1.5 1.2zM167.4 223.5l1.4-.9-.9-1.1-1.4.9z" fill="#db726f"/><path d="M168.8 222.6l1.4-.8-.9-1.1-1.4.8zM170.2 221.8l1.5-.8-.9-1-1.5.7zM171.7 221l1.4-.7-.9-1-1.4.7z" fill="#d7635f"/><path d="M173.1 220.3l1.5-.7-1-1-1.4.7zM174.6 219.6l1.4-.6-.9-1-1.5.6zM176 219l1.5-.5-1-1-1.4.5zM177.5 218.5l1.4-.5-.9-1-1.5.5zM178.9 218l1.4-.4-.9-1-1.4.4zM180.3 217.6l1.5-.4-1-.9-1.4.3zM181.8 217.2l1.4-.3-.9-1-1.5.4zM183.2 216.9l1.5-.4-1-1-1.4.4z" fill="#d3534f"/><path d="M148.3 238.7l1.5-.4-.9-.8-1.4.4zM149.8 238.3l1.4-.5-.9-.7-1.4.4zM151.2 237.8l1.4-.4-.8-.7-1.5.4zM152.6 237.4l1.4-.5-.8-.5-1.4.3zM154 236.9l1.4-.7-.8-.2-1.4.4zM155.4 236.2l1.5-1.1-.9.2-1.4.7z" fill="#ffffff"/><path d="M156.9 235.1l1.4-1.5-.9.4-1.4 1.3z" fill="#fbefef"/><path d="M158.3 233.6l1.4-1.5-.9.3-1.4 1.6z" fill="#f7e0df"/><path d="M159.7 232.1l1.4-1.5-.9.2-1.4 1.6z" fill="#f3d0cf"/><path d="M161.1 230.6l1.4-1.4-.8-.1-1.5 1.7z" fill="#efc0bf"/><path d="M162.5 229.2l1.5-1.3-.9-.4-1.4 1.6z" fill="#e7a19f"/><path d="M164 227.9l1.4-1.3-.9-.7-1.4 1.6z" fill="#e3928f"/><path d="M165.4 226.6l1.4-1.1-.9-1-1.4 1.4zM166.8 225.5l1.5-1-.9-1-1.5 1z" fill="#df827f"/><path d="M168.3 224.5l1.4-.9-.9-1-1.4.9zM169.7 223.6l1.5-.8-1-1-1.4.8z" fill="#db726f"/><path d="M171.2 222.8l1.4-.8-.9-1-1.5.8zM172.6 222l1.5-.7-1-1-1.4.7zM174.1 221.3l1.4-.7-.9-1-1.5.7z" fill="#d7635f"/><path d="M175.5 220.6l1.5-.6-1-1-1.4.6zM177 220l1.4-.5-.9-1-1.5.5zM178.4 219.5l1.5-.5-1-1-1.4.5zM179.9 219l1.4-.4-1-1-1.4.4zM181.3 218.6l1.4-.4-.9-1-1.5.4zM182.7 218.2l1.5-.4-1-.9-1.4.3zM184.2 217.8l1.4-.3-.9-1-1.5.4z" fill="#d3534f"/><path d="M149.2 239.6l1.4-.5-.8-.8-1.5.4zM150.6 239.1l1.4-.5-.8-.8-1.4.5zM152 238.6l1.5-.7-.9-.5-1.4.4zM153.5 237.9l1.4-.8-.9-.2-1.4.5z" fill="#ffffff"/><path d="M154.9 237.1l1.4-1-.9.1-1.4.7zM156.3 236.1l1.4-1.3-.8.3-1.5 1.1z" fill="#fbefef"/><path d="M157.7 234.8l1.4-1.5-.8.3-1.4 1.5z" fill="#f7e0df"/><path d="M159.1 233.3l1.5-1.5-.9.3-1.4 1.5z" fill="#f3d0cf"/><path d="M160.6 231.8l1.4-1.3-.9.1-1.4 1.5z" fill="#efc0bf"/><path d="M162 230.5l1.4-1.2-.9-.1-1.4 1.4z" fill="#ebb1af"/><path d="M163.4 229.3l1.5-1-.9-.4-1.5 1.3z" fill="#e7a19f"/><path d="M164.9 228.3l1.4-1-.9-.7-1.4 1.3z" fill="#e3928f"/><path d="M166.3 227.3l1.4-1-.9-.8-1.4 1.1zM167.7 226.3l1.5-.9-.9-.9-1.5 1z" fill="#df827f"/><path d="M169.2 225.4l1.4-.8-.9-1-1.4.9zM170.6 224.6l1.5-.9-.9-.9-1.5.8zM172.1 223.7l1.4-.7-.9-1-1.4.8z" fill="#db726f"/><path d="M173.5 223l1.5-.7-.9-1-1.5.7zM175 222.3l1.4-.7-.9-1-1.4.7zM176.4 221.6l1.5-.6-.9-1-1.5.6zM177.9 221l1.4-.6-.9-.9-1.4.5zM182.2 219.5l1.5-.4-1-.9-1.4.4zM183.7 219.1l1.4-.3-.9-1-1.5.4zM185.1 218.8l1.5-.4-1-.9-1.4.3z" fill="#d7635f"/><path d="M179.3 220.4l1.5-.5-.9-.9-1.5.5zM180.8 219.9l1.4-.4-.9-.9-1.4.4z" fill="#d3534f"/><path d="M150 240.4l1.4-.5-.8-.8-1.4.5zM151.4 239.9l1.5-.6-.9-.7-1.4.5zM152.9 239.3l1.4-.9-.8-.5-1.5.7z" fill="#ffffff"/><path d="M154.3 238.4l1.4-1.1-.8-.2-1.4.8zM155.7 237.3l1.4-1.4-.8.2-1.4 1z" fill="#fbefef"/><path d="M157.1 235.9l1.5-1.4-.9.3-1.4 1.3z" fill="#f7e0df"/><path d="M158.6 234.5l1.4-1.4-.9.2-1.4 1.5z" fill="#f3d0cf"/><path d="M160 233.1l1.4-1.4-.8.1-1.5 1.5z" fill="#efc0bf"/><path d="M161.4 231.7l1.5-1.2-.9 0-1.4 1.3z" fill="#ebb1af"/><path d="M162.9 230.5l1.4-1-.9-.2-1.4 1.2z" fill="#e7a19f"/><path d="M164.3 229.5l1.5-.8-.9-.4-1.5 1zM165.8 228.7l1.4-.8-.9-.6-1.4 1z" fill="#e3928f"/><path d="M167.2 227.9l1.4-.8-.9-.8-1.4 1zM168.6 227.1l1.5-.8-.9-.9-1.5.9zM170.1 226.3l1.4-.8-.9-.9-1.4.8z" fill="#df827f"/><path d="M171.5 225.5l1.5-.8-.9-1-1.5.9zM173 224.7l1.5-.8-1-.9-1.4.7z" fill="#db726f"/><path d="M174.5 223.9l1.4-.7-.9-.9-1.5.7zM175.9 223.2l1.5-.7-1-.9-1.4.7zM177.4 222.5l1.4-.6-.9-.9-1.5.6zM178.8 221.9l1.5-.6-1-.9-1.4.6zM180.3 221.3l1.4-.4-.9-1-1.5.5zM181.7 220.9l1.5-.5-1-.9-1.4.4zM183.2 220.4l1.4-.3-.9-1-1.5.4zM184.6 220.1l1.5-.4-1-.9-1.4.3zM186.1 219.7l1.4-.3-.9-1-1.5.4z" fill="#d7635f"/><path d="M150.8 241.2l1.5-.4-.9-.9-1.4.5zM152.3 240.8l1.4-.7-.8-.8-1.5.6z" fill="#ffffff"/><path d="M153.7 240.1l1.4-1.1-.8-.6-1.4.9zM155.1 239l1.5-1.5-.9-.2-1.4 1.1z" fill="#fbefef"/><path d="M156.6 237.5l1.4-1.7-.9.1-1.4 1.4z" fill="#f7e0df"/><path d="M158 235.8l1.4-1.6-.8.3-1.5 1.4z" fill="#f3d0cf"/><path d="M159.4 234.2l1.5-1.3-.9.2-1.4 1.4z" fill="#efc0bf"/><path d="M160.9 232.9l1.4-1.3-.9.1-1.4 1.4z" fill="#ebb1af"/><path d="M162.3 231.6l1.4-1-.8-.1-1.5 1.2z" fill="#e7a19f"/><path d="M163.7 230.6l1.5-.9-.9-.2-1.4 1zM165.2 229.7l1.4-.6-.8-.4-1.5.8zM166.6 229.1l1.5-.7-.9-.5-1.4.8z" fill="#e3928f"/><path d="M168.1 228.4l1.5-.7-1-.6-1.4.8zM169.6 227.7l1.4-.7-.9-.7-1.5.8zM171 227l1.5-.7-1-.8-1.4.8z" fill="#df827f"/><path d="M172.5 226.3l1.4-.8-.9-.8-1.5.8zM173.9 225.5l1.5-.7-.9-.9-1.5.8zM175.4 224.8l1.4-.7-.9-.9-1.4.7z" fill="#db726f"/><path d="M176.8 224.1l1.5-.6-.9-1-1.5.7zM178.3 223.5l1.5-.7-1-.9-1.4.6zM179.8 222.8l1.4-.5-.9-1-1.5.6zM181.2 222.3l1.5-.5-1-.9-1.4.4zM182.7 221.8l1.4-.4-.9-1-1.5.5zM184.1 221.4l1.5-.4-1-.9-1.4.3zM185.6 221l1.5-.4-1-.9-1.5.4zM187.1 220.6l1.4-.3-1-.9-1.4.3z" fill="#d7635f"/><path d="M151.7 242.1l1.4-.5-.8-.8-1.5.4zM153.1 241.6l1.5-.8-.9-.7-1.4.7z" fill="#ffffff"/><path d="M154.6 240.8l1.4-1.3-.9-.5-1.4 1.1z" fill="#fbefef"/><path d="M156 239.5l1.4-1.8-.8-.2-1.5 1.5z" fill="#f7e0df"/><path d="M157.4 237.7l1.4-1.9-.8 0-1.4 1.7z" fill="#f3d0cf"/><path d="M158.8 235.8l1.5-1.6-.9 0-1.4 1.6z" fill="#efc0bf"/><path d="M160.3 234.2l1.4-1.3-.8 0-1.5 1.3z" fill="#ebb1af"/><path d="M161.7 232.9l1.5-1.2-.9-.1-1.4 1.3z" fill="#e7a19f"/><path d="M163.2 231.7l1.4-.9-.9-.2-1.4 1zM164.6 230.8l1.5-.7-.9-.4-1.5.9z" fill="#e3928f"/><path d="M166.1 230.1l1.4-.6-.9-.4-1.4.6zM167.5 229.5l1.5-.5-.9-.6-1.5.7zM169 229l1.5-.6-.9-.7-1.5.7zM170.5 228.4l1.4-.6-.9-.8-1.4.7zM171.9 227.8l1.5-.7-.9-.8-1.5.7z" fill="#df827f"/><path d="M173.4 227.1l1.4-.7-.9-.9-1.4.8zM174.8 226.4l1.5-.7-.9-.9-1.5.7zM176.3 225.7l1.5-.6-1-1-1.4.7zM177.8 225.1l1.4-.7-.9-.9-1.5.6z" fill="#db726f"/><path d="M179.2 224.4l1.5-.7-.9-.9-1.5.7zM180.7 223.7l1.5-.5-1-.9-1.4.5zM182.2 223.2l1.4-.5-.9-.9-1.5.5zM183.6 222.7l1.5-.4-1-.9-1.4.4zM185.1 222.3l1.4-.4-.9-.9-1.5.4zM186.5 221.9l1.5-.3-.9-1-1.5.4zM188 221.6l1.5-.4-1-.9-1.4.3z" fill="#d7635f"/><path d="M152.5 242.9l1.5-.5-.9-.8-1.4.5zM154 242.4l1.4-.8-.8-.8-1.5.8z" fill="#ffffff"/><path d="M155.4 241.6l1.4-1.4-.8-.7-1.4 1.3z" fill="#fbefef"/><path d="M156.8 240.2l1.5-2-.9-.5-1.4 1.8z" fill="#f7e0df"/><path d="M158.3 238.2l1.4-2.1-.9-.3-1.4 1.9z" fill="#efc0bf"/><path d="M159.7 236.1l1.4-1.7-.8-.2-1.5 1.6z" fill="#ebb1af"/><path d="M161.1 234.4l1.5-1.2-.9-.3-1.4 1.3z" fill="#e7a19f"/><path d="M162.6 233.2l1.4-1.1-.8-.4-1.5 1.2zM164 232.1l1.5-.8-.9-.5-1.4.9z" fill="#e3928f"/><path d="M165.5 231.3l1.5-.6-.9-.6-1.5.7zM167 230.7l1.4-.6-.9-.6-1.4.6zM168.4 230.1l1.5-.5-.9-.6-1.5.5zM169.9 229.6l1.5-.5-.9-.7-1.5.6zM171.4 229.1l1.4-.6-.9-.7-1.4.6zM172.8 228.5l1.5-.6-.9-.8-1.5.7z" fill="#df827f"/><path d="M174.3 227.9l1.5-.6-1-.9-1.4.7zM175.8 227.3l1.4-.7-.9-.9-1.5.7zM177.2 226.6l1.5-.6-.9-.9-1.5.6zM178.7 226l1.5-.7-1-.9-1.4.7zM180.2 225.3l1.4-.6-.9-1-1.5.7zM189 222.5l1.4-.4-.9-.9-1.5.4z" fill="#db726f"/><path d="M181.6 224.7l1.5-.6-.9-.9-1.5.5zM183.1 224.1l1.5-.5-1-.9-1.4.5zM184.6 223.6l1.4-.4-.9-.9-1.5.4zM186 223.2l1.5-.4-1-.9-1.4.4zM187.5 222.8l1.5-.3-1-.9-1.5.3z" fill="#d7635f"/><path d="M153.4 243.7l1.4-.5-.8-.8-1.5.5zM154.8 243.2l1.5-.8-.9-.8-1.4.8z" fill="#ffffff"/><path d="M156.3 242.4l1.4-1.5-.9-.7-1.4 1.4z" fill="#fbefef"/><path d="M157.7 240.9l1.4-2.1-.8-.6-1.5 2z" fill="#f7e0df"/><path d="M159.1 238.8l1.5-2.1-.9-.6-1.4 2.1z" fill="#efc0bf"/><path d="M160.6 236.7l1.4-1.8-.9-.5-1.4 1.7z" fill="#ebb1af"/><path d="M162 234.9l1.5-1.1-.9-.6-1.5 1.2z" fill="#e7a19f"/><path d="M163.5 233.8l1.4-1-.9-.7-1.4 1.1z" fill="#e3928f"/><path d="M164.9 232.8l1.5-.8-.9-.7-1.5.8zM166.4 232l1.5-.6-.9-.7-1.5.6zM167.9 231.4l1.4-.5-.9-.8-1.4.6zM169.3 230.9l1.5-.5-.9-.8-1.5.5zM170.8 230.4l1.5-.5-.9-.8-1.5.5zM172.3 229.9l1.4-.6-.9-.8-1.4.6zM173.7 229.3l1.5-.5-.9-.9-1.5.6zM175.2 228.8l1.5-.6-.9-.9-1.5.6z" fill="#df827f"/><path d="M176.7 228.2l1.4-.6-.9-1-1.4.7zM178.1 227.6l1.5-.7-.9-.9-1.5.6zM179.6 226.9l1.5-.6-.9-1-1.5.7zM181.1 226.3l1.5-.7-1-.9-1.4.6zM182.6 225.6l1.4-.6-.9-.9-1.5.6zM187 224.1l1.4-.3-.9-1-1.5.4zM188.4 223.8l1.5-.4-.9-.9-1.5.3zM189.9 223.4l1.5-.3-1-1-1.4.4z" fill="#db726f"/><path d="M184 225l1.5-.5-.9-.9-1.5.5zM185.5 224.5l1.5-.4-1-.9-1.4.4z" fill="#d7635f"/><path d="M154.2 244.6l1.4-.5-.8-.9-1.4.5zM155.6 244.1l1.5-.9-.8-.8-1.5.8z" fill="#ffffff"/><path d="M157.1 243.2l1.4-1.5-.8-.8-1.4 1.5z" fill="#fbefef"/><path d="M158.5 241.7l1.5-2.1-.9-.8-1.4 2.1z" fill="#f7e0df"/><path d="M160 239.6l1.4-2.2-.8-.7-1.5 2.1z" fill="#efc0bf"/><path d="M161.4 237.4l1.5-1.7-.9-.8-1.4 1.8z" fill="#e7a19f"/><path d="M162.9 235.7l1.4-1.1-.8-.8-1.5 1.1zM164.3 234.6l1.5-1-.9-.8-1.4 1z" fill="#e3928f"/><path d="M165.8 233.6l1.5-.7-.9-.9-1.5.8zM167.3 232.9l1.5-.6-.9-.9-1.5.6zM168.8 232.3l1.4-.6-.9-.8-1.4.5zM170.2 231.7l1.5-.5-.9-.8-1.5.5zM171.7 231.2l1.5-.5-.9-.8-1.5.5zM173.2 230.7l1.4-.5-.9-.9-1.4.6zM174.6 230.2l1.5-.5-.9-.9-1.5.5zM176.1 229.7l1.5-.6-.9-.9-1.5.6zM177.6 229.1l1.5-.6-1-.9-1.4.6z" fill="#df827f"/><path d="M179.1 228.5l1.4-.6-.9-1-1.5.7zM180.5 227.9l1.5-.7-.9-.9-1.5.6zM182 227.2l1.5-.6-.9-1-1.5.7zM183.5 226.6l1.5-.6-1-1-1.4.6zM185 226l1.5-.5-1-1-1.5.5zM186.5 225.5l1.4-.4-.9-1-1.5.4zM187.9 225.1l1.5-.4-1-.9-1.4.3zM189.4 224.7l1.5-.3-1-1-1.5.4zM190.9 224.4l1.4-.4-.9-.9-1.5.3z" fill="#db726f"/><path d="M155 245.4l1.5-.5-.9-.8-1.4.5zM156.5 244.9l1.4-.9-.8-.8-1.5.9z" fill="#ffffff"/><path d="M157.9 244l1.5-1.5-.9-.8-1.4 1.5z" fill="#fbefef"/><path d="M159.4 242.5l1.4-2.1-.8-.8-1.5 2.1z" fill="#f7e0df"/><path d="M160.8 240.4l1.5-2.2-.9-.8-1.4 2.2z" fill="#efc0bf"/><path d="M162.3 238.2l1.5-1.6-.9-.9-1.5 1.7z" fill="#e7a19f"/><path d="M163.8 236.6l1.4-1.1-.9-.9-1.4 1.1zM165.2 235.5l1.5-1-.9-.9-1.5 1zM166.7 234.5l1.5-.7-.9-.9-1.5.7z" fill="#e3928f"/><path d="M168.2 233.8l1.4-.6-.8-.9-1.5.6zM169.6 233.2l1.5-.5-.9-1-1.4.6zM171.1 232.7l1.5-.5-.9-1-1.5.5zM172.6 232.2l1.5-.5-.9-1-1.5.5zM174.1 231.7l1.5-.5-1-1-1.4.5zM175.6 231.2l1.4-.6-.9-.9-1.5.5zM177 230.6l1.5-.5-.9-1-1.5.6zM178.5 230.1l1.5-.6-.9-1-1.5.6zM180 229.5l1.5-.6-1-1-1.4.6z" fill="#df827f"/><path d="M181.5 228.9l1.4-.7-.9-1-1.5.7zM182.9 228.2l1.5-.6-.9-1-1.5.6zM184.4 227.6l1.5-.6-.9-1-1.5.6zM185.9 227l1.5-.5-.9-1-1.5.5zM187.4 226.5l1.5-.4-1-1-1.4.4zM188.9 226.1l1.4-.4-.9-1-1.5.4zM190.3 225.7l1.5-.3-.9-1-1.5.3zM191.8 225.4l1.5-.4-1-1-1.4.4z" fill="#db726f"/><path d="M155.9 246.2l1.4-.5-.8-.8-1.5.5zM157.3 245.7l1.5-.8-.9-.9-1.4.9z" fill="#ffffff"/><path d="M158.8 244.9l1.4-1.4-.8-1-1.5 1.5z" fill="#fbefef"/><path d="M160.2 243.5l1.5-1.9-.9-1.2-1.4 2.1z" fill="#f7e0df"/><path d="M161.7 241.6l1.5-2-.9-1.4-1.5 2.2z" fill="#efc0bf"/><path d="M163.2 239.6l1.4-1.5-.8-1.5-1.5 1.6z" fill="#ebb1af"/><path d="M164.6 238.1l1.5-1-.9-1.6-1.4 1.1z" fill="#e7a19f"/><path d="M166.1 237.1l1.5-.9-.9-1.7-1.5 1zM167.6 236.2l1.5-.7-.9-1.7-1.5.7zM169.1 235.5l1.4-.6-.9-1.7-1.4.6zM170.5 234.9l1.5-.5-.9-1.7-1.5.5zM172 234.4l1.5-.5-.9-1.7-1.5.5zM173.5 233.9l1.5-.5-.9-1.7-1.5.5zM175 233.4l1.5-.5-.9-1.7-1.5.5zM176.5 232.9l1.4-.5-.9-1.8-1.4.6z" fill="#e3928f"/><path d="M177.9 232.4l1.5-.6-.9-1.7-1.5.5zM179.4 231.8l1.5-.5-.9-1.8-1.5.6zM180.9 231.3l1.5-.6-.9-1.8-1.5.6zM182.4 230.7l1.5-.6-1-1.9-1.4.7zM183.9 230.1l1.4-.6-.9-1.9-1.5.6zM185.3 229.5l1.5-.6-.9-1.9-1.5.6zM186.8 228.9l1.5-.4-.9-2-1.5.5zM188.3 228.5l1.5-.5-.9-1.9-1.5.4zM189.8 228l1.5-.4-1-1.9-1.4.4zM191.3 227.6l1.4-.3-.9-1.9-1.5.3zM192.7 227.3l1.5-.4-.9-1.9-1.5.4z" fill="#df827f"/><path d="M156.7 247.1l1.5-.5-.9-.9-1.4.5zM158.2 246.6l1.4-.8-.8-.9-1.5.8z" fill="#ffffff"/><path d="M159.6 245.8l1.5-1.1-.9-1.2-1.4 1.4z" fill="#fbefef"/><path d="M161.1 244.7l1.5-1.6-.9-1.5-1.5 1.9z" fill="#f7e0df"/><path d="M162.6 243.1l1.4-1.5-.8-2-1.5 2z" fill="#f3d0cf"/><path d="M164 241.6l1.5-1.3-.9-2.2-1.4 1.5z" fill="#efc0bf"/><path d="M165.5 240.3l1.5-.8-.9-2.4-1.5 1zM167 239.5l1.5-.8-.9-2.5-1.5.9z" fill="#ebb1af"/><path d="M168.5 238.7l1.4-.6-.8-2.6-1.5.7zM169.9 238.1l1.5-.6-.9-2.6-1.4.6zM171.4 237.5l1.5-.5-.9-2.6-1.5.5zM172.9 237l1.5-.5-.9-2.6-1.5.5zM174.4 236.5l1.5-.5-.9-2.6-1.5.5zM175.9 236l1.4-.5-.8-2.6-1.5.5zM177.3 235.5l1.5-.5-.9-2.6-1.4.5zM178.8 235l1.5-.5-.9-2.7-1.5.6zM180.3 234.5l1.5-.6-.9-2.6-1.5.5zM181.8 233.9l1.5-.5-.9-2.7-1.5.6zM183.3 233.4l1.4-.6-.8-2.7-1.5.6zM193.6 230l1.5-.4-.9-2.7-1.5.4z" fill="#e7a19f"/><path d="M184.7 232.8l1.5-.5-.9-2.8-1.4.6zM186.2 232.3l1.5-.5-.9-2.9-1.5.6zM187.7 231.8l1.5-.5-.9-2.8-1.5.4zM189.2 231.3l1.5-.4-.9-2.9-1.5.5zM190.7 230.9l1.5-.5-.9-2.8-1.5.4zM192.2 230.4l1.4-.4-.9-2.7-1.4.3z" fill="#e3928f"/><path d="M157.5 247.9l1.5-.5-.8-.8-1.5.5zM159 247.4l1.5-.6-.9-1-1.4.8zM160.5 246.8l1.5-.8-.9-1.3-1.5 1.1z" fill="#ffffff"/><path d="M162 246l1.4-1.1-.8-1.8-1.5 1.6z" fill="#fbefef"/><path d="M163.4 244.9l1.5-1.1-.9-2.2-1.4 1.5z" fill="#f7e0df"/><path d="M164.9 243.8l1.5-.9-.9-2.6-1.5 1.3zM166.4 242.9l1.5-.7-.9-2.7-1.5.8zM167.9 242.2l1.4-.6-.8-2.9-1.5.8z" fill="#f3d0cf"/><path d="M169.3 241.6l1.5-.6-.9-2.9-1.4.6zM170.8 241l1.5-.5-.9-3-1.5.6zM172.3 240.5l1.5-.5-.9-3-1.5.5zM173.8 240l1.5-.4-.9-3.1-1.5.5zM175.3 239.6l1.4-.5-.8-3.1-1.5.5zM176.7 239.1l1.5-.5-.9-3.1-1.4.5zM178.2 238.6l1.5-.5-.9-3.1-1.5.5zM179.7 238.1l1.5-.5-.9-3.1-1.5.5zM181.2 237.6l1.5-.5-.9-3.2-1.5.6zM182.7 237.1l1.4-.5-.8-3.2-1.5.5zM184.1 236.6l1.5-.5-.9-3.3-1.4.6zM185.6 236.1l1.5-.6-.9-3.2-1.5.5zM187.1 235.5l1.5-.4-.9-3.3-1.5.5zM188.6 235.1l1.5-.5-.9-3.3-1.5.5zM190.1 234.6l1.4-.5-.8-3.2-1.5.4zM191.5 234.1l1.5-.4-.8-3.3-1.5.5zM193 233.7l1.5-.5-.9-3.2-1.4.4zM194.5 233.2l1.5-.4-.9-3.2-1.5.4z" fill="#efc0bf"/><path d="M158.4 248.7l1.5-.4-.9-.9-1.5.5zM159.9 248.3l1.4-.6-.8-.9-1.5.6zM161.3 247.7l1.5-.6-.8-1.1-1.5.8z" fill="#ffffff"/><path d="M162.8 247.1l1.5-.6-.9-1.6-1.4 1.1zM164.3 246.5l1.5-.7-.9-2-1.5 1.1zM165.8 245.8l1.4-.6-.8-2.3-1.5.9z" fill="#fbefef"/><path d="M167.2 245.2l1.5-.6-.8-2.4-1.5.7zM168.7 244.6l1.5-.5-.9-2.5-1.4.6zM170.2 244.1l1.5-.5-.9-2.6-1.5.6zM171.7 243.6l1.5-.5-.9-2.6-1.5.5zM173.2 243.1l1.5-.4-.9-2.7-1.5.5zM174.7 242.7l1.4-.5-.8-2.6-1.5.4zM176.1 242.2l1.5-.5-.9-2.6-1.4.5zM177.6 241.7l1.5-.5-.9-2.6-1.5.5zM179.1 241.2l1.5-.5-.9-2.6-1.5.5zM180.6 240.7l1.5-.4-.9-2.7-1.5.5zM182.1 240.3l1.4-.5-.8-2.7-1.5.5zM183.5 239.8l1.5-.5-.9-2.7-1.4.5zM185 239.3l1.5-.5-.9-2.7-1.5.5zM186.5 238.8l1.5-.5-.9-2.8-1.5.6zM188 238.3l1.5-.5-.9-2.7-1.5.4zM189.5 237.8l1.4-.4-.8-2.8-1.5.5zM190.9 237.4l1.5-.5-.9-2.8-1.4.5zM192.4 236.9l1.5-.5-.9-2.7-1.5.4zM193.9 236.4l1.5-.4-.9-2.8-1.5.5zM195.4 236l1.5-.5-.9-2.7-1.5.4z" fill="#f7e0df"/><path d="M159.2 249.6l1.5-.5-.8-.8-1.5.4zM160.7 249.1l1.5-.5-.9-.9-1.4.6zM162.2 248.6l1.5-.5-.9-1-1.5.6zM163.7 248.1l1.4-.5-.8-1.1-1.5.6zM165.1 247.6l1.5-.5-.8-1.3-1.5.7zM166.6 247.1l1.5-.5-.9-1.4-1.4.6zM168.1 246.6l1.5-.5-.9-1.5-1.5.6zM169.6 246.1l1.5-.4-.9-1.6-1.5.5zM171.1 245.7l1.5-.5-.9-1.6-1.5.5zM172.6 245.2l1.5-.5-.9-1.6-1.5.5zM174.1 244.7l1.4-.5-.8-1.5-1.5.4zM175.5 244.2l1.5-.4-.9-1.6-1.4.5zM177 243.8l1.5-.5-.9-1.6-1.5.5zM178.5 243.3l1.5-.5-.9-1.6-1.5.5z" fill="#ffffff"/><path d="M180 242.8l1.5-.5-.9-1.6-1.5.5zM181.5 242.3l1.5-.4-.9-1.6-1.5.4zM183 241.9l1.4-.5-.9-1.6-1.4.5zM184.4 241.4l1.5-.5-.9-1.6-1.5.5zM185.9 240.9l1.5-.5-.9-1.6-1.5.5zM187.4 240.4l1.5-.5-.9-1.6-1.5.5zM188.9 239.9l1.5-.4-.9-1.7-1.5.5zM190.4 239.5l1.5-.5-1-1.6-1.4.4zM191.9 239l1.4-.5-.9-1.6-1.5.5zM193.3 238.5l1.5-.5-.9-1.6-1.5.5zM194.8 238l1.5-.4-.9-1.6-1.5.4zM196.3 237.6l1.5-.5-.9-1.6-1.5.5z" fill="#fbefef"/><path d="M160 250.4l1.5-.5-.8-.8-1.5.5zM161.5 249.9l1.5-.5-.8-.8-1.5.5zM163 249.4l1.5-.4-.8-.9-1.5.5zM164.5 249l1.5-.5-.9-.9-1.4.5zM166 248.5l1.5-.5-.9-.9-1.5.5zM167.5 248l1.5-.5-.9-.9-1.5.5zM169 247.5l1.5-.4-.9-1-1.5.5zM170.5 247.1l1.5-.5-.9-.9-1.5.4zM172 246.6l1.4-.5-.8-.9-1.5.5zM173.4 246.1l1.5-.5-.8-.9-1.5.5zM174.9 245.6l1.5-.4-.9-1-1.4.5zM176.4 245.2l1.5-.5-.9-.9-1.5.4zM177.9 244.7l1.5-.5-.9-.9-1.5.5zM179.4 244.2l1.5-.5-.9-.9-1.5.5zM180.9 243.7l1.5-.5-.9-.9-1.5.5zM182.4 243.2l1.5-.4-.9-.9-1.5.4zM183.9 242.8l1.5-.5-1-.9-1.4.5zM185.4 242.3l1.4-.5-.9-.9-1.5.5zM186.8 241.8l1.5-.5-.9-.9-1.5.5zM188.3 241.3l1.5-.4-.9-1-1.5.5zM189.8 240.9l1.5-.5-.9-.9-1.5.4zM191.3 240.4l1.5-.5-.9-.9-1.5.5zM192.8 239.9l1.5-.5-1-.9-1.4.5zM194.3 239.4l1.5-.4-1-1-1.5.5zM195.8 239l1.5-.5-1-.9-1.5.4zM197.3 238.5l1.5-.5-1-.9-1.5.5z" fill="#ffffff"/></g>
<text x="168.0" y="184.1" font-size="6.2" text-anchor="middle" textLength="46.2" lengthAdjust="spacingAndGlyphs">ZIP synergy score: 13.021</text>
<defs><linearGradient id="cbg1" x1="0" x2="1" y1="0" y2="0"><stop offset="0" stop-color="#3e9130"/><stop offset="0.5" stop-color="#fff"/><stop offset="1" stop-color="#c7241f"/></linearGradient></defs>
<rect x="128.5" y="193.2" width="80.4" height="1.6" fill="url(#cbg1)"/>
<text x="128.5" y="191.6" font-size="3.4" text-anchor="middle" fill="#333">-30</text>
<text x="141.9" y="191.6" font-size="3.4" text-anchor="middle" fill="#333">-20</text>
<text x="155.3" y="191.6" font-size="3.4" text-anchor="middle" fill="#333">-10</text>
<text x="168.7" y="191.6" font-size="3.4" text-anchor="middle" fill="#333">0</text>
<text x="182.1" y="191.6" font-size="3.4" text-anchor="middle" fill="#333">10</text>
<text x="195.5" y="191.6" font-size="3.4" text-anchor="middle" fill="#333">20</text>
<text x="208.9" y="191.6" font-size="3.4" text-anchor="middle" fill="#333">30</text>
<text x="136.5" y="212.7" font-size="3.5" text-anchor="end" fill="#333">30</text>
<line x1="136.60" y1="211.50" x2="137.50" y2="211.50" stroke="#555" stroke-width="0.3"/>
<text x="136.8" y="218.4" font-size="3.5" text-anchor="end" fill="#333">20</text>
<line x1="136.87" y1="217.25" x2="137.77" y2="217.25" stroke="#555" stroke-width="0.3"/>
<text x="137.0" y="224.2" font-size="3.5" text-anchor="end" fill="#333">10</text>
<line x1="137.13" y1="223.00" x2="138.03" y2="223.00" stroke="#555" stroke-width="0.3"/>
<text x="137.3" y="229.9" font-size="3.5" text-anchor="end" fill="#333">0</text>
<line x1="137.40" y1="228.75" x2="138.30" y2="228.75" stroke="#555" stroke-width="0.3"/>
<text x="137.6" y="235.7" font-size="3.5" text-anchor="end" fill="#333">-10</text>
<line x1="137.67" y1="234.50" x2="138.57" y2="234.50" stroke="#555" stroke-width="0.3"/>
<text x="137.8" y="241.4" font-size="3.5" text-anchor="end" fill="#333">-20</text>
<line x1="137.93" y1="240.25" x2="138.83" y2="240.25" stroke="#555" stroke-width="0.3"/>
<text x="138.1" y="247.2" font-size="3.5" text-anchor="end" fill="#333">-30</text>
<line x1="138.20" y1="246.00" x2="139.10" y2="246.00" stroke="#555" stroke-width="0.3"/>
<text x="127.7" y="228.8" font-size="4.6" text-anchor="middle" fill="#222" textLength="15.5" lengthAdjust="spacingAndGlyphs" transform="rotate(-90 127.7 228.8)">δ - score</text>
<text x="139.5" y="251.7" font-size="3.5" text-anchor="end" fill="#333">100</text>
<text x="142.8" y="255.5" font-size="3.5" text-anchor="end" fill="#333">50</text>
<text x="146.1" y="259.3" font-size="3.5" text-anchor="end" fill="#333">25</text>
<text x="149.4" y="263.1" font-size="3.5" text-anchor="end" fill="#333">12.5</text>
<text x="152.7" y="266.9" font-size="3.5" text-anchor="end" fill="#333">6.25</text>
<text x="156.1" y="270.7" font-size="3.5" text-anchor="end" fill="#333">3.13</text>
<text x="137.7" y="264.6" font-size="5.8" text-anchor="middle" font-weight="bold" fill="#111" textLength="21.0" lengthAdjust="spacingAndGlyphs" transform="rotate(48.9 137.7 264.6)">ELTA (nM)</text>
<text x="164.3" y="273.7" font-size="3.5" text-anchor="middle" fill="#333">3.13</text>
<line x1="163.83" y1="269.07" x2="164.03" y2="269.97" stroke="#555" stroke-width="0.3"/>
<text x="170.2" y="271.6" font-size="3.5" text-anchor="middle" fill="#333">6.25</text>
<line x1="169.73" y1="267.02" x2="169.93" y2="267.92" stroke="#555" stroke-width="0.3"/>
<text x="176.1" y="269.6" font-size="3.5" text-anchor="middle" fill="#333">12.5</text>
<line x1="175.62" y1="264.98" x2="175.82" y2="265.88" stroke="#555" stroke-width="0.3"/>
<text x="182.0" y="267.5" font-size="3.5" text-anchor="middle" fill="#333">25</text>
<line x1="181.51" y1="262.93" x2="181.71" y2="263.83" stroke="#555" stroke-width="0.3"/>
<text x="187.9" y="265.5" font-size="3.5" text-anchor="middle" fill="#333">50</text>
<line x1="187.40" y1="260.88" x2="187.60" y2="261.78" stroke="#555" stroke-width="0.3"/>
<text x="193.8" y="263.4" font-size="3.5" text-anchor="middle" fill="#333">100</text>
<line x1="193.29" y1="258.84" x2="193.49" y2="259.74" stroke="#555" stroke-width="0.3"/>
<text x="185.2" y="273.8" font-size="5.8" text-anchor="middle" font-weight="bold" fill="#111" textLength="19.0" lengthAdjust="spacingAndGlyphs" transform="rotate(-19.2 185.2 273.8)">VEN (nM)</text>
<path d="M168.1,422.0L207.0,403.5M168.1,422.0L145.0,392.0M207.0,403.5L180.0,381.0M145.0,392.0L180.0,381.0M167.6,384.5L209.2,368.2M167.6,384.5L143.5,357.4M209.2,368.2L180.4,347.4M143.5,357.4L180.4,347.4M168.1,422.0L167.6,384.5M207.0,403.5L209.2,368.2M145.0,392.0L143.5,357.4M180.0,381.0L180.4,347.4" stroke="#666" stroke-width="0.45" fill="none"/>
<g stroke="#111" stroke-width="0.25" stroke-linejoin="round"><path d="M145.2 375.8l1.3-.7-.9-1-1.4.6z" fill="#ffffff"/><path d="M146.5 375.1l1.4-1.8-.9-1.1-1.4 1.9z" fill="#fbefef"/><path d="M147.9 373.3l1.3-3.6-1-1.1-1.2 3.6z" fill="#f3d0cf"/><path d="M149.2 369.7l1.2-4.1-.9-1-1.3 4z" fill="#e3928f"/><path d="M150.4 365.6l1.4-2.5-1-1-1.3 2.5z" fill="#db726f"/><path d="M151.8 363.1l1.3-1.7-.9-1-1.4 1.7z" fill="#d3534f"/><path d="M153.1 361.4l1.4-1-.9-1-1.4 1zM158.8 359l1.4-.2-1-1-1.4.3zM160.2 358.8l1.4-.2-1-1-1.4.2zM161.6 358.6l1.4-.3-1-1-1.4.3zM163 358.3l1.5-.3-1.1-1-1.4.3zM164.5 358l1.4-.3-1.1-1.1-1.4.4zM165.9 357.7l1.4-.4-1-1-1.5.3zM167.3 357.3l1.4-.4-1-1-1.4.4zM168.7 356.9l1.4-.4-1-1-1.4.4zM170.1 356.5l1.4-.4-1-1-1.4.4zM171.5 356.1l1.4-.4-1-1-1.4.4zM172.9 355.7l1.5-.4-1.1-1-1.4.4zM174.4 355.3l1.4-.4-1.1-1-1.4.4zM175.8 354.9l1.4-.4-1.1-1-1.4.4zM177.2 354.5l1.4-.4-1.1-.9-1.4.3zM178.6 354.1l1.4-.4-1.1-.9-1.4.4zM180 353.7l1.4-.4-1.1-.9-1.4.4z" fill="#cf433f"/><path d="M154.5 360.4l1.4-.7-.9-.9-1.4.6zM155.9 359.7l1.5-.4-1-.9-1.4.4zM157.4 359.3l1.4-.3-1-.9-1.4.3z" fill="#cb342f"/><path d="M146.1 376.9l1.4-.7-1-1.1-1.3.7z" fill="#ffffff"/><path d="M147.5 376.2l1.3-1.8-.9-1.1-1.4 1.8z" fill="#fbefef"/><path d="M148.8 374.4l1.3-3.5-.9-1.2-1.3 3.6z" fill="#f3d0cf"/><path d="M150.1 370.9l1.3-4-1-1.3-1.2 4.1z" fill="#e7a19f"/><path d="M151.4 366.9l1.3-2.4-.9-1.4-1.4 2.5z" fill="#db726f"/><path d="M152.7 364.5l1.4-1.7-1-1.4-1.3 1.7z" fill="#d3534f"/><path d="M154.1 362.8l1.4-1.1-1-1.3-1.4 1zM155.5 361.7l1.4-.6-1-1.4-1.4.7zM156.9 361.1l1.5-.4-1-1.4-1.5.4zM158.4 360.7l1.4-.3-1-1.4-1.4.3zM159.8 360.4l1.4-.2-1-1.4-1.4.2zM161.2 360.2l1.4-.3-1-1.3-1.4.2zM162.6 359.9l1.5-.2-1.1-1.4-1.4.3zM164.1 359.7l1.4-.3-1-1.4-1.5.3zM165.5 359.4l1.4-.3-1-1.4-1.4.3zM166.9 359.1l1.4-.4-1-1.4-1.4.4zM168.3 358.7l1.4-.4-1-1.4-1.4.4zM169.7 358.3l1.5-.4-1.1-1.4-1.4.4zM171.2 357.9l1.4-.5-1.1-1.3-1.4.4zM172.6 357.4l1.4-.4-1.1-1.3-1.4.4zM174 357l1.4-.5-1-1.2-1.5.4zM175.4 356.5l1.4-.5-1-1.1-1.4.4zM176.8 356l1.5-.4-1.1-1.1-1.4.4zM178.3 355.6l1.4-.4-1.1-1.1-1.4.4zM179.7 355.2l1.4-.4-1.1-1.1-1.4.4zM181.1 354.8l1.4-.5-1.1-1-1.4.4z" fill="#cf433f"/><path d="M147 378l1.4-.7-.9-1.1-1.4.7z" fill="#ffffff"/><path d="M148.4 377.3l1.3-1.6-.9-1.3-1.3 1.8z" fill="#fbefef"/><path d="M149.7 375.7l1.3-3.3-.9-1.5-1.3 3.5z" fill="#f3d0cf"/><path d="M151 372.4l1.3-3.7-.9-1.8-1.3 4z" fill="#e7a19f"/><path d="M152.3 368.7l1.4-2.3-1-1.9-1.3 2.4z" fill="#db726f"/><path d="M153.7 366.4l1.4-1.6-1-2-1.4 1.7z" fill="#d7635f"/><path d="M155.1 364.8l1.4-1-1-2.1-1.4 1.1zM162.2 362.3l1.4-.2-1-2.2-1.4.3zM163.6 362.1l1.5-.3-1-2.1-1.5.2zM165.1 361.8l1.4-.3-1-2.1-1.4.3zM166.5 361.5l1.4-.3-1-2.1-1.4.3zM167.9 361.2l1.5-.4-1.1-2.1-1.4.4zM169.4 360.8l1.4-.5-1.1-2-1.4.4zM170.8 360.3l1.4-.5-1-1.9-1.5.4zM172.2 359.8l1.4-.5-1-1.9-1.4.5zM173.6 359.3l1.5-.5-1.1-1.8-1.4.4zM175.1 358.8l1.4-.6-1.1-1.7-1.4.5zM176.5 358.2l1.4-.5-1.1-1.7-1.4.5zM177.9 357.7l1.4-.5-1-1.6-1.5.4zM179.3 357.2l1.5-.5-1.1-1.5-1.4.4zM180.8 356.7l1.4-.5-1.1-1.4-1.4.4zM182.2 356.2l1.4-.4-1.1-1.5-1.4.5z" fill="#d3534f"/><path d="M156.5 363.8l1.4-.6-1-2.1-1.4.6zM157.9 363.2l1.5-.4-1-2.1-1.5.4zM159.4 362.8l1.4-.3-1-2.1-1.4.3zM160.8 362.5l1.4-.2-1-2.1-1.4.2z" fill="#cf433f"/><path d="M147.9 379.1l1.4-.6-.9-1.2-1.4.7z" fill="#ffffff"/><path d="M149.3 378.5l1.4-1.5-1-1.3-1.3 1.6z" fill="#fbefef"/><path d="M150.7 377l1.3-2.8-1-1.8-1.3 3.3z" fill="#f3d0cf"/><path d="M152 374.2l1.3-3.1-1-2.4-1.3 3.7z" fill="#ebb1af"/><path d="M153.3 371.1l1.4-1.9-1-2.8-1.4 2.3z" fill="#df827f"/><path d="M154.7 369.2l1.4-1.4-1-3-1.4 1.6zM164.7 365.2l1.4-.3-1-3.1-1.5.3zM166.1 364.9l1.4-.3-1-3.1-1.4.3zM167.5 364.6l1.5-.3-1.1-3.1-1.4.3zM169 364.3l1.4-.4-1-3.1-1.5.4zM170.4 363.9l1.4-.5-1-3.1-1.4.5zM171.8 363.4l1.4-.6-1-3-1.4.5zM173.2 362.8l1.5-.7-1.1-2.8-1.4.5z" fill="#db726f"/><path d="M156.1 367.8l1.4-.9-1-3.1-1.4 1zM157.5 366.9l1.5-.5-1.1-3.2-1.4.6zM159 366.4l1.4-.4-1-3.2-1.5.4zM160.4 366l1.4-.3-1-3.2-1.4.3zM161.8 365.7l1.4-.3-1-3.1-1.4.2zM163.2 365.4l1.5-.2-1.1-3.1-1.4.2zM174.7 362.1l1.4-.7-1-2.6-1.5.5zM176.1 361.4l1.4-.7-1-2.5-1.4.6zM177.5 360.7l1.5-.7-1.1-2.3-1.4.5zM179 360l1.4-.6-1.1-2.2-1.4.5zM180.4 359.4l1.4-.6-1-2.1-1.5.5zM181.8 358.8l1.5-.5-1.1-2.1-1.4.5zM183.3 358.3l1.4-.4-1.1-2.1-1.4.4z" fill="#d7635f"/><path d="M148.8 380.2l1.4-.6-.9-1.1-1.4.6z" fill="#ffffff"/><path d="M150.2 379.6l1.4-1.2-.9-1.4-1.4 1.5z" fill="#fbefef"/><path d="M151.6 378.4l1.4-2.1-1-2.1-1.3 2.8z" fill="#f7e0df"/><path d="M153 376.3l1.3-2.2-1-3-1.3 3.1z" fill="#efc0bf"/><path d="M154.3 374.1l1.4-1.5-1-3.4-1.4 1.9zM170 368.4l1.4-.4-1-4.1-1.4.4z" fill="#e7a19f"/><path d="M155.7 372.6l1.4-1-1-3.8-1.4 1.4zM157.1 371.6l1.5-.7-1.1-4-1.4.9zM158.6 370.9l1.4-.5-1-4-1.5.5zM161.4 370l1.4-.2-1-4.1-1.4.3zM162.8 369.8l1.5-.3-1.1-4.1-1.4.3zM164.3 369.5l1.4-.2-1-4.1-1.5.2zM165.7 369.3l1.4-.3-1-4.1-1.4.3zM167.1 369l1.5-.2-1.1-4.2-1.4.3zM168.6 368.8l1.4-.4-1-4.1-1.5.3zM171.4 368l1.4-.6-1-4-1.4.5zM172.8 367.4l1.5-.7-1.1-3.9-1.4.6zM174.3 366.7l1.4-.8-1-3.8-1.5.7zM175.7 365.9l1.4-1-1-3.5-1.4.7z" fill="#e3928f"/><path d="M160 370.4l1.4-.4-1-4-1.4.4zM177.1 364.9l1.5-.9-1.1-3.3-1.4.7zM178.6 364l1.4-.9-1-3.1-1.5.7zM180 363.1l1.4-.8-1-2.9-1.4.6z" fill="#df827f"/><path d="M181.4 362.3l1.5-.7-1.1-2.8-1.4.6zM182.9 361.6l1.4-.6-1-2.7-1.5.5zM184.3 361l1.4-.5-1-2.6-1.4.4z" fill="#db726f"/><path d="M149.7 381.3l1.4-.5-.9-1.2-1.4.6zM151.1 380.8l1.4-.9-.9-1.5-1.4 1.2z" fill="#ffffff"/><path d="M152.5 379.9l1.4-1.3-.9-2.3-1.4 2.1z" fill="#fbefef"/><path d="M153.9 378.6l1.4-1.4-1-3.1-1.3 2.2zM166.7 374l1.5-.2-1.1-4.8-1.4.3zM168.2 373.8l1.4-.2-1-4.8-1.5.2zM169.6 373.6l1.4-.3-1-4.9-1.4.4zM171 373.3l1.4-.5-1-4.8-1.4.4zM172.4 372.8l1.5-.6-1.1-4.8-1.4.6zM173.9 372.2l1.4-.8-1-4.7-1.5.7z" fill="#f3d0cf"/><path d="M155.3 377.2l1.4-.9-1-3.7-1.4 1.5zM156.7 376.3l1.5-.7-1.1-4-1.4 1zM158.2 375.6l1.4-.5-1-4.2-1.5.7zM159.6 375.1l1.4-.3-1-4.4-1.4.5zM161 374.8l1.4-.3-1-4.5-1.4.4zM162.4 374.5l1.5-.2-1.1-4.5-1.4.2zM163.9 374.3l1.4-.2-1-4.6-1.5.3zM165.3 374.1l1.4-.1-1-4.7-1.4.2zM175.3 371.4l1.4-1.1-1-4.4-1.4.8zM176.7 370.3l1.4-1.2-1-4.2-1.4 1z" fill="#efc0bf"/><path d="M178.1 369.1l1.5-1.3-1-3.8-1.5.9zM179.6 367.8l1.4-1.2-1-3.5-1.4.9z" fill="#ebb1af"/><path d="M181 366.6l1.5-1-1.1-3.3-1.4.8zM182.5 365.6l1.4-.8-1-3.2-1.5.7z" fill="#e7a19f"/><path d="M183.9 364.8l1.4-.6-1-3.2-1.4.6zM185.3 364.2l1.5-.6-1.1-3.1-1.4.5z" fill="#e3928f"/><path d="M150.6 382.4l1.4-.5-.9-1.1-1.4.5zM152 381.9l1.5-.6-1-1.4-1.4.9zM166.3 378.1l1.4-.2-1-3.9-1.4.1zM167.7 377.9l1.5-.2-1-3.9-1.5.2zM169.2 377.7l1.4-.3-1-3.8-1.4.2zM170.6 377.4l1.4-.3-1-3.8-1.4.3zM172 377.1l1.4-.5-1-3.8-1.4.5zM173.4 376.6l1.5-.6-1-3.8-1.5.6zM174.9 376l1.4-.8-1-3.8-1.4.8zM176.3 375.2l1.4-.9-1-4-1.4 1.1z" fill="#ffffff"/><path d="M153.5 381.3l1.4-.7-1-2-1.4 1.3zM154.9 380.6l1.4-.5-1-2.9-1.4 1.4zM156.3 380.1l1.4-.4-1-3.4-1.4.9zM157.7 379.7l1.5-.3-1-3.8-1.5.7zM159.2 379.4l1.4-.3-1-4-1.4.5zM160.6 379.1l1.4-.3-1-4-1.4.3zM162 378.8l1.5-.3-1.1-4-1.4.3zM163.5 378.5l1.4-.2-1-4-1.5.2zM164.9 378.3l1.4-.2-1-4-1.4.2zM177.7 374.3l1.4-1.1-1-4.1-1.4 1.2z" fill="#fbefef"/><path d="M179.1 373.2l1.5-1.4-1-4-1.5 1.3z" fill="#f7e0df"/><path d="M180.6 371.8l1.4-1.5-1-3.7-1.4 1.2zM182 370.3l1.5-1.2-1-3.5-1.5 1z" fill="#f3d0cf"/><path d="M183.5 369.1l1.4-1-1-3.3-1.4.8zM184.9 368.1l1.5-.8-1.1-3.1-1.4.6zM186.4 367.3l1.4-.7-1-3-1.5.6z" fill="#efc0bf"/><path d="M151.5 383.5l1.4-.5-.9-1.1-1.4.5zM152.9 383l1.5-.4-.9-1.3-1.5.6zM154.4 382.6l1.4-.3-.9-1.7-1.4.7zM155.8 382.3l1.5-.2-1-2-1.4.5zM157.3 382.1l1.4-.1-1-2.3-1.4.4zM158.7 382l1.4-.2-.9-2.4-1.5.3zM181.6 374.5l1.4-1.3-1-2.9-1.4 1.5z" fill="#ffffff"/><path d="M160.1 381.8l1.5-.2-1-2.5-1.4.3zM161.6 381.6l1.4-.2-1-2.6-1.4.3zM163 381.4l1.4-.2-.9-2.7-1.5.3zM164.4 381.2l1.5-.1-1-2.8-1.4.2zM180.2 375.8l1.4-1.3-1-2.7-1.5 1.4z" fill="#f1f7f0"/><path d="M165.9 381.1l1.4-.1-1-2.9-1.4.2zM167.3 381l1.4-.1-1-3-1.4.2zM168.7 380.9l1.5-.2-1-3-1.5.2zM177.3 378.2l1.4-1.1-1-2.8-1.4.9zM178.7 377.1l1.5-1.3-1.1-2.6-1.4 1.1z" fill="#e3efe1"/><path d="M170.2 380.7l1.4-.2-1-3.1-1.4.3zM171.6 380.5l1.4-.3-1-3.1-1.4.3zM173 380.2l1.4-.4-1-3.2-1.4.5zM174.4 379.8l1.5-.7-1-3.1-1.5.6zM175.9 379.1l1.4-.9-1-3-1.4.8z" fill="#d6e7d3"/><path d="M183 373.2l1.5-1.2-1-2.9-1.5 1.2z" fill="#fbefef"/><path d="M184.5 372l1.4-1.1-1-2.8-1.4 1zM185.9 370.9l1.5-1-1-2.6-1.5.8zM187.4 369.9l1.4-.7-1-2.6-1.4.7z" fill="#f7e0df"/><path d="M152.4 384.6l1.5-.5-1-1.1-1.4.5zM153.9 384.1l1.4-.4-.9-1.1-1.5.4zM155.3 383.7l1.5-.1-1-1.3-1.4.3zM185.5 373.8l1.5-1-1.1-1.9-1.4 1.1z" fill="#ffffff"/><path d="M156.8 383.6l1.4.1-.9-1.6-1.5.2zM158.2 383.7l1.5 0-1-1.7-1.4.1zM159.7 383.7l1.4 0-1-1.9-1.4.2zM182.6 376.5l1.5-1.4-1.1-1.9-1.4 1.3zM184.1 375.1l1.4-1.3-1-1.8-1.5 1.2z" fill="#f1f7f0"/><path d="M161.1 383.7l1.4-.1-.9-2-1.5.2zM162.5 383.6l1.5-.1-1-2.1-1.4.2zM164 383.5l1.4-.1-1-2.2-1.4.2zM181.2 378l1.4-1.5-1-2-1.4 1.3z" fill="#e3efe1"/><path d="M165.4 383.4l1.5-.1-1-2.2-1.5.1zM166.9 383.3l1.4 0-1-2.3-1.4.1zM179.7 379.4l1.5-1.4-1-2.2-1.5 1.3z" fill="#d6e7d3"/><path d="M168.3 383.3l1.4-.1-1-2.3-1.4.1zM169.7 383.2l1.4 0-.9-2.5-1.5.2zM171.1 383.2l1.5-.2-1-2.5-1.4.2zM176.9 381.6l1.4-1-1-2.4-1.4.9zM178.3 380.6l1.4-1.2-1-2.3-1.4 1.1z" fill="#c8e0c4"/><path d="M172.6 383l1.4-.3-1-2.5-1.4.3zM174 382.7l1.4-.4-1-2.5-1.4.4zM175.4 382.3l1.5-.7-1-2.5-1.5.7z" fill="#bad8b5"/><path d="M187 372.8l1.4-.9-1-2-1.5 1zM188.4 371.9l1.5-.8-1.1-1.9-1.4.7z" fill="#fbefef"/><path d="M153.3 385.7l1.5-.5-.9-1.1-1.5.5zM154.8 385.2l1.4-.4-.9-1.1-1.4.4zM156.2 384.8l1.5-.1-.9-1.1-1.5.1zM188 374l1.5-.9-1.1-1.2-1.4.9zM189.5 373.1l1.4-.8-1-1.2-1.5.8z" fill="#ffffff"/><path d="M157.7 384.7l1.4.2-.9-1.2-1.4-.1zM159.1 384.9l1.5.1-.9-1.3-1.5 0zM185.1 376.3l1.5-1.2-1.1-1.3-1.4 1.3zM186.6 375.1l1.4-1.1-1-1.2-1.5 1z" fill="#f1f7f0"/><path d="M160.6 385l1.4 0-.9-1.3-1.4 0zM162 385l1.5-.1-1-1.3-1.4.1zM183.6 377.8l1.5-1.5-1-1.2-1.5 1.4z" fill="#e3efe1"/><path d="M163.5 384.9l1.4-.1-.9-1.3-1.5.1zM164.9 384.8l1.5 0-1-1.4-1.4.1zM182.2 379.4l1.4-1.6-1-1.3-1.4 1.5z" fill="#d6e7d3"/><path d="M166.4 384.8l1.4-.1-.9-1.4-1.5.1zM167.8 384.7l1.5.1-1-1.5-1.4 0zM180.7 380.9l1.5-1.5-1-1.4-1.5 1.4z" fill="#c8e0c4"/><path d="M169.3 384.8l1.4 0-1-1.6-1.4.1zM170.7 384.8l1.4 0-1-1.6-1.4 0zM172.1 384.8l1.5-.1-1-1.7-1.5.2zM177.9 383.2l1.4-1-1-1.6-1.4 1zM179.3 382.2l1.4-1.3-1-1.5-1.4 1.2z" fill="#bad8b5"/><path d="M173.6 384.7l1.4-.3-1-1.7-1.4.3zM175 384.4l1.4-.5-1-1.6-1.4.4zM176.4 383.9l1.5-.7-1-1.6-1.5.7z" fill="#acd0a6"/><path d="M154.2 386.8l1.5-.5-.9-1.1-1.5.5zM155.7 386.3l1.4-.5-.9-1-1.4.4zM157.1 385.8l1.5-.2-.9-.9-1.5.1zM189.1 374.7l1.5-.9-1.1-.7-1.5.9zM190.6 373.8l1.4-.9-1.1-.6-1.4.8z" fill="#ffffff"/><path d="M158.6 385.6l1.5 0-1-.7-1.4-.2zM160.1 385.6l1.4.1-.9-.7-1.5-.1zM186.2 377.1l1.4-1.3-1-.7-1.5 1.2zM187.6 375.8l1.5-1.1-1.1-.7-1.4 1.1z" fill="#f1f7f0"/><path d="M161.5 385.7l1.5-.1-1-.6-1.4 0zM163 385.6l1.4 0-.9-.7-1.5.1zM184.7 378.6l1.5-1.5-1.1-.8-1.5 1.5z" fill="#e3efe1"/><path d="M164.4 385.6l1.5-.2-1-.6-1.4.1zM165.9 385.4l1.4 0-.9-.6-1.5 0zM183.2 380.1l1.5-1.5-1.1-.8-1.4 1.6z" fill="#d6e7d3"/><path d="M167.3 385.4l1.5-.1-1-.6-1.4.1zM168.8 385.3l1.4.1-.9-.6-1.5-.1zM181.8 381.6l1.4-1.5-1-.7-1.5 1.5z" fill="#c8e0c4"/><path d="M170.2 385.4l1.5 0-1-.6-1.4 0zM171.7 385.4l1.4 0-1-.6-1.4 0zM180.3 382.9l1.5-1.3-1.1-.7-1.4 1.3z" fill="#bad8b5"/><path d="M173.1 385.4l1.5-.1-1-.6-1.5.1zM174.6 385.3l1.4-.3-1-.6-1.4.3zM176 385l1.4-.5-1-.6-1.4.5zM177.4 384.5l1.5-.7-1-.6-1.5.7zM178.9 383.8l1.4-.9-1-.7-1.4 1z" fill="#acd0a6"/><path d="M155.1 387.9l1.5-.6-.9-1-1.5.5zM156.6 387.3l1.5-.6-1-.9-1.4.5zM158.1 386.7l1.4-.4-.9-.7-1.5.2zM159.5 386.3l1.5-.3-.9-.4-1.5 0zM188.7 376.1l1.5-1.1-1.1-.3-1.5 1.1zM190.2 375l1.4-1.1-1-.1-1.5.9z" fill="#ffffff"/><path d="M161 386l1.4-.1-.9-.2-1.4-.1zM162.4 385.9l1.5-.2-.9-.1-1.5.1zM187.2 377.4l1.5-1.3-1.1-.3-1.4 1.3z" fill="#f1f7f0"/><path d="M163.9 385.7l1.5-.2-1 .1-1.4 0zM165.4 385.5l1.4-.2-.9.1-1.5.2zM166.8 385.3l1.5-.1-1 .2-1.4 0zM185.7 378.7l1.5-1.3-1-.3-1.5 1.5z" fill="#e3efe1"/><path d="M168.3 385.2l1.4 0-.9.1-1.5.1zM169.7 385.2l1.5 0-1 .2-1.4-.1zM184.3 380.1l1.4-1.4-1-.1-1.5 1.5z" fill="#d6e7d3"/><path d="M171.2 385.2l1.4 0-.9.2-1.5 0zM172.6 385.2l1.5-.1-1 .3-1.4 0zM181.3 382.6l1.5-1.1-1 .1-1.5 1.3zM182.8 381.5l1.5-1.4-1.1 0-1.4 1.5z" fill="#c8e0c4"/><path d="M174.1 385.1l1.4-.1-.9.3-1.5.1zM175.5 385l1.5-.3-1 .3-1.4.3zM177 384.7l1.4-.5-1 .3-1.4.5zM178.4 384.2l1.5-.6-1 .2-1.5.7zM179.9 383.6l1.4-1-1 .3-1.4.9z" fill="#bad8b5"/><path d="M191.6 373.9l1.5-.9-1.1-.1-1.4.9z" fill="#fbefef"/><path d="M156 389l1.5-.6-.9-1.1-1.5.6zM157.5 388.4l1.5-.9-.9-.8-1.5.6zM159 387.5l1.4-1-.9-.2-1.4.4zM160.4 386.5l1.5-.7-.9.2-1.5.3zM161.9 385.8l1.5-.4-1 .5-1.4.1zM163.4 385.4l1.4-.2-.9.5-1.5.2zM164.8 385.2l1.5-.2-.9.5-1.5.2zM188.3 377.3l1.5-1.4-1.1.2-1.5 1.3z" fill="#ffffff"/><path d="M166.3 385l1.5-.2-1 .5-1.4.2zM167.8 384.8l1.4-.2-.9.6-1.5.1zM169.2 384.6l1.5-.1-1 .7-1.4 0zM186.8 378.5l1.5-1.2-1.1.1-1.5 1.3z" fill="#f1f7f0"/><path d="M170.7 384.5l1.5-.1-1 .8-1.5 0zM172.2 384.4l1.4 0-1 .8-1.4 0zM183.9 380.8l1.4-1.1-1 .4-1.5 1.4zM185.3 379.7l1.5-1.2-1.1.2-1.4 1.4z" fill="#e3efe1"/><path d="M173.6 384.4l1.5-.1-1 .8-1.5.1zM175.1 384.3l1.4-.2-1 .9-1.4.1zM180.9 382.6l1.5-.8-1.1.8-1.4 1zM182.4 381.8l1.5-1-1.1.7-1.5 1.1z" fill="#d6e7d3"/><path d="M176.5 384.1l1.5-.3-1 .9-1.5.3zM178 383.8l1.5-.5-1.1.9-1.4.5zM179.5 383.3l1.4-.7-1 1-1.5.6z" fill="#c8e0c4"/><path d="M189.8 375.9l1.5-1.3-1.1.4-1.5 1.1zM191.3 374.6l1.5-1.1-1.2.4-1.4 1.1z" fill="#fbefef"/><path d="M192.8 373.5l1.4-.9-1.1.4-1.5.9z" fill="#f7e0df"/><path d="M157 390.1l1.4-.7-.9-1-1.5.6zM158.4 389.4l1.5-1.2-.9-.7-1.5.9zM171.7 383l1.4.1-.9 1.3-1.5.1zM173.1 383.1l1.5.2-1 1.1-1.4 0zM186.4 378.8l1.5-1.2-1.1.9-1.5 1.2zM187.9 377.6l1.5-1.3-1.1 1-1.5 1.2z" fill="#ffffff"/><path d="M159.9 388.2l1.4-1.7-.9 0-1.4 1zM167.2 383.3l1.5-.3-.9 1.8-1.5.2zM168.7 383l1.5-.1-1 1.7-1.4.2zM170.2 382.9l1.5.1-1 1.5-1.5.1zM189.4 376.3l1.5-1.2-1.1.8-1.5 1.4z" fill="#fbefef"/><path d="M161.3 386.5l1.5-1.4-.9.7-1.5.7zM162.8 385.1l1.5-.8-.9 1.1-1.5.4zM164.3 384.3l1.5-.5-1 1.4-1.4.2zM165.8 383.8l1.4-.5-.9 1.7-1.5.2zM190.9 375.1l1.5-1.2-1.1.7-1.5 1.3zM192.4 373.9l1.5-1-1.1.6-1.5 1.1z" fill="#f7e0df"/><path d="M174.6 383.3l1.5-.1-1 1.1-1.5.1zM176.1 383.2l1.5-.2-1.1 1.1-1.4.2zM183.4 380.7l1.5-.8-1 .9-1.5 1zM184.9 379.9l1.5-1.1-1.1.9-1.4 1.1z" fill="#f1f7f0"/><path d="M177.6 383l1.4-.4-1 1.2-1.5.3zM179 382.6l1.5-.5-1 1.2-1.5.5zM180.5 382.1l1.5-.6-1.1 1.1-1.4.7zM182 381.5l1.4-.8-1 1.1-1.5.8z" fill="#e3efe1"/><path d="M193.9 372.9l1.5-.9-1.2.6-1.4.9z" fill="#f3d0cf"/><path d="M157.9 391.2l1.4-.8-.9-1-1.4.7z" fill="#ffffff"/><path d="M159.3 390.4l1.5-1.5-.9-.7-1.5 1.2zM175.6 381.2l1.5 0-1 2-1.5.1zM177.1 381.2l1.5-.2-1 2-1.5.2zM178.6 381l1.5-.3-1.1 1.9-1.4.4zM180.1 380.7l1.4-.5-1 1.9-1.5.5zM181.5 380.2l1.5-.6-1 1.9-1.5.6zM183 379.6l1.5-.8-1.1 1.9-1.4.8zM184.5 378.8l1.5-.8-1.1 1.9-1.5.8zM186 378l1.5-.9-1.1 1.7-1.5 1.1z" fill="#fbefef"/><path d="M160.8 388.9l1.4-2.4-.9 0-1.4 1.7zM174.1 381.2l1.5 0-1 2.1-1.5-.2zM187.5 377.1l1.5-1-1.1 1.5-1.5 1.2zM189 376.1l1.5-1-1.1 1.2-1.5 1.3z" fill="#f7e0df"/><path d="M162.2 386.5l1.5-2.1-.9.7-1.5 1.4zM171.2 381.1l1.4 0-.9 1.9-1.5-.1zM172.6 381.1l1.5.1-1 1.9-1.4-.1zM190.5 375.1l1.5-1.1-1.1 1.1-1.5 1.2z" fill="#f3d0cf"/><path d="M163.7 384.4l1.5-1.2-.9 1.1-1.5.8zM165.2 383.2l1.5-.8-.9 1.4-1.5.5zM166.7 382.4l1.5-.7-1 1.6-1.4.5zM168.2 381.7l1.5-.4-1 1.7-1.5.3zM169.7 381.3l1.5-.2-1 1.8-1.5.1zM192 374l1.5-1-1.1.9-1.5 1.2zM193.5 373l1.5-1.1-1.1 1-1.5 1z" fill="#efc0bf"/><path d="M195 371.9l1.5-.8-1.1.9-1.5.9z" fill="#ebb1af"/><path d="M158.8 392.3l1.5-.9-1-1-1.4.8z" fill="#ffffff"/><path d="M160.3 391.4l1.4-1.9-.9-.6-1.5 1.5z" fill="#fbefef"/><path d="M161.7 389.5l1.5-3-1 0-1.4 2.4z" fill="#f7e0df"/><path d="M163.2 386.5l1.4-2.8-.9.7-1.5 2.1zM176.6 379.5l1.5-.1-1 1.8-1.5 0zM178.1 379.4l1.5-.3-1 1.9-1.5.2zM179.6 379.1l1.5-.4-1 2-1.5.3zM184.1 377.6l1.5-.6-1.1 1.8-1.5.8zM185.6 377l1.5-.7-1.1 1.7-1.5.8zM187.1 376.3l1.5-.8-1.1 1.6-1.5.9zM188.6 375.5l1.5-.8-1.1 1.4-1.5 1z" fill="#efc0bf"/><path d="M164.6 383.7l1.5-1.5-.9 1-1.5 1.2zM173.6 379.5l1.5 0-1 1.7-1.5-.1zM175.1 379.5l1.5 0-1 1.7-1.5 0zM190.1 374.7l1.5-.8-1.1 1.2-1.5 1zM191.6 373.9l1.5-.9-1.1 1-1.5 1.1zM193.1 373l1.6-1.1-1.2 1.1-1.5 1z" fill="#ebb1af"/><path d="M166.1 382.2l1.5-1.1-.9 1.3-1.5.8zM167.6 381.1l1.5-.7-.9 1.3-1.5.7zM169.1 380.4l1.5-.6-.9 1.5-1.5.4zM170.6 379.8l1.5-.2-.9 1.5-1.5.2zM172.1 379.6l1.5-.1-1 1.6-1.4 0zM194.7 371.9l1.5-1-1.2 1-1.5 1.1zM196.2 370.9l1.5-.9-1.2 1.1-1.5.8z" fill="#e7a19f"/><path d="M181.1 378.7l1.5-.5-1.1 2-1.4.5zM182.6 378.2l1.5-.6-1.1 2-1.5.6z" fill="#f3d0cf"/><path d="M159.7 393.4l1.5-1-.9-1-1.5.9z" fill="#ffffff"/><path d="M161.2 392.4l1.4-2.2-.9-.7-1.4 1.9z" fill="#fbefef"/><path d="M162.6 390.2l1.5-3.7-.9 0-1.5 3z" fill="#f3d0cf"/><path d="M164.1 386.5l1.4-3.4-.9.6-1.4 2.8zM179.1 378.1l1.5-.3-1 1.3-1.5.3zM180.6 377.8l1.6-.5-1.1 1.4-1.5.4zM182.2 377.3l1.5-.5-1.1 1.4-1.5.5zM183.7 376.8l1.5-.6-1.1 1.4-1.5.6zM185.2 376.2l1.5-.6-1.1 1.4-1.5.6zM186.7 375.6l1.5-.6-1.1 1.3-1.5.7zM188.2 375l1.5-.7-1.1 1.2-1.5.8zM189.7 374.3l1.5-.7-1.1 1.1-1.5.8z" fill="#e7a19f"/><path d="M165.5 383.1l1.5-1.7-.9.8-1.5 1.5zM176.1 378.3l1.5 0-1 1.2-1.5 0zM177.6 378.3l1.5-.2-1 1.3-1.5.1zM191.2 373.6l1.5-.7-1.1 1-1.5.8zM192.7 372.9l1.6-.9-1.2 1-1.5.9zM194.3 372l1.5-1-1.1.9-1.6 1.1z" fill="#e3928f"/><path d="M167 381.4l1.5-1.2-.9.9-1.5 1.1zM168.5 380.2l1.6-.9-1 1.1-1.5.7zM171.6 378.7l1.5-.3-1 1.2-1.5.2zM173.1 378.4l1.5-.1-1 1.2-1.5.1zM174.6 378.3l1.5 0-1 1.2-1.5 0zM195.8 371l1.5-1.1-1.1 1-1.5 1zM197.3 369.9l1.6-.9-1.2 1-1.5.9z" fill="#df827f"/><path d="M170.1 379.3l1.5-.6-1 1.1-1.5.6z" fill="#db726f"/><path d="M160.6 394.5l1.5-1-.9-1.1-1.5 1z" fill="#ffffff"/><path d="M162.1 393.5l1.4-2.6-.9-.7-1.4 2.2z" fill="#fbefef"/><path d="M163.5 390.9l1.5-4.2-.9-.2-1.5 3.7z" fill="#efc0bf"/><path d="M165 386.7l1.5-3.9-1 .3-1.4 3.4z" fill="#e3928f"/><path d="M166.5 382.8l1.5-1.9-1 .5-1.5 1.7zM175.6 377.5l1.5.1-1 .7-1.5 0zM177.1 377.6l1.5 0-1 .7-1.5 0zM193.9 372.2l1.5-.9-1.1.7-1.6.9zM195.4 371.3l1.5-1-1.1.7-1.5 1zM196.9 370.3l1.6-1.1-1.2.7-1.5 1.1z" fill="#db726f"/><path d="M168 380.9l1.5-1.4-1 .7-1.5 1.2zM169.5 379.5l1.5-1-.9.8-1.6.9zM171 378.5l1.5-.6-.9.8-1.5.6zM172.5 377.9l1.6-.3-1 .8-1.5.3zM174.1 377.6l1.5-.1-1 .8-1.5.1zM198.5 369.2l1.5-.9-1.1.7-1.6.9z" fill="#d7635f"/><path d="M178.6 377.6l1.6-.2-1.1.7-1.5.2zM180.2 377.4l1.5-.4-1.1.8-1.5.3zM181.7 377l1.5-.5-1 .8-1.6.5zM183.2 376.5l1.5-.6-1 .9-1.5.5zM184.7 375.9l1.5-.5-1 .8-1.5.6zM186.2 375.4l1.6-.6-1.1.8-1.5.6zM187.8 374.8l1.5-.6-1.1.8-1.5.6zM189.3 374.2l1.5-.6-1.1.7-1.5.7zM190.8 373.6l1.5-.7-1.1.7-1.5.7zM192.3 372.9l1.6-.7-1.2.7-1.5.7z" fill="#df827f"/><path d="M161.5 395.6l1.5-1.1-.9-1-1.5 1z" fill="#ffffff"/><path d="M163 394.5l1.5-2.8-1-.8-1.4 2.6z" fill="#fbefef"/><path d="M164.5 391.7l1.4-4.6-.9-.4-1.5 4.2z" fill="#efc0bf"/><path d="M165.9 387.1l1.5-4.2-.9-.1-1.5 3.9z" fill="#df827f"/><path d="M167.4 382.9l1.5-2.1-.9.1-1.5 1.9zM178.1 377.4l1.6 0-1.1.2-1.5 0zM179.7 377.4l1.5-.3-1 .3-1.6.2zM181.2 377.1l1.5-.4-1 .3-1.5.4zM193.4 372.7l1.6-.7-1.1.2-1.6.7zM195 372l1.5-.9-1.1.2-1.5.9zM196.5 371.1l1.6-1-1.2.2-1.5 1z" fill="#d7635f"/><path d="M168.9 380.8l1.5-1.5-.9.2-1.5 1.4zM175.1 377.4l1.5-.1-1 .2-1.5.1zM176.6 377.3l1.5.1-1 .2-1.5-.1zM198.1 370.1l1.5-1.1-1.1.2-1.6 1.1zM199.6 369l1.6-1-1.2.3-1.5.9z" fill="#d3534f"/><path d="M170.4 379.3l1.6-1-1 .2-1.5 1zM172 378.3l1.5-.6-1 .2-1.5.6zM173.5 377.7l1.6-.3-1 .2-1.6.3z" fill="#cf433f"/><path d="M182.7 376.7l1.5-.5-1 .3-1.5.5zM184.2 376.2l1.6-.5-1.1.2-1.5.6zM185.8 375.7l1.5-.6-1.1.3-1.5.5zM187.3 375.1l1.5-.6-1 .3-1.6.6zM188.8 374.5l1.6-.6-1.1.3-1.5.6zM190.4 373.9l1.5-.6-1.1.3-1.5.6zM191.9 373.3l1.5-.6-1.1.2-1.5.7z" fill="#db726f"/><path d="M162.4 396.7l1.5-1.1-.9-1.1-1.5 1.1z" fill="#ffffff"/><path d="M163.9 395.6l1.5-3-.9-.9-1.5 2.8z" fill="#f7e0df"/><path d="M165.4 392.6l1.4-4.8-.9-.7-1.4 4.6z" fill="#efc0bf"/><path d="M166.8 387.8l1.5-4.4-.9-.5-1.5 4.2z" fill="#df827f"/><path d="M168.3 383.4l1.6-2.1-1-.5-1.5 2.1zM179.1 377.8l1.6 0-1-.4-1.6 0zM180.7 377.8l1.5-.3-1-.4-1.5.3zM196.1 372.3l1.5-.9-1.1-.3-1.5.9zM197.6 371.4l1.6-1-1.1-.3-1.6 1zM199.2 370.4l1.5-1.1-1.1-.3-1.5 1.1z" fill="#d3534f"/><path d="M169.9 381.3l1.5-1.5-1-.5-1.5 1.5zM171.4 379.8l1.6-1-1-.5-1.6 1zM176 377.8l1.6-.1-1-.4-1.5.1zM177.6 377.7l1.5.1-1-.4-1.5-.1zM200.7 369.3l1.6-1.1-1.1-.2-1.6 1z" fill="#cf433f"/><path d="M173 378.8l1.5-.7-1-.4-1.5.6zM174.5 378.1l1.5-.3-.9-.4-1.6.3z" fill="#cb342f"/><path d="M182.2 377.5l1.5-.4-1-.4-1.5.4zM183.7 377.1l1.6-.5-1.1-.4-1.5.5zM185.3 376.6l1.5-.6-1-.3-1.6.5zM186.8 376l1.6-.5-1.1-.4-1.5.6zM188.4 375.5l1.5-.6-1.1-.4-1.5.6zM189.9 374.9l1.5-.6-1-.4-1.6.6zM191.4 374.3l1.6-.6-1.1-.4-1.5.6zM193 373.7l1.5-.6-1.1-.4-1.5.6zM194.5 373.1l1.6-.8-1.1-.3-1.6.7z" fill="#d7635f"/><path d="M163.3 397.8l1.5-1.2-.9-1-1.5 1.1z" fill="#ffffff"/><path d="M164.8 396.6l1.5-2.9-.9-1.1-1.5 3z" fill="#f7e0df"/><path d="M166.3 393.7l1.5-4.7-1-1.2-1.4 4.8z" fill="#ebb1af"/><path d="M167.8 389l1.5-4.4-1-1.2-1.5 4.4z" fill="#df827f"/><path d="M169.3 384.6l1.5-2.2-.9-1.1-1.6 2.1zM180.1 378.9l1.6 0-1-1.1-1.6 0zM181.7 378.9l1.5-.3-1-1.1-1.5.3zM183.2 378.6l1.5-.4-1-1.1-1.5.4zM197.1 373.3l1.6-.9-1.1-1-1.5.9zM198.7 372.4l1.5-1-1-1-1.6 1z" fill="#d3534f"/><path d="M170.8 382.4l1.6-1.4-1-1.2-1.5 1.5zM177 378.9l1.6 0-1-1.2-1.6.1zM178.6 378.9l1.5 0-1-1.1-1.5-.1zM200.2 371.4l1.6-1.2-1.1-.9-1.5 1.1zM201.8 370.2l1.6-1-1.1-1-1.6 1.1z" fill="#cf433f"/><path d="M172.4 381l1.5-1.1-.9-1.1-1.6 1zM173.9 379.9l1.6-.6-1-1.2-1.5.7zM175.5 379.3l1.5-.4-1-1.1-1.5.3z" fill="#cb342f"/><path d="M184.7 378.2l1.6-.5-1-1.1-1.6.5zM186.3 377.7l1.5-.6-1-1.1-1.5.6zM187.8 377.1l1.6-.6-1-1-1.6.5zM189.4 376.5l1.5-.6-1-1-1.5.6zM190.9 375.9l1.6-.6-1.1-1-1.5.6zM192.5 375.3l1.5-.6-1-1-1.6.6zM194 374.7l1.6-.6-1.1-1-1.5.6zM195.6 374.1l1.5-.8-1-1-1.6.8z" fill="#d7635f"/><path d="M164.2 398.9l1.5-1.1-.9-1.2-1.5 1.2z" fill="#ffffff"/><path d="M165.7 397.8l1.5-2.8-.9-1.3-1.5 2.9z" fill="#fbefef"/><path d="M167.2 395l1.5-4.4-.9-1.6-1.5 4.7z" fill="#efc0bf"/><path d="M168.7 390.6l1.5-4.1-.9-1.9-1.5 4.4z" fill="#df827f"/><path d="M170.2 386.5l1.6-2-1-2.1-1.5 2.2zM182.6 380.8l1.6-.3-1-1.9-1.5.3zM184.2 380.5l1.5-.4-1-1.9-1.5.4zM185.7 380.1l1.6-.6-1-1.8-1.6.5zM187.3 379.5l1.5-.6-1-1.8-1.5.6zM188.8 378.9l1.6-.6-1-1.8-1.6.6zM190.4 378.3l1.5-.6-1-1.8-1.5.6zM191.9 377.7l1.6-.6-1-1.8-1.6.6zM193.5 377.1l1.5-.6-1-1.8-1.5.6zM195 376.5l1.6-.7-1-1.7-1.6.6zM196.6 375.8l1.5-.7-1-1.8-1.5.8zM198.1 375.1l1.6-.9-1-1.8-1.6.9z" fill="#d7635f"/><path d="M171.8 384.5l1.5-1.4-.9-2.1-1.6 1.4zM179.6 380.9l1.5 0-1-2-1.5 0zM181.1 380.9l1.5-.1-.9-1.9-1.6 0zM199.7 374.2l1.6-1-1.1-1.8-1.5 1zM201.3 373.2l1.6-1.1-1.1-1.9-1.6 1.2zM202.9 372.1l1.5-1-1-1.9-1.6 1z" fill="#d3534f"/><path d="M173.3 383.1l1.6-1.1-1-2.1-1.5 1.1zM174.9 382l1.5-.6-.9-2.1-1.6.6zM176.4 381.4l1.6-.4-1-2.1-1.5.4zM178 381l1.6-.1-1-2-1.6 0z" fill="#cf433f"/><path d="M165.1 400l1.6-1-1-1.2-1.5 1.1z" fill="#ffffff"/><path d="M166.7 399l1.5-2.1-1-1.9-1.5 2.8z" fill="#fbefef"/><path d="M168.2 396.9l1.5-3.2-1-3.1-1.5 4.4z" fill="#f3d0cf"/><path d="M169.7 393.7l1.5-3-1-4.2-1.5 4.1z" fill="#e7a19f"/><path d="M171.2 390.7l1.5-1.6-.9-4.6-1.6 2zM183.6 385.1l1.5-.4-.9-4.2-1.6.3zM185.1 384.7l1.6-.5-1-4.1-1.5.4zM186.7 384.2l1.5-.6-.9-4.1-1.6.6zM188.2 383.6l1.6-.6-1-4.1-1.5.6zM189.8 383l1.5-.6-.9-4.1-1.6.6zM191.3 382.4l1.6-.6-1-4.1-1.5.6zM192.9 381.8l1.5-.6-.9-4.1-1.6.6zM194.4 381.2l1.6-.7-1-4-1.5.6zM196 380.5l1.5-.6-.9-4.1-1.6.7zM197.5 379.9l1.6-.7-1-4.1-1.5.7zM199.1 379.2l1.5-.9-.9-4.1-1.6.9zM200.6 378.3l1.6-.9-.9-4.2-1.6 1z" fill="#df827f"/><path d="M172.7 389.1l1.6-1.2-1-4.8-1.5 1.4zM179 385.9l1.5-.3-.9-4.7-1.6.1zM180.5 385.6l1.5-.2-.9-4.5-1.5 0zM182 385.4l1.6-.3-1-4.3-1.5.1zM202.2 377.4l1.6-.9-.9-4.4-1.6 1.1zM203.8 376.5l1.5-.9-.9-4.5-1.5 1z" fill="#db726f"/><path d="M174.3 387.9l1.5-.9-.9-5-1.6 1.1zM175.8 387l1.6-.7-1-4.9-1.5.6zM177.4 386.3l1.6-.4-1-4.9-1.6.4z" fill="#d7635f"/><path d="M166 401.1l1.6-.8-.9-1.3-1.6 1z" fill="#ffffff"/><path d="M167.6 400.3l1.5-1.3-.9-2.1-1.5 2.1z" fill="#fbefef"/><path d="M169.1 399l1.5-1.7-.9-3.6-1.5 3.2z" fill="#f7e0df"/><path d="M170.6 397.3l1.6-1.7-1-4.9-1.5 3z" fill="#efc0bf"/><path d="M172.2 395.6l1.5-1-1-5.5-1.5 1.6zM173.7 394.6l1.5-.9-.9-5.8-1.6 1.2zM179.9 391.7l1.5-.5-.9-5.6-1.5.3zM181.4 391.2l1.6-.5-1-5.3-1.5.2zM183 390.7l1.5-.5-.9-5.1-1.6.3zM184.5 390.2l1.6-.5-1-5-1.5.4zM186.1 389.7l1.5-.6-.9-4.9-1.6.5zM187.6 389.1l1.5-.6-.9-4.9-1.5.6zM189.1 388.5l1.6-.7-.9-4.8-1.6.6zM190.7 387.8l1.5-.6-.9-4.8-1.5.6zM192.2 387.2l1.6-.6-.9-4.8-1.6.6zM193.8 386.6l1.5-.7-.9-4.7-1.5.6zM195.3 385.9l1.6-.6-.9-4.8-1.6.7zM196.9 385.3l1.5-.7-.9-4.7-1.5.6zM198.4 384.6l1.5-.7-.8-4.7-1.6.7zM199.9 383.9l1.6-.7-.9-4.9-1.5.9zM201.5 383.2l1.5-.8-.8-5-1.6.9zM203 382.4l1.6-.8-.8-5.1-1.6.9zM204.6 381.6l1.5-.7-.8-5.3-1.5.9z" fill="#ebb1af"/><path d="M175.2 393.7l1.6-.8-1-5.9-1.5.9zM176.8 392.9l1.5-.6-.9-6-1.6.7zM178.3 392.3l1.6-.6-.9-5.8-1.6.4z" fill="#e7a19f"/><path d="M166.9 402.2l1.6-.7-.9-1.2-1.6.8zM168.5 401.5l1.5-.8-.9-1.7-1.5 1.3z" fill="#ffffff"/><path d="M170 400.7l1.6-.9-1-2.5-1.5 1.7zM171.6 399.8l1.5-.8-.9-3.4-1.6 1.7z" fill="#fbefef"/><path d="M173.1 399l1.6-.8-1-3.6-1.5 1zM174.7 398.2l1.5-.7-1-3.8-1.5.9zM176.2 397.5l1.5-.6-.9-4-1.6.8zM177.7 396.9l1.6-.7-1-3.9-1.5.6zM179.3 396.2l1.5-.6-.9-3.9-1.6.6zM180.8 395.6l1.6-.7-1-3.7-1.5.5zM182.4 394.9l1.5-.6-.9-3.6-1.6.5zM183.9 394.3l1.6-.6-1-3.5-1.5.5zM185.5 393.7l1.5-.7-.9-3.3-1.6.5zM187 393l1.5-.6-.9-3.3-1.5.6zM188.5 392.4l1.6-.7-1-3.2-1.5.6zM190.1 391.7l1.5-.6-.9-3.3-1.6.7zM191.6 391.1l1.6-.7-1-3.2-1.5.6zM193.2 390.4l1.5-.6-.9-3.2-1.6.6zM194.7 389.8l1.6-.7-1-3.2-1.5.7zM196.3 389.1l1.5-.7-.9-3.1-1.6.6zM197.8 388.4l1.5-.6-.9-3.2-1.5.7zM199.3 387.8l1.6-.7-1-3.2-1.5.7zM200.9 387.1l1.5-.7-.9-3.2-1.6.7zM202.4 386.4l1.6-.6-1-3.4-1.5.8zM204 385.8l1.5-.7-.9-3.5-1.6.8zM205.5 385.1l1.6-.7-1-3.5-1.5.7z" fill="#f7e0df"/><path d="M167.8 403.2l1.6-.6-.9-1.1-1.6.7zM169.4 402.6l1.5-.7-.9-1.2-1.5.8zM170.9 401.9l1.6-.7-.9-1.4-1.6.9zM172.5 401.2l1.5-.6-.9-1.6-1.5.8zM174 400.6l1.6-.7-.9-1.7-1.6.8zM175.6 399.9l1.5-.7-.9-1.7-1.5.7zM177.1 399.2l1.6-.6-1-1.7-1.5.6zM178.7 398.6l1.5-.7-.9-1.7-1.6.7zM180.2 397.9l1.6-.7-1-1.6-1.5.6zM181.8 397.2l1.5-.6-.9-1.7-1.6.7zM183.3 396.6l1.6-.7-1-1.6-1.5.6zM184.9 395.9l1.5-.7-.9-1.5-1.6.6zM186.4 395.2l1.6-.6-1-1.6-1.5.7zM188 394.6l1.5-.7-1-1.5-1.5.6zM189.5 393.9l1.6-.7-1-1.5-1.6.7zM191.1 393.2l1.5-.7-1-1.4-1.5.6zM192.6 392.5l1.6-.6-1-1.5-1.6.7zM194.2 391.9l1.5-.7-1-1.4-1.5.6zM195.7 391.2l1.6-.7-1-1.4-1.6.7zM197.3 390.5l1.5-.6-1-1.5-1.5.7zM198.8 389.9l1.6-.7-1.1-1.4-1.5.6zM200.4 389.2l1.5-.7-1-1.4-1.6.7zM201.9 388.5l1.6-.6-1.1-1.5-1.5.7zM203.5 387.9l1.5-.7-1-1.4-1.6.6zM205 387.2l1.6-.7-1.1-1.4-1.5.7zM206.6 386.5l1.5-.7-1-1.4-1.6.7z" fill="#ffffff"/></g>
<text x="175.7" y="330.5" font-size="6.2" text-anchor="middle" textLength="43.6" lengthAdjust="spacingAndGlyphs">ZIP synergy score: 7.091</text>
<defs><linearGradient id="cbg2" x1="0" x2="1" y1="0" y2="0"><stop offset="0" stop-color="#3e9130"/><stop offset="0.5" stop-color="#fff"/><stop offset="1" stop-color="#c7241f"/></linearGradient></defs>
<rect x="135.2" y="339.4" width="82.7" height="1.6" fill="url(#cbg2)"/>
<text x="135.2" y="338.0" font-size="3.4" text-anchor="middle" fill="#333">-20</text>
<text x="145.5" y="338.0" font-size="3.4" text-anchor="middle" fill="#333">-15</text>
<text x="155.9" y="338.0" font-size="3.4" text-anchor="middle" fill="#333">-10</text>
<text x="166.2" y="338.0" font-size="3.4" text-anchor="middle" fill="#333">-5</text>
<text x="176.6" y="338.0" font-size="3.4" text-anchor="middle" fill="#333">0</text>
<text x="186.9" y="338.0" font-size="3.4" text-anchor="middle" fill="#333">5</text>
<text x="197.2" y="338.0" font-size="3.4" text-anchor="middle" fill="#333">10</text>
<text x="207.6" y="338.0" font-size="3.4" text-anchor="middle" fill="#333">15</text>
<text x="217.9" y="338.0" font-size="3.4" text-anchor="middle" fill="#333">20</text>
<text x="142.5" y="358.6" font-size="3.5" text-anchor="end" fill="#333">20</text>
<line x1="142.60" y1="357.40" x2="143.50" y2="357.40" stroke="#555" stroke-width="0.3"/>
<text x="142.7" y="362.9" font-size="3.5" text-anchor="end" fill="#333">15</text>
<line x1="142.79" y1="361.72" x2="143.69" y2="361.72" stroke="#555" stroke-width="0.3"/>
<text x="142.9" y="367.2" font-size="3.5" text-anchor="end" fill="#333">10</text>
<line x1="142.97" y1="366.05" x2="143.88" y2="366.05" stroke="#555" stroke-width="0.3"/>
<text x="143.1" y="371.6" font-size="3.5" text-anchor="end" fill="#333">5</text>
<line x1="143.16" y1="370.38" x2="144.06" y2="370.38" stroke="#555" stroke-width="0.3"/>
<text x="143.2" y="375.9" font-size="3.5" text-anchor="end" fill="#333">0</text>
<line x1="143.35" y1="374.70" x2="144.25" y2="374.70" stroke="#555" stroke-width="0.3"/>
<text x="143.4" y="380.2" font-size="3.5" text-anchor="end" fill="#333">-5</text>
<line x1="143.54" y1="379.02" x2="144.44" y2="379.02" stroke="#555" stroke-width="0.3"/>
<text x="143.6" y="384.6" font-size="3.5" text-anchor="end" fill="#333">-10</text>
<line x1="143.72" y1="383.35" x2="144.62" y2="383.35" stroke="#555" stroke-width="0.3"/>
<text x="143.8" y="388.9" font-size="3.5" text-anchor="end" fill="#333">-15</text>
<line x1="143.91" y1="387.68" x2="144.81" y2="387.68" stroke="#555" stroke-width="0.3"/>
<text x="144.0" y="393.2" font-size="3.5" text-anchor="end" fill="#333">-20</text>
<line x1="144.10" y1="392.00" x2="145.00" y2="392.00" stroke="#555" stroke-width="0.3"/>
<text x="133.7" y="374.7" font-size="4.6" text-anchor="middle" fill="#222" textLength="15.5" lengthAdjust="spacingAndGlyphs" transform="rotate(-90 133.7 374.7)">δ - score</text>
<text x="146.0" y="398.7" font-size="3.5" text-anchor="end" fill="#333">313</text>
<text x="150.2" y="404.3" font-size="3.5" text-anchor="end" fill="#333">156</text>
<text x="154.5" y="409.8" font-size="3.5" text-anchor="end" fill="#333">78</text>
<text x="158.8" y="415.4" font-size="3.5" text-anchor="end" fill="#333">39</text>
<text x="163.1" y="421.0" font-size="3.5" text-anchor="end" fill="#333">20</text>
<text x="144.6" y="413.5" font-size="5.8" text-anchor="middle" font-weight="bold" fill="#111" textLength="21.0" lengthAdjust="spacingAndGlyphs" transform="rotate(52.4 144.6 413.5)">ELTA (nM)</text>
<text x="173.9" y="424.1" font-size="3.5" text-anchor="middle" fill="#333">156.3</text>
<line x1="173.40" y1="419.48" x2="173.60" y2="420.38" stroke="#555" stroke-width="0.3"/>
<text x="182.7" y="419.9" font-size="3.5" text-anchor="middle" fill="#333">312.5</text>
<line x1="182.25" y1="415.27" x2="182.45" y2="416.17" stroke="#555" stroke-width="0.3"/>
<text x="191.6" y="415.7" font-size="3.5" text-anchor="middle" fill="#333">625</text>
<line x1="191.09" y1="411.07" x2="191.29" y2="411.97" stroke="#555" stroke-width="0.3"/>
<text x="200.4" y="411.5" font-size="3.5" text-anchor="middle" fill="#333">1250</text>
<line x1="199.93" y1="406.86" x2="200.13" y2="407.76" stroke="#555" stroke-width="0.3"/>
<text x="193.6" y="422.8" font-size="5.8" text-anchor="middle" font-weight="bold" fill="#111" textLength="19.0" lengthAdjust="spacingAndGlyphs" transform="rotate(-25.4 193.6 422.8)">VEN (nM)</text>
<line x1="36.00" y1="36.00" x2="116.80" y2="36.00" stroke="#000" stroke-width="0.5" stroke-opacity="0.07"/>
<line x1="36.00" y1="49.00" x2="116.80" y2="49.00" stroke="#000" stroke-width="0.5" stroke-opacity="0.07"/>
<line x1="36.00" y1="62.00" x2="116.80" y2="62.00" stroke="#000" stroke-width="0.5" stroke-opacity="0.07"/>
<line x1="36.00" y1="75.00" x2="116.80" y2="75.00" stroke="#000" stroke-width="0.5" stroke-opacity="0.07"/>
<line x1="36.00" y1="88.00" x2="116.80" y2="88.00" stroke="#000" stroke-width="0.5" stroke-opacity="0.07"/>
<line x1="36.00" y1="101.00" x2="116.80" y2="101.00" stroke="#000" stroke-width="0.5" stroke-opacity="0.07"/>
<line x1="36.00" y1="114.00" x2="116.80" y2="114.00" stroke="#000" stroke-width="0.5" stroke-opacity="0.07"/>
<line x1="36.00" y1="127.00" x2="116.80" y2="127.00" stroke="#000" stroke-width="0.5" stroke-opacity="0.07"/>
<line x1="37.00" y1="35.20" x2="37.00" y2="127.80" stroke="#000" stroke-width="0.5" stroke-opacity="0.07"/>
<line x1="50.10" y1="35.20" x2="50.10" y2="127.80" stroke="#000" stroke-width="0.5" stroke-opacity="0.07"/>
<line x1="63.20" y1="35.20" x2="63.20" y2="127.80" stroke="#000" stroke-width="0.5" stroke-opacity="0.07"/>
<line x1="76.30" y1="35.20" x2="76.30" y2="127.80" stroke="#000" stroke-width="0.5" stroke-opacity="0.07"/>
<line x1="89.40" y1="35.20" x2="89.40" y2="127.80" stroke="#000" stroke-width="0.5" stroke-opacity="0.07"/>
<line x1="102.50" y1="35.20" x2="102.50" y2="127.80" stroke="#000" stroke-width="0.5" stroke-opacity="0.07"/>
<line x1="115.60" y1="35.20" x2="115.60" y2="127.80" stroke="#000" stroke-width="0.5" stroke-opacity="0.07"/>
<path d="M106.9,56.7 108.5,56.2 110.1,55.2 110.7,54.2 110.4,53.2 109.0,52.3 107.0,51.7 101.5,51.3 97.5,51.6 94.5,52.2 92.9,52.7 91.5,53.7 91.4,54.2 92.5,55.2 97.4,56.7 102.5,57.2 106.9,56.7 M116.5,51.6 115.5,51.5 113.0,50.1 109.0,49.3 103.0,49.0 97.0,49.2 92.0,49.9 88.3,50.7 86.5,52.2 85.9,54.2 86.2,55.2 87.0,56.2 89.0,57.4 95.0,58.9 100.5,59.6 105.0,59.6 109.5,59.1 112.5,58.2 114.5,57.2 115.5,56.4 116.5,56.3 M116.5,47.7 101.0,47.2 88.5,48.0 86.0,48.7 84.7,49.7 83.8,51.2 83.3,53.7 83.5,55.2 84.0,56.2 85.0,57.4 86.5,58.6 89.0,59.7 95.5,61.2 101.0,62.0 106.5,61.9 111.0,61.5 115.5,60.3 116.5,60.3 M116.5,46.0 100.5,45.8 88.5,46.2 85.1,46.7 82.5,47.5 81.2,48.2 80.9,49.2 81.0,54.7 81.8,56.7 83.0,58.2 84.5,59.6 88.0,61.5 94.3,63.2 100.5,64.0 109.5,64.0 116.5,63.4 M116.5,44.8 97.5,44.6 86.5,44.9 81.5,45.7 79.0,46.6 77.1,47.7 76.3,48.7 76.3,49.2 78.1,52.7 79.6,56.7 80.8,58.7 84.0,61.6 87.0,63.3 93.0,64.8 100.0,65.7 109.0,65.9 116.5,65.5 M116.5,43.6 89.0,43.6 83.5,44.0 78.5,44.8 74.0,46.2 71.9,47.7 71.4,49.2 72.0,50.2 75.4,53.7 78.3,58.7 79.9,60.7 82.5,63.1 85.5,64.6 90.0,65.9 99.0,67.2 108.5,67.5 116.5,67.2 M116.5,122.9 110.0,123.9 103.0,124.5 92.5,125.0 78.5,125.2 44.5,125.2 42.0,124.7 40.0,123.2 38.8,120.7 38.3,116.7 38.3,72.2 39.2,54.2 39.6,52.2 40.7,49.2 41.7,43.2 41.5,42.2 40.1,39.2 39.6,35.2 M116.5,41.6 85.0,41.9 64.9,42.7 62.6,43.2 61.1,44.2 60.3,45.7 59.9,48.7 60.3,49.7 61.1,50.2 66.0,52.3 68.5,53.8 70.5,56.0 74.4,61.7 75.9,63.2 79.0,65.2 83.0,67.1 88.5,68.7 98.5,70.3 108.5,70.8 116.5,70.7 M116.5,40.8 76.5,41.3 58.0,40.7 45.0,40.7 43.5,40.3 42.5,39.2 41.4,35.2 M116.5,120.2 115.5,120.3 111.5,121.6 107.0,122.4 91.0,123.7 78.5,124.0 45.0,124.0 43.0,123.6 41.4,122.7 40.2,121.2 39.6,119.7 39.2,117.7 39.1,114.2 39.1,72.2 40.0,59.2 40.8,53.7 42.0,51.3 44.5,49.1 50.0,49.0 52.0,49.3 62.6,53.2 64.6,54.2 67.6,56.7 71.9,62.2 74.0,64.2 77.1,66.2 82.5,68.6 88.5,70.3 98.5,72.1 109.0,72.9 116.5,73.0 M116.5,40.0 91.0,40.6 71.5,40.2 60.0,38.9 51.0,36.5 45.0,36.6 44.3,36.2 43.6,35.2 M116.5,114.0 116.0,114.0 115.5,114.9 115.2,116.7 114.6,117.7 112.5,119.2 107.5,120.8 100.0,121.9 92.0,122.5 81.5,122.9 50.0,123.0 44.5,122.9 43.0,122.5 42.0,121.9 40.4,119.7 39.8,116.7 39.7,87.2 39.9,69.7 41.1,59.2 42.0,54.7 43.1,52.7 44.0,52.0 45.0,51.8 51.5,52.1 56.2,53.2 59.5,54.6 64.0,57.2 66.0,58.8 72.3,65.2 75.0,67.1 78.4,68.7 86.5,71.6 107.5,76.1 112.7,77.7 115.5,79.1 116.5,79.2 M116.5,39.0 91.5,39.9 75.5,39.5 71.5,39.1 67.0,38.2 61.4,36.7 58.1,35.2 M88.5,121.7 78.0,122.1 45.0,122.1 43.0,121.5 41.5,120.1 40.6,117.7 40.4,114.7 40.4,72.7 41.0,66.5 42.4,58.7 43.4,55.7 44.5,54.4 51.0,54.8 56.0,56.5 64.0,60.8 71.3,66.7 75.0,69.1 83.0,72.4 96.3,76.7 103.5,79.4 108.2,82.2 111.2,85.2 112.2,87.2 112.7,89.7 113.2,99.7 112.8,108.7 112.0,114.2 111.3,116.7 110.5,117.7 109.5,118.3 105.0,119.8 97.5,121.0 88.5,121.7 M116.5,37.7 92.5,38.9 83.5,38.8 76.0,38.3 72.5,37.8 68.4,36.7 64.5,35.2 M77.0,121.2 45.0,121.2 43.3,120.7 41.8,119.2 41.2,117.2 41.0,114.2 41.0,73.6 41.4,69.2 42.2,64.7 43.5,59.9 44.5,58.3 45.0,58.1 51.0,58.8 57.0,60.8 65.0,64.4 72.0,69.3 75.5,71.4 96.8,80.7 100.5,83.0 103.5,85.4 105.6,87.7 107.8,91.2 108.9,93.7 109.5,96.3 109.9,99.2 109.9,102.7 109.5,107.2 108.5,112.2 107.5,115.7 106.6,117.2 103.2,118.7 96.0,120.1 88.0,120.8 77.0,121.2 M116.5,36.2 94.5,37.5 88.0,37.7 75.5,36.7 73.0,36.2 70.1,35.2 M81.5,120.2 45.0,120.4 43.5,119.9 42.5,118.9 41.8,117.2 41.6,114.2 41.6,74.2 42.5,67.2 43.5,64.1 44.5,62.5 45.0,62.3 48.0,62.5 53.5,63.3 59.5,64.9 65.0,67.0 74.0,72.9 79.0,75.9 90.8,81.7 94.5,83.9 99.0,87.7 104.0,93.7 105.0,95.7 105.9,98.2 106.2,100.7 106.1,103.2 105.6,106.7 104.6,110.7 103.3,114.7 102.1,116.7 99.5,118.0 95.0,119.0 90.0,119.6 81.5,120.2 M102.5,35.2 89.5,35.9 80.6,35.2 M82.0,119.2 45.0,119.5 44.0,119.2 43.0,118.2 42.5,116.7 42.2,110.2 42.3,74.7 43.0,69.0 43.6,67.2 44.5,65.8 45.0,65.6 50.0,65.8 54.0,66.3 60.0,67.8 65.0,69.5 69.0,72.2 75.5,77.7 85.6,83.2 90.5,86.3 95.5,90.7 99.1,94.7 100.3,96.7 101.1,98.7 101.4,100.7 101.4,102.7 100.9,105.7 100.0,109.2 98.3,113.7 97.2,115.7 96.4,116.7 93.5,117.8 89.5,118.5 82.0,119.2 M79.5,118.2 45.0,118.4 43.8,117.7 43.2,115.7 43.0,109.7 42.9,78.2 43.3,72.2 43.8,70.2 44.5,68.8 45.0,68.6 50.0,68.7 54.0,69.1 59.0,70.3 64.2,72.2 66.8,74.2 69.6,77.7 72.0,80.1 81.6,86.2 86.0,89.9 91.5,93.7 94.4,96.7 95.5,98.7 95.9,100.2 95.6,104.2 94.0,109.2 91.2,114.2 90.0,115.6 88.5,116.7 84.4,117.7 79.5,118.2 M50.5,116.2 45.0,116.2 44.4,114.7 43.9,104.7 43.9,82.7 44.1,74.7 44.5,72.9 45.0,72.4 52.8,72.7 56.0,73.7 57.7,74.7 68.1,87.2 75.1,97.7 75.9,99.2 76.3,100.7 76.3,113.7 74.0,113.9 62.5,114.0 55.0,115.7 50.5,116.2" fill="none" stroke="#fff" stroke-width="0.4" stroke-opacity="0.35"/>
<text x="118.4" y="30.1" font-size="8.4" text-anchor="middle" fill="#111" textLength="30.8" lengthAdjust="spacingAndGlyphs">MV-4-11</text>
<text x="31.4" y="38.0" font-size="5.8" text-anchor="end" fill="#111" textLength="9.6" lengthAdjust="spacingAndGlyphs" stroke="#111" stroke-width="0.12">200</text>
<line x1="32.60" y1="36.00" x2="36.00" y2="36.00" stroke="#000" stroke-width="0.5" stroke-opacity="0.25"/>
<text x="31.4" y="51.0" font-size="5.8" text-anchor="end" fill="#111" textLength="9.6" lengthAdjust="spacingAndGlyphs" stroke="#111" stroke-width="0.12">100</text>
<line x1="32.60" y1="49.00" x2="36.00" y2="49.00" stroke="#000" stroke-width="0.5" stroke-opacity="0.25"/>
<text x="31.4" y="64.0" font-size="5.8" text-anchor="end" fill="#111" textLength="6.4" lengthAdjust="spacingAndGlyphs" stroke="#111" stroke-width="0.12">50</text>
<line x1="32.60" y1="62.00" x2="36.00" y2="62.00" stroke="#000" stroke-width="0.5" stroke-opacity="0.25"/>
<text x="31.4" y="77.0" font-size="5.8" text-anchor="end" fill="#111" textLength="6.4" lengthAdjust="spacingAndGlyphs" stroke="#111" stroke-width="0.12">25</text>
<line x1="32.60" y1="75.00" x2="36.00" y2="75.00" stroke="#000" stroke-width="0.5" stroke-opacity="0.25"/>
<text x="31.4" y="90.0" font-size="5.8" text-anchor="end" fill="#111" textLength="11.2" lengthAdjust="spacingAndGlyphs" stroke="#111" stroke-width="0.12">12.5</text>
<line x1="32.60" y1="88.00" x2="36.00" y2="88.00" stroke="#000" stroke-width="0.5" stroke-opacity="0.25"/>
<text x="31.4" y="103.0" font-size="5.8" text-anchor="end" fill="#111" textLength="8.0" lengthAdjust="spacingAndGlyphs" stroke="#111" stroke-width="0.12">6.2</text>
<line x1="32.60" y1="101.00" x2="36.00" y2="101.00" stroke="#000" stroke-width="0.5" stroke-opacity="0.25"/>
<text x="31.4" y="116.0" font-size="5.8" text-anchor="end" fill="#111" textLength="8.0" lengthAdjust="spacingAndGlyphs" stroke="#111" stroke-width="0.12">3.1</text>
<line x1="32.60" y1="114.00" x2="36.00" y2="114.00" stroke="#000" stroke-width="0.5" stroke-opacity="0.25"/>
<text x="31.4" y="129.0" font-size="5.8" text-anchor="end" fill="#111" textLength="3.2" lengthAdjust="spacingAndGlyphs" stroke="#111" stroke-width="0.12">0</text>
<line x1="32.60" y1="127.00" x2="36.00" y2="127.00" stroke="#000" stroke-width="0.5" stroke-opacity="0.25"/>
<text x="37.0" y="138.5" font-size="5.8" text-anchor="middle" fill="#111" textLength="3.2" lengthAdjust="spacingAndGlyphs" stroke="#111" stroke-width="0.12">0</text>
<line x1="37.00" y1="127.80" x2="37.00" y2="129.00" stroke="#000" stroke-width="0.5" stroke-opacity="0.25"/>
<text x="50.1" y="138.5" font-size="5.8" text-anchor="middle" fill="#111" textLength="8.0" lengthAdjust="spacingAndGlyphs" stroke="#111" stroke-width="0.12">3.1</text>
<line x1="50.10" y1="127.80" x2="50.10" y2="129.00" stroke="#000" stroke-width="0.5" stroke-opacity="0.25"/>
<text x="63.2" y="138.5" font-size="5.8" text-anchor="middle" fill="#111" textLength="8.0" lengthAdjust="spacingAndGlyphs" stroke="#111" stroke-width="0.12">6.2</text>
<line x1="63.20" y1="127.80" x2="63.20" y2="129.00" stroke="#000" stroke-width="0.5" stroke-opacity="0.25"/>
<text x="76.3" y="138.5" font-size="5.8" text-anchor="middle" fill="#111" textLength="11.2" lengthAdjust="spacingAndGlyphs" stroke="#111" stroke-width="0.12">12.5</text>
<line x1="76.30" y1="127.80" x2="76.30" y2="129.00" stroke="#000" stroke-width="0.5" stroke-opacity="0.25"/>
<text x="89.4" y="138.5" font-size="5.8" text-anchor="middle" fill="#111" textLength="6.4" lengthAdjust="spacingAndGlyphs" stroke="#111" stroke-width="0.12">25</text>
<line x1="89.40" y1="127.80" x2="89.40" y2="129.00" stroke="#000" stroke-width="0.5" stroke-opacity="0.25"/>
<text x="102.5" y="138.5" font-size="5.8" text-anchor="middle" fill="#111" textLength="6.4" lengthAdjust="spacingAndGlyphs" stroke="#111" stroke-width="0.12">50</text>
<line x1="102.50" y1="127.80" x2="102.50" y2="129.00" stroke="#000" stroke-width="0.5" stroke-opacity="0.25"/>
<text x="115.6" y="138.5" font-size="5.8" text-anchor="middle" fill="#111" textLength="9.6" lengthAdjust="spacingAndGlyphs" stroke="#111" stroke-width="0.12">100</text>
<line x1="115.60" y1="127.80" x2="115.60" y2="129.00" stroke="#000" stroke-width="0.5" stroke-opacity="0.25"/>
<text x="76.0" y="149.8" font-size="7.6" text-anchor="middle" font-weight="bold" fill="#111" textLength="24.8" lengthAdjust="spacingAndGlyphs">VEN (nM)</text>
<text x="15.3" y="82.5" font-size="7.0" text-anchor="middle" font-weight="bold" fill="#111" textLength="25.5" lengthAdjust="spacingAndGlyphs" transform="rotate(-90 15.3 82.5)">ELTA (nM)</text>
<rect x="50.0" y="88.2" width="26.6" height="26.4" fill="none" stroke="#fff" stroke-width="0.55" stroke-opacity="0.5"/>
<line x1="36.00" y1="182.30" x2="118.40" y2="182.30" stroke="#000" stroke-width="0.5" stroke-opacity="0.07"/>
<line x1="36.00" y1="198.00" x2="118.40" y2="198.00" stroke="#000" stroke-width="0.5" stroke-opacity="0.07"/>
<line x1="36.00" y1="213.60" x2="118.40" y2="213.60" stroke="#000" stroke-width="0.5" stroke-opacity="0.07"/>
<line x1="36.00" y1="229.00" x2="118.40" y2="229.00" stroke="#000" stroke-width="0.5" stroke-opacity="0.07"/>
<line x1="36.00" y1="244.30" x2="118.40" y2="244.30" stroke="#000" stroke-width="0.5" stroke-opacity="0.07"/>
<line x1="36.00" y1="259.50" x2="118.40" y2="259.50" stroke="#000" stroke-width="0.5" stroke-opacity="0.07"/>
<line x1="36.00" y1="274.80" x2="118.40" y2="274.80" stroke="#000" stroke-width="0.5" stroke-opacity="0.07"/>
<line x1="37.00" y1="181.00" x2="37.00" y2="276.00" stroke="#000" stroke-width="0.5" stroke-opacity="0.07"/>
<line x1="50.60" y1="181.00" x2="50.60" y2="276.00" stroke="#000" stroke-width="0.5" stroke-opacity="0.07"/>
<line x1="64.20" y1="181.00" x2="64.20" y2="276.00" stroke="#000" stroke-width="0.5" stroke-opacity="0.07"/>
<line x1="77.80" y1="181.00" x2="77.80" y2="276.00" stroke="#000" stroke-width="0.5" stroke-opacity="0.07"/>
<line x1="91.00" y1="181.00" x2="91.00" y2="276.00" stroke="#000" stroke-width="0.5" stroke-opacity="0.07"/>
<line x1="104.10" y1="181.00" x2="104.10" y2="276.00" stroke="#000" stroke-width="0.5" stroke-opacity="0.07"/>
<line x1="117.10" y1="181.00" x2="117.10" y2="276.00" stroke="#000" stroke-width="0.5" stroke-opacity="0.07"/>
<path d="M52.4,217.5 54.0,216.1 55.0,214.5 55.3,212.5 55.4,209.5 55.0,206.5 54.2,204.0 53.0,202.1 51.5,201.2 50.5,201.4 49.5,202.2 48.1,204.5 47.2,207.5 47.0,211.0 47.4,214.0 48.5,216.1 50.5,217.6 51.5,217.7 52.4,217.5 M52.8,221.0 55.8,218.5 57.8,215.5 58.3,213.5 58.3,208.5 57.5,203.0 55.7,198.0 54.5,196.0 53.0,194.3 52.0,193.6 51.0,193.4 49.5,194.0 47.8,195.5 46.5,197.3 45.2,200.0 44.3,203.0 43.8,206.0 43.6,213.0 43.8,215.0 44.4,217.0 46.1,219.5 47.6,220.5 49.5,221.2 51.5,221.4 52.8,221.0 M118.0,272.6 63.5,272.4 52.0,272.0 48.5,271.6 45.5,270.7 43.5,269.5 42.1,268.0 41.4,266.5 40.9,264.5 40.7,253.5 41.0,242.0 41.6,238.5 42.5,235.5 44.0,232.7 46.0,230.7 48.5,229.2 52.0,228.0 55.5,225.3 61.7,218.5 63.0,216.5 63.7,214.5 63.7,205.5 62.7,196.5 61.3,193.0 55.6,182.5 55.5,181.0 M118.0,271.2 63.5,270.9 52.5,270.3 49.5,269.9 47.0,269.1 45.3,268.0 43.9,266.5 43.3,265.0 43.0,263.0 42.9,253.0 43.3,243.0 43.7,240.5 44.5,238.0 45.9,235.5 47.5,233.9 49.0,232.9 52.5,231.4 54.5,229.8 59.0,224.5 64.5,218.7 65.6,217.0 66.2,215.0 66.2,203.5 65.9,197.5 65.5,195.0 64.4,192.0 58.6,182.5 58.5,181.0 M118.0,270.1 101.0,270.2 61.0,269.6 50.0,268.5 47.5,267.4 45.6,265.5 45.0,264.0 44.8,261.5 44.8,252.5 45.3,243.5 46.4,239.5 47.5,237.7 49.0,236.2 53.5,233.7 56.0,231.6 60.5,225.8 66.0,220.5 67.2,218.5 68.0,216.0 68.2,213.5 68.2,204.5 67.9,197.5 67.5,194.1 66.0,189.5 61.3,182.5 61.2,181.0 M118.0,269.1 101.5,269.2 62.0,268.6 51.5,267.4 49.1,266.5 47.5,265.0 47.1,264.0 46.7,261.5 46.6,256.0 47.3,244.5 48.0,241.5 48.9,240.0 50.0,238.7 54.0,236.3 56.5,234.2 62.0,227.4 67.0,222.8 68.8,220.0 69.7,217.0 70.0,214.0 69.9,207.5 69.7,197.5 69.3,194.0 67.9,188.5 66.5,185.5 64.4,182.5 64.2,181.0 M118.0,268.1 102.0,268.3 63.0,267.6 59.0,267.2 52.5,266.0 51.0,265.5 49.8,264.5 48.9,261.5 48.8,256.5 49.4,248.0 50.4,243.0 51.5,241.4 56.0,237.8 63.5,229.7 68.5,225.1 70.2,222.5 71.1,219.5 71.7,213.5 71.1,195.0 69.9,188.5 68.9,185.5 67.4,182.5 67.2,181.0 M118.0,267.2 102.0,267.4 63.0,266.5 59.5,266.0 56.2,265.0 54.4,264.0 52.5,261.7 52.0,259.5 52.5,253.5 55.3,243.0 57.9,239.5 62.0,235.1 63.5,233.8 68.0,231.0 70.0,229.3 71.7,227.0 72.8,224.0 73.4,220.0 73.6,214.5 73.1,197.0 72.2,189.5 71.2,185.5 70.1,182.5 70.0,181.0 M118.0,266.1 102.0,266.4 64.0,265.2 60.5,264.4 59.4,263.5 58.3,262.0 57.6,259.5 57.9,253.5 59.1,244.0 60.0,241.8 62.0,239.3 64.0,237.9 71.0,235.5 75.0,234.6 76.8,232.5 77.7,230.0 77.7,227.0 76.1,216.5 74.8,193.0 73.9,187.0 72.9,182.5 72.8,181.0 M118.0,264.5 107.0,265.1 97.5,264.8 89.1,264.0 78.5,262.3 68.0,261.1 65.5,260.5 64.5,260.0 64.2,259.0 64.7,256.0 65.4,254.0 66.5,252.1 69.3,249.5 76.0,245.8 81.0,241.4 82.5,239.4 83.5,237.5 84.9,232.5 85.2,229.5 85.0,226.5 84.3,223.5 81.9,216.5 81.1,213.5 76.6,181.0 M118.0,229.0 117.5,229.0 117.4,245.5 116.0,253.5 115.0,256.6 113.6,259.5 112.5,260.4 110.8,261.0 106.5,261.6 102.0,261.5 99.1,260.5 98.2,259.5 97.8,258.0 96.8,251.0 96.2,226.5 92.6,214.0 89.4,198.5 85.6,182.5 85.6,181.0" fill="none" stroke="#fff" stroke-width="0.4" stroke-opacity="0.35"/>
<text x="120.6" y="175.3" font-size="8.4" text-anchor="middle" fill="#111" textLength="36.8" lengthAdjust="spacingAndGlyphs">MOLM-13</text>
<text x="31.4" y="184.3" font-size="5.8" text-anchor="end" fill="#111" textLength="9.6" lengthAdjust="spacingAndGlyphs" stroke="#111" stroke-width="0.12">100</text>
<line x1="32.60" y1="182.30" x2="36.00" y2="182.30" stroke="#000" stroke-width="0.5" stroke-opacity="0.25"/>
<text x="31.4" y="200.0" font-size="5.8" text-anchor="end" fill="#111" textLength="6.4" lengthAdjust="spacingAndGlyphs" stroke="#111" stroke-width="0.12">50</text>
<line x1="32.60" y1="198.00" x2="36.00" y2="198.00" stroke="#000" stroke-width="0.5" stroke-opacity="0.25"/>
<text x="31.4" y="215.6" font-size="5.8" text-anchor="end" fill="#111" textLength="6.4" lengthAdjust="spacingAndGlyphs" stroke="#111" stroke-width="0.12">25</text>
<line x1="32.60" y1="213.60" x2="36.00" y2="213.60" stroke="#000" stroke-width="0.5" stroke-opacity="0.25"/>
<text x="31.4" y="231.0" font-size="5.8" text-anchor="end" fill="#111" textLength="11.2" lengthAdjust="spacingAndGlyphs" stroke="#111" stroke-width="0.12">12.5</text>
<line x1="32.60" y1="229.00" x2="36.00" y2="229.00" stroke="#000" stroke-width="0.5" stroke-opacity="0.25"/>
<text x="31.4" y="246.3" font-size="5.8" text-anchor="end" fill="#111" textLength="8.0" lengthAdjust="spacingAndGlyphs" stroke="#111" stroke-width="0.12">6.2</text>
<line x1="32.60" y1="244.30" x2="36.00" y2="244.30" stroke="#000" stroke-width="0.5" stroke-opacity="0.25"/>
<text x="31.4" y="261.5" font-size="5.8" text-anchor="end" fill="#111" textLength="8.0" lengthAdjust="spacingAndGlyphs" stroke="#111" stroke-width="0.12">3.1</text>
<line x1="32.60" y1="259.50" x2="36.00" y2="259.50" stroke="#000" stroke-width="0.5" stroke-opacity="0.25"/>
<text x="31.4" y="276.8" font-size="5.8" text-anchor="end" fill="#111" textLength="3.2" lengthAdjust="spacingAndGlyphs" stroke="#111" stroke-width="0.12">0</text>
<line x1="32.60" y1="274.80" x2="36.00" y2="274.80" stroke="#000" stroke-width="0.5" stroke-opacity="0.25"/>
<text x="37.0" y="285.2" font-size="5.8" text-anchor="middle" fill="#111" textLength="3.2" lengthAdjust="spacingAndGlyphs" stroke="#111" stroke-width="0.12">0</text>
<line x1="37.00" y1="276.00" x2="37.00" y2="277.20" stroke="#000" stroke-width="0.5" stroke-opacity="0.25"/>
<text x="50.6" y="285.2" font-size="5.8" text-anchor="middle" fill="#111" textLength="8.0" lengthAdjust="spacingAndGlyphs" stroke="#111" stroke-width="0.12">3.1</text>
<line x1="50.60" y1="276.00" x2="50.60" y2="277.20" stroke="#000" stroke-width="0.5" stroke-opacity="0.25"/>
<text x="64.2" y="285.2" font-size="5.8" text-anchor="middle" fill="#111" textLength="8.0" lengthAdjust="spacingAndGlyphs" stroke="#111" stroke-width="0.12">6.2</text>
<line x1="64.20" y1="276.00" x2="64.20" y2="277.20" stroke="#000" stroke-width="0.5" stroke-opacity="0.25"/>
<text x="77.8" y="285.2" font-size="5.8" text-anchor="middle" fill="#111" textLength="11.2" lengthAdjust="spacingAndGlyphs" stroke="#111" stroke-width="0.12">12.5</text>
<line x1="77.80" y1="276.00" x2="77.80" y2="277.20" stroke="#000" stroke-width="0.5" stroke-opacity="0.25"/>
<text x="91.0" y="285.2" font-size="5.8" text-anchor="middle" fill="#111" textLength="6.4" lengthAdjust="spacingAndGlyphs" stroke="#111" stroke-width="0.12">25</text>
<line x1="91.00" y1="276.00" x2="91.00" y2="277.20" stroke="#000" stroke-width="0.5" stroke-opacity="0.25"/>
<text x="104.1" y="285.2" font-size="5.8" text-anchor="middle" fill="#111" textLength="6.4" lengthAdjust="spacingAndGlyphs" stroke="#111" stroke-width="0.12">50</text>
<line x1="104.10" y1="276.00" x2="104.10" y2="277.20" stroke="#000" stroke-width="0.5" stroke-opacity="0.25"/>
<text x="117.1" y="285.2" font-size="5.8" text-anchor="middle" fill="#111" textLength="9.6" lengthAdjust="spacingAndGlyphs" stroke="#111" stroke-width="0.12">100</text>
<line x1="117.10" y1="276.00" x2="117.10" y2="277.20" stroke="#000" stroke-width="0.5" stroke-opacity="0.25"/>
<text x="76.6" y="297.0" font-size="7.6" text-anchor="middle" font-weight="bold" fill="#111" textLength="24.8" lengthAdjust="spacingAndGlyphs">VEN (nM)</text>
<text x="14.7" y="229.0" font-size="7.0" text-anchor="middle" font-weight="bold" fill="#111" textLength="25.5" lengthAdjust="spacingAndGlyphs" transform="rotate(-90 14.7 229.0)">ELTA (nM)</text>
<rect x="90.6" y="182.3" width="26.2" height="30.7" fill="none" stroke="#fff" stroke-width="0.55" stroke-opacity="0.5"/>
<line x1="37.60" y1="328.00" x2="123.80" y2="328.00" stroke="#000" stroke-width="0.5" stroke-opacity="0.07"/>
<line x1="37.60" y1="344.00" x2="123.80" y2="344.00" stroke="#000" stroke-width="0.5" stroke-opacity="0.07"/>
<line x1="37.60" y1="360.00" x2="123.80" y2="360.00" stroke="#000" stroke-width="0.5" stroke-opacity="0.07"/>
<line x1="37.60" y1="376.00" x2="123.80" y2="376.00" stroke="#000" stroke-width="0.5" stroke-opacity="0.07"/>
<line x1="37.60" y1="392.00" x2="123.80" y2="392.00" stroke="#000" stroke-width="0.5" stroke-opacity="0.07"/>
<line x1="37.60" y1="408.00" x2="123.80" y2="408.00" stroke="#000" stroke-width="0.5" stroke-opacity="0.07"/>
<line x1="37.60" y1="424.00" x2="123.80" y2="424.00" stroke="#000" stroke-width="0.5" stroke-opacity="0.07"/>
<line x1="39.10" y1="326.00" x2="39.10" y2="425.50" stroke="#000" stroke-width="0.5" stroke-opacity="0.07"/>
<line x1="55.70" y1="326.00" x2="55.70" y2="425.50" stroke="#000" stroke-width="0.5" stroke-opacity="0.07"/>
<line x1="72.30" y1="326.00" x2="72.30" y2="425.50" stroke="#000" stroke-width="0.5" stroke-opacity="0.07"/>
<line x1="88.90" y1="326.00" x2="88.90" y2="425.50" stroke="#000" stroke-width="0.5" stroke-opacity="0.07"/>
<line x1="105.50" y1="326.00" x2="105.50" y2="425.50" stroke="#000" stroke-width="0.5" stroke-opacity="0.07"/>
<line x1="122.20" y1="326.00" x2="122.20" y2="425.50" stroke="#000" stroke-width="0.5" stroke-opacity="0.07"/>
<path d="M95.5,370.0 97.1,369.4 98.4,368.5 99.2,367.5 99.6,366.0 99.6,364.0 99.0,362.5 98.1,361.4 96.6,360.5 95.1,360.1 91.6,359.8 85.6,360.3 83.0,361.0 81.1,361.9 79.6,363.0 79.0,364.0 78.9,365.5 79.6,367.0 80.7,368.0 83.1,369.2 85.6,369.9 88.6,370.2 92.1,370.3 95.5,370.0 M96.0,371.5 98.1,370.8 100.1,369.5 101.2,368.0 101.8,366.0 101.6,363.5 100.8,361.5 99.3,360.0 97.4,359.0 95.1,358.5 91.1,358.3 87.1,358.5 83.5,359.0 80.1,359.9 77.5,361.0 76.0,362.0 74.9,363.5 74.7,365.5 75.4,367.0 77.0,368.5 79.9,370.0 84.1,371.2 87.1,371.7 91.6,371.8 96.0,371.5 M94.1,373.0 97.4,372.5 100.1,371.4 102.1,369.8 103.3,367.5 103.6,364.5 102.8,361.5 101.2,359.5 98.6,357.9 95.6,357.2 91.6,356.9 86.6,357.1 82.1,357.8 77.4,359.0 73.8,360.5 71.6,362.0 70.6,363.5 70.6,365.5 71.8,367.5 73.8,369.0 76.8,370.5 80.6,371.8 84.1,372.6 89.1,373.1 94.1,373.0 M96.0,374.0 99.6,373.1 102.5,371.5 104.3,369.5 105.2,367.0 105.3,363.5 104.2,360.5 102.1,358.3 99.1,356.7 95.6,355.9 91.1,355.6 86.1,355.9 80.6,356.7 75.1,358.1 69.8,360.0 66.5,362.0 65.4,363.5 65.7,365.5 67.2,367.5 70.5,369.5 75.4,371.5 80.6,373.1 84.6,373.9 90.6,374.3 96.0,374.0 M97.0,375.0 101.1,373.8 104.2,372.0 106.2,369.5 107.1,366.5 106.8,362.5 105.5,359.5 103.0,357.0 99.1,355.2 95.6,354.5 90.6,354.3 85.6,354.6 80.6,355.3 73.2,357.0 59.1,361.0 57.6,361.9 57.0,363.0 57.3,365.5 57.8,366.5 58.6,367.2 75.9,373.0 82.1,374.6 85.6,375.1 91.6,375.4 97.0,375.0 M92.8,376.5 98.1,376.0 102.9,374.5 106.1,372.4 107.3,371.0 108.2,369.5 108.9,367.0 109.0,364.5 108.7,362.0 108.0,360.0 107.1,358.5 105.8,357.0 103.6,355.5 101.4,354.5 97.6,353.4 93.6,353.0 87.6,353.1 81.6,353.7 65.6,357.1 57.6,358.4 55.5,359.5 54.0,361.5 53.7,364.0 54.2,367.0 55.6,368.9 57.6,370.0 66.1,371.6 82.1,375.9 87.6,376.4 92.8,376.5 M96.1,377.5 101.6,376.4 106.1,374.5 109.0,372.0 110.2,370.0 110.9,368.0 111.4,366.0 111.4,363.5 110.8,361.0 110.0,359.0 108.9,357.5 107.1,356.0 102.4,353.5 98.1,352.3 94.1,351.9 86.6,351.9 78.6,352.7 65.6,355.1 56.6,356.3 54.8,357.0 53.3,358.0 52.4,359.0 51.6,360.5 51.1,363.5 51.7,367.5 52.5,369.0 53.4,370.0 56.0,371.5 58.1,372.0 67.1,373.3 81.6,377.0 89.1,377.7 96.1,377.5 M91.7,379.0 97.6,378.6 102.6,377.7 107.1,376.0 110.1,374.1 113.8,369.5 115.4,366.5 115.8,363.0 115.4,361.0 114.7,359.5 109.2,355.5 104.1,352.9 98.1,351.1 92.6,350.7 81.6,351.1 56.6,353.7 54.1,354.4 52.1,355.4 50.6,356.6 49.3,358.5 48.6,360.5 48.4,362.5 49.0,367.5 49.6,369.0 50.6,370.4 53.1,372.3 56.6,373.4 63.6,374.1 68.6,375.0 81.1,378.3 86.6,378.9 91.7,379.0 M123.6,354.9 113.6,353.6 102.1,349.8 96.1,348.6 85.6,348.6 66.6,349.7 55.6,350.0 51.6,349.8 48.6,349.1 47.1,348.3 45.9,347.0 45.0,345.0 44.4,343.0 43.8,338.0 43.8,326.0 M123.6,422.6 114.1,422.1 78.1,422.1 61.1,422.6 51.6,422.4 46.6,421.9 45.1,421.4 43.6,420.4 42.5,419.0 41.8,417.5 41.2,413.0 41.0,404.0 41.3,393.5 42.4,385.0 44.3,379.0 45.5,377.0 46.6,376.2 48.1,376.0 54.1,376.6 64.1,377.2 71.1,378.5 79.6,381.2 87.1,381.8 94.1,381.9 102.6,381.1 111.6,379.1 118.6,375.4 123.6,373.4 M123.6,352.7 113.1,351.8 101.6,348.5 96.1,347.6 86.1,347.5 56.1,348.5 53.1,348.3 50.6,347.7 49.0,347.0 47.6,345.9 46.6,344.5 45.7,342.0 45.1,337.5 45.1,326.0 M123.6,421.3 114.1,420.7 78.1,420.7 70.1,421.3 61.6,421.4 54.1,421.2 47.6,420.6 46.1,420.1 44.6,419.1 43.7,418.0 43.1,416.5 42.4,411.0 42.2,404.0 42.6,395.0 43.7,387.5 45.6,382.3 46.6,380.8 48.1,379.8 54.1,378.9 63.1,378.8 70.6,380.1 79.1,383.0 87.1,383.5 94.1,383.6 102.1,383.0 112.6,381.6 118.6,378.9 123.6,377.5 M123.6,350.8 113.1,350.2 101.1,347.2 96.1,346.5 86.6,346.5 56.1,347.2 52.1,346.6 50.1,345.7 48.5,344.5 47.4,343.0 46.7,341.0 46.2,337.5 46.2,326.0 M123.6,420.3 114.6,419.6 77.6,419.6 70.1,420.3 61.6,420.5 54.6,420.2 48.1,419.5 46.6,419.0 45.6,418.3 44.6,417.0 44.2,416.0 43.4,410.5 43.1,404.0 43.3,399.0 43.8,394.0 44.6,390.0 45.5,387.0 46.6,384.8 47.6,383.6 51.6,382.0 57.6,380.9 63.6,380.9 70.6,382.1 78.6,385.0 93.6,385.4 113.6,384.2 118.6,381.9 123.6,380.6 M123.6,349.0 113.1,348.6 100.6,345.9 96.1,345.4 86.1,345.4 60.6,345.9 55.6,345.9 53.1,345.5 51.1,344.6 49.6,343.5 48.4,342.0 47.6,340.1 47.2,337.0 47.2,326.0 M123.6,419.4 114.6,418.5 77.6,418.5 69.6,419.4 61.6,419.6 54.6,419.3 48.6,418.5 46.4,417.5 45.6,416.5 45.2,415.5 44.3,410.0 44.0,404.0 44.2,399.5 44.7,395.0 45.6,391.0 46.6,388.4 48.2,386.5 51.1,385.1 54.6,383.9 59.6,383.1 64.6,383.2 71.1,384.4 77.6,387.1 92.6,387.4 114.1,386.7 119.1,384.4 123.6,383.4 M123.6,347.2 112.6,346.9 100.6,344.7 96.1,344.2 63.1,344.7 55.6,344.7 54.1,344.4 52.1,343.6 50.6,342.5 49.4,341.0 48.6,339.2 48.3,336.5 48.4,326.0 M123.6,418.6 119.1,418.2 114.6,417.4 77.1,417.4 71.1,418.4 63.6,418.8 57.1,418.6 51.1,417.8 47.8,417.0 47.1,416.5 46.4,415.5 45.3,410.5 44.9,404.0 45.1,399.5 45.6,395.8 46.5,392.5 47.4,390.5 48.1,389.7 51.1,387.9 56.6,386.0 60.6,385.4 65.1,385.5 68.5,386.0 71.6,386.9 77.1,389.4 91.6,389.7 114.6,389.3 119.1,387.0 123.6,385.9 M123.6,345.4 112.6,345.1 100.6,343.4 95.6,342.9 64.6,343.5 54.6,343.2 52.8,342.5 51.5,341.5 50.4,340.0 49.8,338.5 49.5,334.5 49.7,326.0 M123.6,417.6 118.5,417.0 115.1,415.8 77.1,415.8 72.1,417.2 64.6,417.9 58.6,417.8 53.6,417.2 49.4,416.0 48.1,415.1 47.6,414.4 46.9,412.5 46.3,410.0 45.8,404.0 46.0,400.0 46.5,397.0 47.1,394.7 48.1,392.9 50.1,391.4 52.6,389.9 55.1,388.9 58.1,388.1 63.1,387.6 68.1,388.2 72.6,389.7 77.1,392.2 87.6,392.3 115.1,392.1 119.1,389.6 123.6,388.3 M123.6,343.3 112.6,343.2 95.6,341.5 83.1,341.6 65.1,342.2 55.1,341.9 53.6,341.4 52.5,340.5 51.6,339.4 51.0,338.0 50.8,333.5 51.2,326.0 M123.6,416.6 120.6,416.1 119.0,415.5 115.1,412.5 77.1,412.5 76.6,412.6 72.9,415.5 69.6,416.5 63.1,417.0 56.5,416.5 54.3,416.0 52.6,415.2 50.3,413.5 48.4,411.5 47.6,410.0 47.3,408.5 46.9,404.0 47.1,400.5 47.6,398.1 48.1,396.9 49.3,395.5 51.5,393.5 54.0,392.0 56.6,390.9 59.6,390.2 64.6,390.0 69.1,390.9 72.8,392.5 76.6,395.4 77.1,395.5 115.1,395.5 119.1,392.4 121.2,391.5 123.6,390.9 M123.6,340.7 112.6,340.6 95.1,339.6 83.6,339.7 66.1,340.7 55.6,340.5 53.6,339.4 52.5,337.5 52.3,332.5 52.9,326.0 M63.6,415.5 60.6,415.4 58.1,414.8 55.6,413.8 53.6,412.6 51.8,411.0 50.3,409.0 49.4,407.0 48.9,405.0 49.0,402.5 49.5,400.5 50.6,398.5 52.1,396.7 54.1,395.1 56.1,393.9 58.6,393.1 61.1,392.6 64.1,392.5 67.1,393.0 69.6,393.8 72.1,395.2 74.1,396.9 75.6,398.8 76.8,401.5 77.1,403.4 77.6,404.0 77.1,404.6 76.8,406.5 75.7,409.0 73.1,412.1 71.1,413.4 68.8,414.5 66.1,415.2 63.6,415.5 M123.6,414.4 120.2,413.0 117.6,410.8 115.9,408.0 114.6,404.0 115.9,400.0 117.6,397.2 120.2,395.0 123.6,393.6 M70.6,338.5 66.1,338.9 62.1,339.0 57.0,338.5 55.2,338.0 54.6,337.0 54.3,333.5 54.6,330.9 55.6,328.4 57.1,327.7 59.6,327.0 65.1,326.6 70.1,327.4 74.1,329.2 75.8,330.5 76.8,332.0 77.3,334.0 77.0,335.5 76.1,337.0 75.2,337.5 70.6,338.5 M63.6,412.5 59.6,412.1 56.2,410.5 53.8,408.0 53.0,406.5 52.6,405.0 52.8,402.0 53.5,400.5 54.5,399.0 56.1,397.6 57.6,396.7 61.1,395.6 65.1,395.7 67.1,396.2 69.1,397.1 70.6,398.2 71.9,399.5 72.8,401.0 73.4,403.0 73.4,405.0 73.0,406.5 72.2,408.0 71.0,409.5 69.6,410.6 67.6,411.6 63.6,412.5 M123.6,410.8 121.6,409.7 120.1,408.3 119.1,406.5 118.6,404.0 119.1,401.5 120.1,399.7 121.6,398.3 123.6,397.2" fill="none" stroke="#fff" stroke-width="0.4" stroke-opacity="0.35"/>
<text x="126.8" y="321.5" font-size="8.4" text-anchor="middle" fill="#111" textLength="16.4" lengthAdjust="spacingAndGlyphs">NB4</text>
<text x="32.4" y="330.0" font-size="5.8" text-anchor="end" fill="#111" textLength="9.6" lengthAdjust="spacingAndGlyphs" stroke="#111" stroke-width="0.12">625</text>
<line x1="33.60" y1="328.00" x2="37.60" y2="328.00" stroke="#000" stroke-width="0.5" stroke-opacity="0.25"/>
<text x="32.4" y="346.0" font-size="5.8" text-anchor="end" fill="#111" textLength="9.6" lengthAdjust="spacingAndGlyphs" stroke="#111" stroke-width="0.12">313</text>
<line x1="33.60" y1="344.00" x2="37.60" y2="344.00" stroke="#000" stroke-width="0.5" stroke-opacity="0.25"/>
<text x="32.4" y="362.0" font-size="5.8" text-anchor="end" fill="#111" textLength="9.6" lengthAdjust="spacingAndGlyphs" stroke="#111" stroke-width="0.12">156</text>
<line x1="33.60" y1="360.00" x2="37.60" y2="360.00" stroke="#000" stroke-width="0.5" stroke-opacity="0.25"/>
<text x="32.4" y="378.0" font-size="5.8" text-anchor="end" fill="#111" textLength="6.4" lengthAdjust="spacingAndGlyphs" stroke="#111" stroke-width="0.12">78</text>
<line x1="33.60" y1="376.00" x2="37.60" y2="376.00" stroke="#000" stroke-width="0.5" stroke-opacity="0.25"/>
<text x="32.4" y="394.0" font-size="5.8" text-anchor="end" fill="#111" textLength="6.4" lengthAdjust="spacingAndGlyphs" stroke="#111" stroke-width="0.12">39</text>
<line x1="33.60" y1="392.00" x2="37.60" y2="392.00" stroke="#000" stroke-width="0.5" stroke-opacity="0.25"/>
<text x="32.4" y="410.0" font-size="5.8" text-anchor="end" fill="#111" textLength="6.4" lengthAdjust="spacingAndGlyphs" stroke="#111" stroke-width="0.12">20</text>
<line x1="33.60" y1="408.00" x2="37.60" y2="408.00" stroke="#000" stroke-width="0.5" stroke-opacity="0.25"/>
<text x="32.4" y="426.0" font-size="5.8" text-anchor="end" fill="#111" textLength="3.2" lengthAdjust="spacingAndGlyphs" stroke="#111" stroke-width="0.12">0</text>
<line x1="33.60" y1="424.00" x2="37.60" y2="424.00" stroke="#000" stroke-width="0.5" stroke-opacity="0.25"/>
<text x="38.2" y="435.4" font-size="5.8" text-anchor="middle" fill="#111" textLength="3.2" lengthAdjust="spacingAndGlyphs" stroke="#111" stroke-width="0.12">0</text>
<line x1="39.10" y1="425.50" x2="39.10" y2="426.70" stroke="#000" stroke-width="0.5" stroke-opacity="0.25"/>
<text x="54.0" y="435.4" font-size="5.8" text-anchor="middle" fill="#111" textLength="14.4" lengthAdjust="spacingAndGlyphs" stroke="#111" stroke-width="0.12">156.3</text>
<line x1="55.70" y1="425.50" x2="55.70" y2="426.70" stroke="#000" stroke-width="0.5" stroke-opacity="0.25"/>
<text x="71.7" y="435.4" font-size="5.8" text-anchor="middle" fill="#111" textLength="14.4" lengthAdjust="spacingAndGlyphs" stroke="#111" stroke-width="0.12">312.5</text>
<line x1="72.30" y1="425.50" x2="72.30" y2="426.70" stroke="#000" stroke-width="0.5" stroke-opacity="0.25"/>
<text x="88.7" y="435.4" font-size="5.8" text-anchor="middle" fill="#111" textLength="9.6" lengthAdjust="spacingAndGlyphs" stroke="#111" stroke-width="0.12">625</text>
<line x1="88.90" y1="425.50" x2="88.90" y2="426.70" stroke="#000" stroke-width="0.5" stroke-opacity="0.25"/>
<text x="105.2" y="435.4" font-size="5.8" text-anchor="middle" fill="#111" textLength="12.8" lengthAdjust="spacingAndGlyphs" stroke="#111" stroke-width="0.12">1250</text>
<line x1="105.50" y1="425.50" x2="105.50" y2="426.70" stroke="#000" stroke-width="0.5" stroke-opacity="0.25"/>
<text x="121.8" y="435.4" font-size="5.8" text-anchor="middle" fill="#111" textLength="12.8" lengthAdjust="spacingAndGlyphs" stroke="#111" stroke-width="0.12">2500</text>
<line x1="122.20" y1="425.50" x2="122.20" y2="426.70" stroke="#000" stroke-width="0.5" stroke-opacity="0.25"/>
<text x="80.4" y="446.4" font-size="7.6" text-anchor="middle" font-weight="bold" fill="#111" textLength="24.8" lengthAdjust="spacingAndGlyphs">VEN (nM)</text>
<text x="16.8" y="376.5" font-size="7.0" text-anchor="middle" font-weight="bold" fill="#111" textLength="25.5" lengthAdjust="spacingAndGlyphs" transform="rotate(-90 16.8 376.5)">ELTA (nM)</text>
<rect x="88.5" y="328.0" width="33.7" height="32.4" fill="none" stroke="#fff" stroke-width="0.55" stroke-opacity="0.5"/>
<rect x="0.5" y="0.5" width="519" height="576" fill="none" stroke="#000" stroke-width="1"/>
</svg>
</div></body></html>
